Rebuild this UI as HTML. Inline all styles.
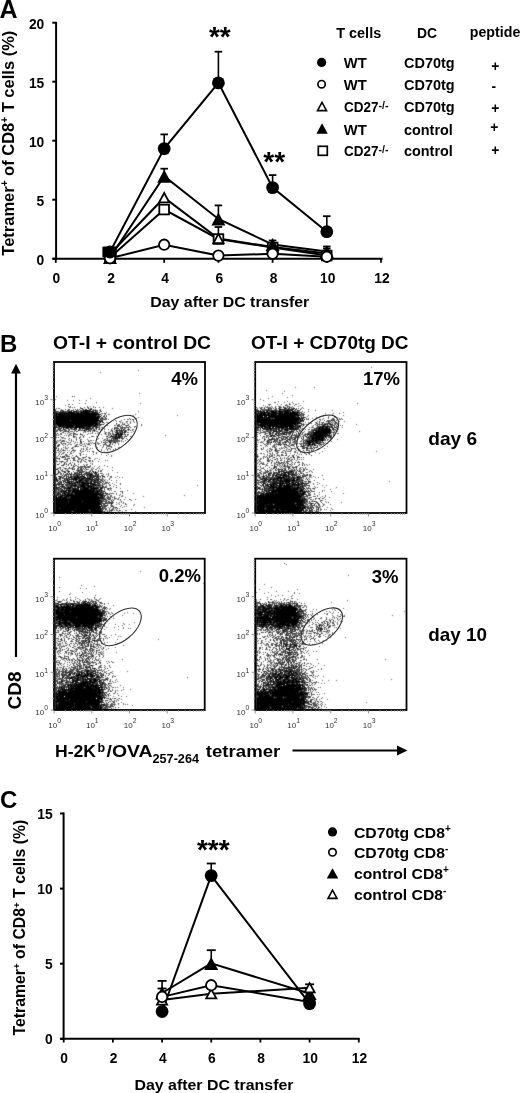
<!DOCTYPE html>
<html><head><meta charset="utf-8"><style>
html,body{margin:0;padding:0;background:#fff;width:520px;height:1093px;overflow:hidden}
svg{display:block;filter:grayscale(1)}
text{font-family:"Liberation Sans",sans-serif}
</style></head><body>
<svg width="520" height="1093" viewBox="0 0 520 1093" font-family="Liberation Sans, sans-serif">
<defs><filter id="bl" x="-2%" y="-2%" width="104%" height="104%"><feConvolveMatrix order="3" kernelMatrix="1 6 1 6 32 6 1 6 1" divisor="60" edgeMode="none"/></filter></defs>
<text x="-0.5" y="17.5" font-size="25" font-weight="bold">A</text>
<line x1="56.10" y1="22.00" x2="56.10" y2="259.50" stroke="#000" stroke-width="2"/>
<line x1="52.30" y1="258.70" x2="56.50" y2="258.70" stroke="#000" stroke-width="2"/>
<text x="44.3" y="264.7" font-size="13.8" font-weight="bold" text-anchor="end">0</text>
<line x1="52.30" y1="199.70" x2="56.50" y2="199.70" stroke="#000" stroke-width="2"/>
<text x="44.3" y="205.7" font-size="13.8" font-weight="bold" text-anchor="end">5</text>
<line x1="52.30" y1="140.70" x2="56.50" y2="140.70" stroke="#000" stroke-width="2"/>
<text x="44.3" y="146.7" font-size="13.8" font-weight="bold" text-anchor="end">10</text>
<line x1="52.30" y1="81.70" x2="56.50" y2="81.70" stroke="#000" stroke-width="2"/>
<text x="44.3" y="87.69999999999999" font-size="13.8" font-weight="bold" text-anchor="end">15</text>
<line x1="52.30" y1="22.70" x2="56.50" y2="22.70" stroke="#000" stroke-width="2"/>
<text x="44.3" y="28.69999999999999" font-size="13.8" font-weight="bold" text-anchor="end">20</text>
<line x1="52.50" y1="258.70" x2="382.60" y2="258.70" stroke="#000" stroke-width="2"/>
<line x1="55.80" y1="258.00" x2="55.80" y2="262.80" stroke="#000" stroke-width="1.8"/>
<text x="56.3" y="282.7" font-size="13.8" font-weight="bold" text-anchor="middle">0</text>
<line x1="110.00" y1="258.00" x2="110.00" y2="262.80" stroke="#000" stroke-width="1.8"/>
<text x="111.0" y="282.7" font-size="13.8" font-weight="bold" text-anchor="middle">2</text>
<line x1="164.20" y1="258.00" x2="164.20" y2="262.80" stroke="#000" stroke-width="1.8"/>
<text x="165.2" y="282.7" font-size="13.8" font-weight="bold" text-anchor="middle">4</text>
<line x1="218.40" y1="258.00" x2="218.40" y2="262.80" stroke="#000" stroke-width="1.8"/>
<text x="219.40000000000003" y="282.7" font-size="13.8" font-weight="bold" text-anchor="middle">6</text>
<line x1="272.60" y1="258.00" x2="272.60" y2="262.80" stroke="#000" stroke-width="1.8"/>
<text x="273.6" y="282.7" font-size="13.8" font-weight="bold" text-anchor="middle">8</text>
<line x1="326.80" y1="258.00" x2="326.80" y2="262.80" stroke="#000" stroke-width="1.8"/>
<text x="327.8" y="282.7" font-size="13.8" font-weight="bold" text-anchor="middle">10</text>
<line x1="381.00" y1="258.00" x2="381.00" y2="262.80" stroke="#000" stroke-width="1.8"/>
<text x="382.00000000000006" y="282.7" font-size="13.8" font-weight="bold" text-anchor="middle">12</text>
<text x="150.3" y="306.7" font-size="15.3" font-weight="bold" textLength="159" lengthAdjust="spacingAndGlyphs">Day after DC transfer</text>
<text transform="translate(13.5,143.2) rotate(-90)" font-size="16.5" font-weight="bold" text-anchor="middle">Tetramer<tspan dy="-5.5" font-size="10">+</tspan><tspan dy="5.5"> of CD8</tspan><tspan dy="-5.5" font-size="10">+</tspan><tspan dy="5.5"> T cells (%)</tspan></text>
<rect x="102.4" y="246.4" width="14.4" height="11" rx="1.2"/>
<polyline points="110.0,252.0 164.2,148.6 218.4,82.9 272.6,187.6 326.8,231.7" fill="none" stroke="#000" stroke-width="2"/>
<polyline points="110.0,258.3 164.2,244.7 218.4,255.6 272.6,253.8 326.8,256.8" fill="none" stroke="#000" stroke-width="2"/>
<polyline points="110.0,254.0 164.2,197.7 218.4,238.6 272.6,247.0 326.8,253.5" fill="none" stroke="#000" stroke-width="2"/>
<polyline points="110.0,257.5 164.2,176.3 218.4,219.0 272.6,244.5 326.8,251.5" fill="none" stroke="#000" stroke-width="2"/>
<polyline points="110.0,257.5 164.2,209.5 218.4,239.0 272.6,247.5 326.8,255.5" fill="none" stroke="#000" stroke-width="2"/>
<line x1="164.20" y1="148.60" x2="164.20" y2="134.40" stroke="#000" stroke-width="1.6"/>
<line x1="160.45" y1="134.40" x2="167.95" y2="134.40" stroke="#000" stroke-width="1.8"/>
<line x1="218.40" y1="82.90" x2="218.40" y2="51.70" stroke="#000" stroke-width="1.6"/>
<line x1="214.65" y1="51.70" x2="222.15" y2="51.70" stroke="#000" stroke-width="1.8"/>
<line x1="272.60" y1="187.60" x2="272.60" y2="175.10" stroke="#000" stroke-width="1.6"/>
<line x1="268.85" y1="175.10" x2="276.35" y2="175.10" stroke="#000" stroke-width="1.8"/>
<line x1="326.80" y1="231.70" x2="326.80" y2="216.20" stroke="#000" stroke-width="1.6"/>
<line x1="323.05" y1="216.20" x2="330.55" y2="216.20" stroke="#000" stroke-width="1.8"/>
<line x1="218.40" y1="238.60" x2="218.40" y2="227.00" stroke="#000" stroke-width="1.6"/>
<line x1="214.65" y1="227.00" x2="222.15" y2="227.00" stroke="#000" stroke-width="1.8"/>
<line x1="326.80" y1="253.50" x2="326.80" y2="248.50" stroke="#000" stroke-width="1.6"/>
<line x1="323.05" y1="248.50" x2="330.55" y2="248.50" stroke="#000" stroke-width="1.8"/>
<line x1="164.20" y1="176.30" x2="164.20" y2="168.70" stroke="#000" stroke-width="1.6"/>
<line x1="160.45" y1="168.70" x2="167.95" y2="168.70" stroke="#000" stroke-width="1.8"/>
<line x1="218.40" y1="219.00" x2="218.40" y2="205.40" stroke="#000" stroke-width="1.6"/>
<line x1="214.65" y1="205.40" x2="222.15" y2="205.40" stroke="#000" stroke-width="1.8"/>
<line x1="272.60" y1="244.50" x2="272.60" y2="240.50" stroke="#000" stroke-width="1.6"/>
<line x1="268.85" y1="240.50" x2="276.35" y2="240.50" stroke="#000" stroke-width="1.8"/>
<line x1="326.80" y1="251.50" x2="326.80" y2="246.50" stroke="#000" stroke-width="1.6"/>
<line x1="323.05" y1="246.50" x2="330.55" y2="246.50" stroke="#000" stroke-width="1.8"/>
<rect x="105.2" y="252.7" width="9.7" height="9.7" fill="#fff" stroke="#000" stroke-width="1.8"/>
<rect x="159.3" y="204.7" width="9.7" height="9.7" fill="#fff" stroke="#000" stroke-width="1.8"/>
<rect x="213.6" y="234.2" width="9.7" height="9.7" fill="#fff" stroke="#000" stroke-width="1.8"/>
<rect x="267.8" y="242.7" width="9.7" height="9.7" fill="#fff" stroke="#000" stroke-width="1.8"/>
<rect x="321.9" y="250.7" width="9.7" height="9.7" fill="#fff" stroke="#000" stroke-width="1.8"/>
<polygon points="110.0,249.3 115.0,258.6 105.0,258.6" fill="#fff" stroke="#000" stroke-width="1.8" stroke-linejoin="miter"/>
<polygon points="164.2,193.0 169.2,202.3 159.1,202.3" fill="#fff" stroke="#000" stroke-width="1.8" stroke-linejoin="miter"/>
<polygon points="218.4,233.9 223.5,243.2 213.4,243.2" fill="#fff" stroke="#000" stroke-width="1.8" stroke-linejoin="miter"/>
<polygon points="272.6,242.3 277.7,251.7 267.6,251.7" fill="#fff" stroke="#000" stroke-width="1.8" stroke-linejoin="miter"/>
<polygon points="326.8,248.8 331.9,258.1 321.8,258.1" fill="#fff" stroke="#000" stroke-width="1.8" stroke-linejoin="miter"/>
<polygon points="110.0,251.0 117.0,264.0 103.0,264.0"/>
<polygon points="164.2,169.8 171.2,182.8 157.2,182.8"/>
<polygon points="218.4,212.5 225.4,225.5 211.4,225.5"/>
<polygon points="272.6,238.0 279.6,251.0 265.6,251.0"/>
<polygon points="326.8,245.0 333.8,258.0 319.8,258.0"/>
<circle cx="110.0" cy="258.3" r="5.199999999999999" fill="#fff" stroke="#000" stroke-width="1.8"/>
<circle cx="164.2" cy="244.7" r="5.199999999999999" fill="#fff" stroke="#000" stroke-width="1.8"/>
<circle cx="218.4" cy="255.6" r="5.199999999999999" fill="#fff" stroke="#000" stroke-width="1.8"/>
<circle cx="272.6" cy="253.8" r="5.199999999999999" fill="#fff" stroke="#000" stroke-width="1.8"/>
<circle cx="326.8" cy="256.8" r="5.199999999999999" fill="#fff" stroke="#000" stroke-width="1.8"/>
<circle cx="110.0" cy="252.0" r="6.4"/>
<circle cx="164.2" cy="148.6" r="6.4"/>
<circle cx="218.4" cy="82.9" r="6.4"/>
<circle cx="272.6" cy="187.6" r="6.4"/>
<circle cx="326.8" cy="231.7" r="6.4"/>
<text x="219.8" y="45.5" font-size="28" font-weight="bold" text-anchor="middle">**</text>
<text x="274.2" y="170.5" font-size="28" font-weight="bold" text-anchor="middle">**</text>
<text x="336.2" y="37.8" font-size="13.8" font-weight="bold" textLength="45" lengthAdjust="spacingAndGlyphs">T cells</text>
<text x="417" y="37.8" font-size="13.8" font-weight="bold" textLength="20" lengthAdjust="spacingAndGlyphs">DC</text>
<text x="469.8" y="37.2" font-size="13.8" font-weight="bold" textLength="50.5" lengthAdjust="spacingAndGlyphs">peptide</text>
<circle cx="321.6" cy="62.400000000000006" r="4.6"/>
<text x="343.8" y="68.2" font-size="13.8" font-weight="bold" textLength="23" lengthAdjust="spacingAndGlyphs">WT</text>
<text x="404" y="68.2" font-size="13.8" font-weight="bold" textLength="50.6" lengthAdjust="spacingAndGlyphs">CD70tg</text>
<circle cx="321.6" cy="84.2" r="3.7" fill="#fff" stroke="#000" stroke-width="1.7"/>
<text x="343.8" y="90.0" font-size="13.8" font-weight="bold" textLength="23" lengthAdjust="spacingAndGlyphs">WT</text>
<text x="404" y="90.0" font-size="13.8" font-weight="bold" textLength="50.6" lengthAdjust="spacingAndGlyphs">CD70tg</text>
<polygon points="322,102.4 326.5,110.60000000000001 317.5,110.60000000000001" fill="#fff" stroke="#000" stroke-width="1.6"/>
<text x="344" y="112.4" font-size="13.8" font-weight="bold"><tspan textLength="34.5" lengthAdjust="spacingAndGlyphs">CD27</tspan><tspan dy="-3.2" font-size="10.5">-/-</tspan></text>
<text x="404" y="112.4" font-size="13.8" font-weight="bold" textLength="50.6" lengthAdjust="spacingAndGlyphs">CD70tg</text>
<polygon points="322,123.29999999999998 327.8,133.7 316.4,133.7"/>
<text x="343.8" y="134.5" font-size="13.8" font-weight="bold" textLength="23" lengthAdjust="spacingAndGlyphs">WT</text>
<text x="404" y="134.5" font-size="13.8" font-weight="bold" textLength="48.8" lengthAdjust="spacingAndGlyphs">control</text>
<rect x="318.3" y="146.29999999999998" width="9" height="9" fill="#fff" stroke="#000" stroke-width="1.7"/>
<text x="344" y="156.4" font-size="13.8" font-weight="bold"><tspan textLength="34.5" lengthAdjust="spacingAndGlyphs">CD27</tspan><tspan dy="-3.2" font-size="10.5">-/-</tspan></text>
<text x="404" y="156.4" font-size="13.8" font-weight="bold" textLength="48.8" lengthAdjust="spacingAndGlyphs">control</text>
<text x="495.4" y="70.6" font-size="13.8" font-weight="bold" text-anchor="middle">+</text>
<text x="493.8" y="90.9" font-size="13.8" font-weight="bold" text-anchor="middle">-</text>
<text x="495.4" y="113.2" font-size="13.8" font-weight="bold" text-anchor="middle">+</text>
<text x="494.2" y="131.9" font-size="13.8" font-weight="bold" text-anchor="middle">+</text>
<text x="495.4" y="154.5" font-size="13.8" font-weight="bold" text-anchor="middle">+</text>
<text x="0" y="352.3" font-size="24" font-weight="bold">B</text>
<text x="53" y="348.8" font-size="19" font-weight="bold" textLength="158" lengthAdjust="spacingAndGlyphs">OT-I + control DC</text>
<text x="251" y="348.8" font-size="19" font-weight="bold" textLength="157.5" lengthAdjust="spacingAndGlyphs">OT-I + CD70tg DC</text>
<g filter="url(#bl)">
<path d="M138 370.5h1M100 372.5h1M139 393.5h1M56 396.5h1M74 396.5h1M90 398.5h1M55 399.5h1M67 400.5h1M73 400.5h1M79 400.5h1M86 400.5h1M96 402.5h1M79 403.5h1M85 403.5h1M140 403.5h1M68 404.5h2M72 404.5h1M65 405.5h1M68 406.5h1M70 406.5h1M87 406.5h1M90 406.5h1M93 406.5h1M69 407.5h2M72 407.5h1M74 407.5h1M80 407.5h1M84 407.5h1M87 407.5h2M93 407.5h1M99 407.5h1M103 407.5h1M56 408.5h1M58 408.5h2M80 408.5h1M90 408.5h1M112 408.5h1M61 409.5h1M69 409.5h1M73 409.5h1M75 409.5h1M79 409.5h1M82 409.5h1M89 409.5h1M93 409.5h1M95 409.5h1M100 409.5h1M60 410.5h2M63 410.5h1M68 410.5h2M72 410.5h2M77 410.5h2M81 410.5h2M92 410.5h1M94 410.5h1M96 410.5h2M99 410.5h1M56 411.5h1M58 411.5h1M61 411.5h1M64 411.5h1M66 411.5h2M77 411.5h3M96 411.5h2M100 411.5h2M138 411.5h1M57 412.5h2M75 412.5h1M79 412.5h1M90 412.5h1M106 412.5h1M101 413.5h2M105 413.5h1M105 414.5h1M108 414.5h2M135 414.5h1M97 415.5h1M99 415.5h1M106 415.5h1M130 415.5h1M133 415.5h1M177 415.5h1M104 416.5h1M102 417.5h1M104 417.5h2M138 417.5h1M99 418.5h3M103 418.5h1M106 418.5h1M129 418.5h1M135 418.5h2M101 419.5h3M106 419.5h1M108 419.5h1M124 419.5h1M127 419.5h2M133 419.5h1M100 420.5h1M115 420.5h1M121 420.5h1M133 420.5h1M98 421.5h1M116 421.5h1M119 421.5h2M126 421.5h2M130 421.5h1M133 421.5h1M98 422.5h1M106 422.5h2M120 422.5h1M122 422.5h1M126 422.5h1M130 422.5h1M134 422.5h1M104 423.5h1M122 423.5h1M124 423.5h1M127 423.5h1M130 423.5h1M98 424.5h1M102 424.5h1M116 424.5h1M118 424.5h2M122 424.5h2M128 424.5h1M141 424.5h1M56 425.5h1M99 425.5h1M107 425.5h1M114 425.5h2M119 425.5h1M125 425.5h2M128 425.5h1M141 425.5h1M74 426.5h1M92 426.5h1M97 426.5h1M99 426.5h1M104 426.5h1M117 426.5h4M122 426.5h1M126 426.5h1M134 426.5h2M58 427.5h1M62 427.5h1M85 427.5h1M99 427.5h1M101 427.5h2M114 427.5h4M120 427.5h2M123 427.5h5M134 427.5h1M59 428.5h1M65 428.5h1M72 428.5h1M81 428.5h1M93 428.5h1M95 428.5h1M102 428.5h1M104 428.5h1M112 428.5h1M115 428.5h3M120 428.5h2M124 428.5h2M128 428.5h1M57 429.5h1M59 429.5h1M65 429.5h1M68 429.5h1M71 429.5h2M75 429.5h1M78 429.5h1M80 429.5h1M82 429.5h1M84 429.5h2M89 429.5h2M93 429.5h1M98 429.5h1M104 429.5h1M108 429.5h1M111 429.5h1M116 429.5h2M124 429.5h1M127 429.5h1M129 429.5h1M132 429.5h2M56 430.5h1M60 430.5h1M64 430.5h3M68 430.5h2M74 430.5h2M79 430.5h4M85 430.5h1M88 430.5h1M92 430.5h1M95 430.5h1M101 430.5h1M112 430.5h1M115 430.5h1M119 430.5h1M122 430.5h1M124 430.5h1M126 430.5h1M128 430.5h1M132 430.5h1M56 431.5h2M63 431.5h2M66 431.5h2M70 431.5h3M74 431.5h1M77 431.5h1M85 431.5h1M87 431.5h1M92 431.5h1M96 431.5h2M104 431.5h1M110 431.5h1M114 431.5h1M120 431.5h1M126 431.5h1M133 431.5h1M62 432.5h1M68 432.5h2M73 432.5h1M83 432.5h1M85 432.5h1M92 432.5h1M98 432.5h1M105 432.5h2M108 432.5h2M112 432.5h1M118 432.5h2M121 432.5h1M123 432.5h1M127 432.5h2M131 432.5h1M60 433.5h2M65 433.5h1M67 433.5h1M70 433.5h2M74 433.5h2M80 433.5h1M88 433.5h1M90 433.5h1M92 433.5h1M95 433.5h1M97 433.5h1M99 433.5h1M104 433.5h2M108 433.5h3M112 433.5h2M119 433.5h1M124 433.5h1M56 434.5h1M58 434.5h1M60 434.5h2M69 434.5h2M73 434.5h4M81 434.5h2M87 434.5h1M101 434.5h1M105 434.5h2M108 434.5h1M112 434.5h3M123 434.5h3M127 434.5h2M56 435.5h1M58 435.5h1M64 435.5h1M66 435.5h1M68 435.5h2M71 435.5h1M82 435.5h1M84 435.5h1M108 435.5h2M113 435.5h2M117 435.5h1M125 435.5h1M127 435.5h1M165 435.5h1M60 436.5h1M68 436.5h1M74 436.5h2M80 436.5h1M91 436.5h1M93 436.5h1M96 436.5h1M114 436.5h1M117 436.5h1M122 436.5h1M124 436.5h2M130 436.5h2M56 437.5h1M61 437.5h3M73 437.5h2M76 437.5h1M79 437.5h2M83 437.5h1M89 437.5h1M108 437.5h1M110 437.5h1M113 437.5h1M121 437.5h2M124 437.5h1M62 438.5h1M64 438.5h2M76 438.5h1M79 438.5h1M98 438.5h1M102 438.5h1M106 438.5h1M111 438.5h2M118 438.5h1M126 438.5h1M60 439.5h1M68 439.5h1M71 439.5h1M76 439.5h1M80 439.5h2M87 439.5h1M97 439.5h1M104 439.5h2M107 439.5h1M109 439.5h1M114 439.5h1M116 439.5h1M122 439.5h1M127 439.5h1M57 440.5h1M59 440.5h2M63 440.5h2M69 440.5h1M71 440.5h1M76 440.5h1M88 440.5h1M90 440.5h2M93 440.5h1M103 440.5h2M108 440.5h2M113 440.5h3M117 440.5h3M121 440.5h1M125 440.5h1M56 441.5h1M58 441.5h1M61 441.5h4M66 441.5h1M71 441.5h1M81 441.5h1M83 441.5h1M88 441.5h2M101 441.5h1M105 441.5h1M108 441.5h1M111 441.5h3M115 441.5h5M121 441.5h1M123 441.5h1M56 442.5h2M60 442.5h2M67 442.5h2M70 442.5h1M75 442.5h1M77 442.5h1M80 442.5h1M90 442.5h1M92 442.5h1M97 442.5h1M101 442.5h1M104 442.5h4M111 442.5h1M117 442.5h1M56 443.5h1M64 443.5h2M69 443.5h1M74 443.5h1M80 443.5h2M84 443.5h1M86 443.5h1M88 443.5h2M91 443.5h1M93 443.5h1M97 443.5h3M112 443.5h1M115 443.5h1M118 443.5h1M58 444.5h1M68 444.5h1M70 444.5h2M76 444.5h2M79 444.5h1M82 444.5h1M84 444.5h1M87 444.5h1M89 444.5h1M98 444.5h1M103 444.5h1M105 444.5h2M110 444.5h1M112 444.5h1M118 444.5h1M57 445.5h1M59 445.5h1M63 445.5h1M67 445.5h1M75 445.5h2M80 445.5h2M85 445.5h1M90 445.5h1M95 445.5h1M100 445.5h1M103 445.5h1M106 445.5h4M114 445.5h1M58 446.5h1M65 446.5h1M74 446.5h1M76 446.5h3M103 446.5h1M107 446.5h3M111 446.5h1M56 447.5h1M63 447.5h1M65 447.5h1M68 447.5h1M72 447.5h2M97 447.5h1M106 447.5h1M111 447.5h1M118 447.5h2M61 448.5h1M65 448.5h3M71 448.5h1M81 448.5h1M83 448.5h1M86 448.5h1M90 448.5h1M92 448.5h1M106 448.5h1M108 448.5h2M115 448.5h1M58 449.5h1M61 449.5h1M63 449.5h1M73 449.5h1M81 449.5h1M86 449.5h2M89 449.5h1M101 449.5h1M113 449.5h1M115 449.5h1M60 450.5h1M62 450.5h1M64 450.5h2M67 450.5h1M69 450.5h1M73 450.5h3M85 450.5h1M98 450.5h1M101 450.5h1M107 450.5h1M113 450.5h1M59 451.5h1M61 451.5h1M74 451.5h1M80 451.5h1M82 451.5h2M87 451.5h1M89 451.5h1M93 451.5h1M104 451.5h1M112 451.5h1M56 452.5h1M58 452.5h1M60 452.5h1M63 452.5h2M70 452.5h1M73 452.5h1M81 452.5h1M93 452.5h1M96 452.5h1M59 453.5h1M62 453.5h2M70 453.5h1M79 453.5h2M59 454.5h1M61 454.5h1M65 454.5h2M69 454.5h1M83 454.5h1M86 454.5h1M93 454.5h1M101 454.5h1M108 454.5h1M58 455.5h1M65 455.5h3M72 455.5h1M76 455.5h1M106 455.5h1M111 455.5h1M57 456.5h1M62 456.5h2M66 456.5h2M69 456.5h1M75 456.5h3M111 456.5h1M56 457.5h1M61 457.5h1M64 457.5h2M71 457.5h1M73 457.5h2M77 457.5h2M82 457.5h4M88 457.5h2M56 458.5h1M58 458.5h1M65 458.5h1M67 458.5h1M72 458.5h3M78 458.5h3M83 458.5h1M90 458.5h1M95 458.5h1M97 458.5h1M64 459.5h4M73 459.5h2M78 459.5h2M81 459.5h1M86 459.5h1M94 459.5h1M99 459.5h1M56 460.5h1M70 460.5h1M74 460.5h2M77 460.5h1M81 460.5h1M83 460.5h1M88 460.5h3M92 460.5h1M105 460.5h1M107 460.5h1M56 461.5h2M59 461.5h3M63 461.5h1M66 461.5h2M78 461.5h1M80 461.5h2M84 461.5h1M89 461.5h2M98 461.5h1M64 462.5h2M70 462.5h1M72 462.5h1M78 462.5h1M86 462.5h1M59 463.5h1M66 463.5h1M69 463.5h2M90 463.5h1M92 463.5h1M63 464.5h1M71 464.5h1M78 464.5h1M83 464.5h1M86 464.5h2M92 464.5h1M61 465.5h1M68 465.5h1M73 465.5h1M75 465.5h2M84 465.5h1M90 465.5h1M104 465.5h1M66 466.5h1M77 466.5h2M80 466.5h1M82 466.5h2M85 466.5h1M87 466.5h4M94 466.5h1M99 466.5h1M107 466.5h1M59 467.5h1M63 467.5h1M72 467.5h2M78 467.5h5M84 467.5h2M87 467.5h1M89 467.5h1M92 467.5h1M98 467.5h1M112 467.5h1M57 468.5h1M60 468.5h1M64 468.5h1M66 468.5h1M68 468.5h4M74 468.5h1M77 468.5h1M80 468.5h1M91 468.5h1M93 468.5h1M97 468.5h1M99 468.5h1M60 469.5h1M62 469.5h1M65 469.5h1M67 469.5h1M73 469.5h2M77 469.5h2M82 469.5h1M84 469.5h1M87 469.5h2M91 469.5h2M95 469.5h2M102 469.5h1M58 470.5h1M62 470.5h1M66 470.5h3M76 470.5h2M80 470.5h2M85 470.5h1M92 470.5h1M98 470.5h1M100 470.5h2M112 470.5h1M59 471.5h1M63 471.5h1M65 471.5h1M67 471.5h1M73 471.5h1M77 471.5h1M79 471.5h4M84 471.5h1M86 471.5h1M90 471.5h1M100 471.5h2M59 472.5h2M71 472.5h1M74 472.5h3M82 472.5h2M85 472.5h1M91 472.5h1M94 472.5h1M97 472.5h1M117 472.5h1M57 473.5h2M60 473.5h2M63 473.5h1M66 473.5h1M76 473.5h2M84 473.5h1M87 473.5h2M92 473.5h1M98 473.5h1M100 473.5h3M108 473.5h1M57 474.5h1M60 474.5h2M63 474.5h1M66 474.5h2M69 474.5h1M72 474.5h2M75 474.5h1M78 474.5h1M82 474.5h1M84 474.5h3M97 474.5h1M103 474.5h1M106 474.5h1M108 474.5h1M65 475.5h1M68 475.5h1M70 475.5h2M73 475.5h3M81 475.5h1M88 475.5h1M94 475.5h1M96 475.5h1M101 475.5h1M108 475.5h1M63 476.5h1M67 476.5h1M72 476.5h1M79 476.5h1M88 476.5h1M92 476.5h1M99 476.5h2M107 476.5h1M110 476.5h2M117 476.5h1M59 477.5h1M61 477.5h1M63 477.5h1M72 477.5h2M82 477.5h1M88 477.5h1M94 477.5h1M100 477.5h1M102 477.5h1M104 477.5h1M110 477.5h2M115 477.5h1M119 477.5h1M122 477.5h1M58 478.5h1M63 478.5h1M65 478.5h1M67 478.5h1M69 478.5h1M80 478.5h1M91 478.5h1M94 478.5h1M97 478.5h1M99 478.5h1M109 478.5h1M65 479.5h1M68 479.5h1M78 479.5h1M84 479.5h1M95 479.5h1M99 479.5h5M105 479.5h1M109 479.5h1M58 480.5h1M60 480.5h1M63 480.5h2M66 480.5h1M69 480.5h1M71 480.5h1M74 480.5h1M83 480.5h1M89 480.5h2M93 480.5h1M96 480.5h1M100 480.5h1M102 480.5h1M107 480.5h1M111 480.5h1M116 480.5h1M56 481.5h1M60 481.5h2M65 481.5h1M75 481.5h1M84 481.5h1M88 481.5h2M92 481.5h1M96 481.5h1M98 481.5h1M100 481.5h1M103 481.5h1M105 481.5h1M59 482.5h1M70 482.5h1M72 482.5h2M89 482.5h1M93 482.5h1M98 482.5h2M103 482.5h1M105 482.5h1M109 482.5h1M116 482.5h1M60 483.5h1M66 483.5h2M76 483.5h1M78 483.5h1M80 483.5h1M95 483.5h1M104 483.5h3M112 483.5h1M120 483.5h1M60 484.5h1M66 484.5h1M68 484.5h1M70 484.5h1M73 484.5h1M76 484.5h2M97 484.5h2M100 484.5h1M102 484.5h3M109 484.5h1M114 484.5h1M120 484.5h1M58 485.5h2M61 485.5h1M63 485.5h1M65 485.5h1M68 485.5h2M77 485.5h2M100 485.5h2M106 485.5h1M109 485.5h2M116 485.5h1M197 485.5h1M56 486.5h1M59 486.5h1M66 486.5h2M69 486.5h1M72 486.5h1M79 486.5h1M86 486.5h1M94 486.5h7M105 486.5h2M113 486.5h1M61 487.5h1M63 487.5h1M66 487.5h1M75 487.5h1M99 487.5h1M103 487.5h1M105 487.5h2M110 487.5h1M58 488.5h2M63 488.5h1M71 488.5h1M89 488.5h1M104 488.5h1M107 488.5h1M109 488.5h3M120 488.5h1M56 489.5h1M59 489.5h3M67 489.5h1M71 489.5h1M97 489.5h2M104 489.5h1M107 489.5h1M110 489.5h1M59 490.5h2M64 490.5h1M95 490.5h1M104 490.5h1M109 490.5h1M111 490.5h1M127 490.5h1M56 491.5h4M71 491.5h1M100 491.5h1M102 491.5h1M114 491.5h2M120 491.5h3M56 492.5h2M59 492.5h2M62 492.5h1M70 492.5h1M99 492.5h1M102 492.5h2M56 493.5h1M66 493.5h1M73 493.5h1M101 493.5h1M104 493.5h1M109 493.5h5M116 493.5h1M122 493.5h1M133 493.5h1M56 494.5h1M59 494.5h1M61 494.5h1M63 494.5h1M103 494.5h1M107 494.5h3M116 494.5h1M120 494.5h1M58 495.5h2M98 495.5h1M107 495.5h1M110 495.5h2M122 495.5h1M184 495.5h1M63 496.5h1M99 496.5h1M103 496.5h1M107 496.5h2M110 496.5h2M114 496.5h1M121 496.5h2M143 496.5h1M69 497.5h1M104 497.5h1M106 497.5h5M119 497.5h1M125 497.5h1M104 498.5h2M108 498.5h3M114 498.5h3M118 498.5h1M100 499.5h2M103 499.5h1M106 499.5h1M110 499.5h1M112 499.5h1M114 499.5h1M117 499.5h2M120 499.5h1M124 499.5h1M129 499.5h2M135 499.5h1M102 500.5h1M105 500.5h3M120 500.5h1M131 500.5h1M102 501.5h2M105 501.5h2M109 501.5h1M111 501.5h1M121 501.5h1M102 502.5h1M105 502.5h4M111 502.5h3M116 502.5h1M119 502.5h1M121 502.5h1M123 502.5h1M101 503.5h1M104 503.5h1M107 503.5h4M118 503.5h1M123 503.5h1M125 503.5h1M103 504.5h1M107 504.5h1M116 504.5h1M119 504.5h1M125 504.5h2M134 504.5h1M102 505.5h3M106 505.5h1M110 505.5h3M121 505.5h1M133 505.5h1M102 506.5h2M105 506.5h2M112 506.5h1M120 506.5h1M124 506.5h1M126 506.5h1M103 507.5h3M108 507.5h1M110 507.5h1M113 507.5h3M122 507.5h1M144 507.5h1M103 508.5h4M109 508.5h1M112 508.5h2M115 508.5h1M119 508.5h1M103 509.5h1M106 509.5h1M109 509.5h1M111 509.5h3M116 509.5h1M131 509.5h1M89 510.5h1M102 510.5h1M105 510.5h1M107 510.5h1M109 510.5h2M114 510.5h1M116 510.5h2M120 510.5h1M125 510.5h2M72 511.5h1M103 511.5h1M111 511.5h1M118 511.5h1M122 511.5h1M135 511.5h1M115 512.5h1M118 512.5h2M121 512.5h1M124 512.5h1M126 512.5h1M132 512.5h1" stroke="#606060" stroke-width="1" fill="none" shape-rendering="crispEdges"/>
<path d="M72 396.5h1M95 407.5h1M82 408.5h1M91 408.5h1M55 409.5h1M65 409.5h1M68 409.5h1M77 409.5h1M83 409.5h1M85 409.5h2M90 409.5h1M62 410.5h1M67 410.5h1M80 410.5h1M83 410.5h2M90 410.5h1M100 410.5h1M60 411.5h1M62 411.5h1M65 411.5h1M68 411.5h1M70 411.5h1M73 411.5h1M80 411.5h1M82 411.5h1M88 411.5h1M90 411.5h1M61 412.5h1M63 412.5h1M65 412.5h1M67 412.5h1M92 412.5h1M94 412.5h1M97 412.5h1M57 413.5h1M96 413.5h1M98 413.5h1M65 414.5h1M99 414.5h1M57 415.5h1M101 415.5h1M104 415.5h1M96 416.5h1M103 416.5h1M106 416.5h1M105 418.5h1M100 419.5h1M104 419.5h2M130 419.5h1M132 419.5h1M70 420.5h1M102 420.5h1M101 421.5h1M97 422.5h1M99 422.5h1M102 422.5h2M98 423.5h1M116 423.5h1M94 424.5h1M97 424.5h1M99 424.5h3M103 424.5h1M124 424.5h1M92 425.5h1M96 425.5h1M100 425.5h1M117 425.5h1M121 425.5h1M127 425.5h1M64 426.5h1M95 426.5h1M129 426.5h1M57 427.5h1M65 427.5h1M87 427.5h2M90 427.5h1M95 427.5h1M97 427.5h2M122 427.5h1M128 427.5h1M130 427.5h1M58 428.5h1M60 428.5h2M67 428.5h2M70 428.5h1M80 428.5h1M90 428.5h3M96 428.5h1M99 428.5h1M60 429.5h1M74 429.5h1M76 429.5h1M79 429.5h1M94 429.5h1M96 429.5h1M99 429.5h1M114 429.5h1M59 430.5h1M61 430.5h2M83 430.5h2M86 430.5h1M89 430.5h2M93 430.5h2M116 430.5h2M120 430.5h1M123 430.5h1M125 430.5h1M130 430.5h1M60 431.5h1M65 431.5h1M68 431.5h1M76 431.5h1M84 431.5h1M88 431.5h1M90 431.5h1M94 431.5h1M112 431.5h1M117 431.5h1M121 431.5h1M124 431.5h1M63 432.5h1M116 432.5h2M122 432.5h1M125 432.5h1M57 433.5h1M73 433.5h1M116 433.5h1M121 433.5h1M77 434.5h1M80 434.5h1M110 434.5h1M117 434.5h1M119 434.5h1M73 435.5h1M119 435.5h2M73 436.5h1M83 436.5h1M92 436.5h1M106 436.5h1M110 436.5h1M120 436.5h1M126 436.5h1M58 437.5h1M109 437.5h1M112 437.5h1M115 437.5h2M120 437.5h1M69 438.5h1M107 438.5h1M114 438.5h1M121 438.5h3M113 439.5h1M115 439.5h1M62 440.5h1M80 440.5h1M106 440.5h2M110 440.5h3M116 440.5h1M73 441.5h1M110 441.5h1M114 441.5h1M81 442.5h1M103 442.5h1M109 442.5h2M113 442.5h3M61 443.5h1M63 443.5h1M94 443.5h1M105 443.5h1M59 444.5h1M62 444.5h1M65 444.5h1M88 444.5h1M58 445.5h1M57 446.5h1M75 446.5h1M83 446.5h1M85 446.5h1M110 446.5h1M87 447.5h1M102 447.5h1M56 448.5h1M58 448.5h1M72 448.5h1M83 449.5h1M107 449.5h1M110 449.5h1M57 450.5h2M63 450.5h1M72 450.5h1M80 450.5h1M71 451.5h1M92 451.5h1M67 452.5h1M71 453.5h1M96 453.5h1M80 454.5h1M80 455.5h1M60 456.5h1M68 456.5h1M86 456.5h1M62 457.5h2M57 458.5h1M59 458.5h1M68 458.5h2M89 458.5h1M59 459.5h1M82 459.5h1M85 459.5h1M67 460.5h1M73 460.5h1M62 461.5h1M77 461.5h1M85 461.5h1M92 461.5h1M80 462.5h1M64 463.5h1M74 463.5h1M57 464.5h2M64 464.5h1M68 464.5h1M74 464.5h1M62 465.5h2M86 465.5h1M73 466.5h2M81 466.5h1M84 466.5h1M60 467.5h1M69 467.5h1M86 467.5h1M88 467.5h1M58 468.5h1M65 468.5h1M72 468.5h1M78 468.5h1M81 468.5h1M83 468.5h1M85 468.5h1M56 469.5h2M80 469.5h2M86 469.5h1M61 470.5h1M78 470.5h2M82 470.5h1M90 470.5h1M58 471.5h1M62 471.5h1M64 471.5h1M68 471.5h1M78 471.5h1M83 471.5h1M89 471.5h1M93 471.5h1M95 471.5h1M98 471.5h1M65 472.5h1M81 472.5h1M86 472.5h4M93 472.5h1M96 472.5h1M67 473.5h1M71 473.5h1M75 473.5h1M78 473.5h2M85 473.5h1M89 473.5h3M95 473.5h2M56 474.5h1M65 474.5h1M68 474.5h1M71 474.5h1M74 474.5h1M76 474.5h1M79 474.5h1M89 474.5h1M92 474.5h1M95 474.5h1M98 474.5h1M66 475.5h1M76 475.5h4M84 475.5h1M86 475.5h2M90 475.5h1M93 475.5h1M95 475.5h1M98 475.5h1M58 476.5h1M60 476.5h2M66 476.5h1M68 476.5h1M75 476.5h2M84 476.5h1M87 476.5h1M89 476.5h1M91 476.5h1M96 476.5h3M102 476.5h3M56 477.5h1M62 477.5h1M68 477.5h1M81 477.5h1M89 477.5h1M91 477.5h1M93 477.5h1M96 477.5h2M59 478.5h2M62 478.5h1M72 478.5h2M77 478.5h1M85 478.5h1M96 478.5h1M98 478.5h1M102 478.5h1M56 479.5h2M59 479.5h2M64 479.5h1M66 479.5h1M71 479.5h1M85 479.5h4M92 479.5h1M94 479.5h1M97 479.5h1M56 480.5h1M68 480.5h1M87 480.5h1M95 480.5h1M68 481.5h1M70 481.5h1M72 481.5h2M78 481.5h1M81 481.5h2M93 481.5h2M99 481.5h1M102 481.5h1M58 482.5h1M60 482.5h2M63 482.5h1M68 482.5h1M80 482.5h1M85 482.5h3M90 482.5h1M97 482.5h1M101 482.5h1M106 482.5h2M57 483.5h3M64 483.5h1M74 483.5h1M93 483.5h1M98 483.5h1M102 483.5h1M108 483.5h1M56 484.5h3M61 484.5h1M71 484.5h1M78 484.5h2M81 484.5h1M85 484.5h1M87 484.5h1M90 484.5h2M95 484.5h1M99 484.5h1M56 485.5h1M62 485.5h1M67 485.5h1M85 485.5h1M89 485.5h1M91 485.5h3M96 485.5h1M102 485.5h1M61 486.5h1M64 486.5h1M73 486.5h2M76 486.5h1M92 486.5h1M103 486.5h1M57 487.5h1M64 487.5h2M69 487.5h1M71 487.5h1M74 487.5h1M80 487.5h2M89 487.5h1M92 487.5h1M95 487.5h2M98 487.5h1M100 487.5h1M102 487.5h1M116 487.5h1M56 488.5h2M61 488.5h1M65 488.5h2M74 488.5h1M77 488.5h2M82 488.5h1M102 488.5h1M108 488.5h1M57 489.5h2M64 489.5h1M68 489.5h3M76 489.5h1M81 489.5h1M92 489.5h1M100 489.5h2M108 489.5h1M56 490.5h1M58 490.5h1M62 490.5h1M71 490.5h1M98 490.5h1M100 490.5h3M60 491.5h2M66 491.5h1M103 491.5h1M58 492.5h1M63 492.5h1M65 492.5h1M94 492.5h1M105 492.5h1M122 492.5h1M55 493.5h1M57 493.5h1M59 493.5h2M63 493.5h1M69 493.5h2M103 493.5h1M105 493.5h3M62 494.5h1M74 494.5h1M106 494.5h1M57 495.5h1M65 495.5h1M102 495.5h3M119 495.5h1M64 496.5h1M101 496.5h1M58 497.5h1M67 497.5h1M103 497.5h1M114 497.5h1M61 498.5h1M67 498.5h2M102 498.5h1M107 498.5h1M102 499.5h1M104 499.5h1M108 499.5h2M113 500.5h1M68 501.5h1M82 501.5h1M100 501.5h1M104 501.5h1M112 501.5h1M100 502.5h1M109 502.5h2M100 503.5h1M102 503.5h2M105 503.5h2M101 504.5h1M111 504.5h1M99 505.5h1M101 506.5h1M111 506.5h1M113 506.5h1M59 508.5h1M100 508.5h3M117 508.5h1M75 509.5h1M99 509.5h1M101 509.5h2M105 509.5h1M101 510.5h1M111 510.5h2M119 510.5h1M73 511.5h1M107 511.5h1M105 512.5h1M107 512.5h1M109 512.5h2M114 512.5h1" stroke="#2a2a2a" stroke-width="1" fill="none" shape-rendering="crispEdges"/>
<path d="M81 408.5h1M88 408.5h1M91 409.5h1M55 410.5h1M71 410.5h1M76 410.5h1M85 410.5h5M93 410.5h1M95 410.5h1M55 411.5h1M57 411.5h1M63 411.5h1M69 411.5h1M71 411.5h1M74 411.5h3M81 411.5h1M83 411.5h5M89 411.5h1M91 411.5h3M95 411.5h1M55 412.5h2M59 412.5h2M62 412.5h1M64 412.5h1M66 412.5h1M68 412.5h7M76 412.5h3M80 412.5h10M91 412.5h1M93 412.5h1M95 412.5h2M99 412.5h1M55 413.5h2M58 413.5h38M97 413.5h1M104 413.5h1M55 414.5h10M66 414.5h33M100 414.5h1M55 415.5h2M58 415.5h39M98 415.5h1M55 416.5h41M97 416.5h4M55 417.5h45M101 417.5h1M55 418.5h44M102 418.5h1M55 419.5h44M55 420.5h15M71 420.5h29M101 420.5h1M55 421.5h43M99 421.5h2M102 421.5h1M55 422.5h42M100 422.5h1M55 423.5h43M99 423.5h1M55 424.5h39M95 424.5h2M55 425.5h1M57 425.5h35M93 425.5h3M97 425.5h2M118 425.5h1M55 426.5h2M58 426.5h6M65 426.5h9M75 426.5h17M93 426.5h2M96 426.5h1M55 427.5h2M59 427.5h1M61 427.5h1M63 427.5h2M66 427.5h19M86 427.5h1M89 427.5h1M92 427.5h2M96 427.5h1M55 428.5h1M63 428.5h1M66 428.5h1M71 428.5h1M74 428.5h3M79 428.5h1M82 428.5h8M114 428.5h1M118 428.5h1M122 428.5h1M55 429.5h1M58 429.5h1M63 429.5h2M69 429.5h1M73 429.5h1M86 429.5h3M91 429.5h1M101 429.5h1M119 429.5h1M121 429.5h1M123 429.5h1M128 429.5h1M55 430.5h1M57 430.5h1M78 430.5h1M111 430.5h1M118 430.5h1M121 430.5h1M55 431.5h1M116 431.5h1M119 431.5h1M122 431.5h1M125 431.5h1M55 432.5h1M115 432.5h1M120 432.5h1M124 432.5h1M55 433.5h1M117 433.5h2M120 433.5h1M122 433.5h1M55 434.5h1M115 434.5h2M118 434.5h1M120 434.5h3M55 435.5h1M111 435.5h1M115 435.5h2M118 435.5h1M121 435.5h1M55 436.5h1M107 436.5h1M111 436.5h3M115 436.5h2M118 436.5h2M121 436.5h1M55 437.5h1M114 437.5h1M117 437.5h3M55 438.5h1M113 438.5h1M115 438.5h3M119 438.5h1M55 439.5h1M111 439.5h1M117 439.5h1M55 440.5h1M55 441.5h1M80 441.5h1M109 441.5h1M55 442.5h1M55 443.5h1M110 443.5h1M55 444.5h1M104 444.5h1M109 444.5h1M55 445.5h1M55 446.5h1M55 447.5h1M55 448.5h1M55 449.5h1M55 450.5h1M55 451.5h1M55 452.5h1M55 453.5h1M55 454.5h1M55 455.5h1M55 456.5h1M64 456.5h1M55 457.5h1M55 458.5h1M55 459.5h1M55 460.5h1M55 461.5h1M55 462.5h1M61 462.5h1M55 463.5h1M55 464.5h1M66 464.5h1M55 465.5h1M71 465.5h1M55 466.5h1M55 467.5h1M55 468.5h1M55 469.5h1M72 469.5h1M55 470.5h1M55 471.5h1M69 471.5h1M92 471.5h1M55 472.5h1M58 472.5h1M64 472.5h1M68 472.5h1M77 472.5h1M79 472.5h2M95 472.5h1M55 473.5h1M69 473.5h1M74 473.5h1M81 473.5h1M86 473.5h1M94 473.5h1M55 474.5h1M70 474.5h1M77 474.5h1M80 474.5h2M83 474.5h1M87 474.5h2M90 474.5h2M96 474.5h1M55 475.5h1M62 475.5h1M64 475.5h1M82 475.5h1M89 475.5h1M91 475.5h2M97 475.5h1M102 475.5h1M55 476.5h1M59 476.5h1M64 476.5h1M70 476.5h2M73 476.5h2M77 476.5h2M80 476.5h4M90 476.5h1M93 476.5h3M55 477.5h1M60 477.5h1M66 477.5h1M69 477.5h3M74 477.5h7M83 477.5h3M87 477.5h1M90 477.5h1M92 477.5h1M98 477.5h1M55 478.5h2M64 478.5h1M66 478.5h1M68 478.5h1M71 478.5h1M74 478.5h3M78 478.5h2M81 478.5h4M86 478.5h5M92 478.5h1M95 478.5h1M55 479.5h1M67 479.5h1M69 479.5h2M72 479.5h6M79 479.5h5M89 479.5h3M93 479.5h1M96 479.5h1M98 479.5h1M55 480.5h1M57 480.5h1M62 480.5h1M65 480.5h1M67 480.5h1M73 480.5h1M75 480.5h2M78 480.5h5M84 480.5h3M88 480.5h1M91 480.5h2M94 480.5h1M97 480.5h2M101 480.5h1M104 480.5h1M55 481.5h1M57 481.5h1M59 481.5h1M63 481.5h2M67 481.5h1M69 481.5h1M71 481.5h1M76 481.5h2M79 481.5h2M83 481.5h1M85 481.5h3M90 481.5h2M95 481.5h1M97 481.5h1M55 482.5h1M65 482.5h3M69 482.5h1M71 482.5h1M74 482.5h6M81 482.5h4M88 482.5h1M91 482.5h1M94 482.5h3M100 482.5h1M55 483.5h1M61 483.5h1M68 483.5h6M75 483.5h1M77 483.5h1M79 483.5h1M81 483.5h12M94 483.5h1M97 483.5h1M99 483.5h1M55 484.5h1M59 484.5h1M62 484.5h2M65 484.5h1M67 484.5h1M69 484.5h1M72 484.5h1M74 484.5h2M80 484.5h1M82 484.5h3M86 484.5h1M88 484.5h1M92 484.5h3M96 484.5h1M55 485.5h1M66 485.5h1M70 485.5h7M79 485.5h6M86 485.5h3M90 485.5h1M94 485.5h2M97 485.5h3M55 486.5h1M60 486.5h1M62 486.5h2M68 486.5h1M70 486.5h2M75 486.5h1M77 486.5h2M80 486.5h6M87 486.5h5M93 486.5h1M102 486.5h1M55 487.5h2M58 487.5h2M62 487.5h1M67 487.5h2M70 487.5h1M72 487.5h1M77 487.5h3M82 487.5h7M90 487.5h2M93 487.5h2M97 487.5h1M101 487.5h1M104 487.5h1M55 488.5h1M60 488.5h1M64 488.5h1M67 488.5h4M72 488.5h2M75 488.5h2M80 488.5h2M83 488.5h6M90 488.5h9M100 488.5h2M55 489.5h1M62 489.5h1M66 489.5h1M72 489.5h4M77 489.5h2M80 489.5h1M82 489.5h10M93 489.5h4M99 489.5h1M55 490.5h1M61 490.5h1M63 490.5h1M65 490.5h6M72 490.5h23M96 490.5h2M99 490.5h1M55 491.5h1M62 491.5h4M68 491.5h3M72 491.5h28M101 491.5h1M104 491.5h1M55 492.5h1M61 492.5h1M64 492.5h1M66 492.5h4M71 492.5h23M95 492.5h4M100 492.5h2M58 493.5h1M62 493.5h1M64 493.5h2M67 493.5h2M71 493.5h2M74 493.5h27M102 493.5h1M55 494.5h1M57 494.5h2M60 494.5h1M64 494.5h10M75 494.5h28M55 495.5h2M60 495.5h5M66 495.5h32M99 495.5h3M105 495.5h1M55 496.5h2M58 496.5h5M65 496.5h34M100 496.5h1M102 496.5h1M104 496.5h1M55 497.5h3M59 497.5h8M68 497.5h1M70 497.5h33M112 497.5h1M55 498.5h6M62 498.5h5M69 498.5h33M103 498.5h1M55 499.5h45M105 499.5h1M55 500.5h47M103 500.5h1M111 500.5h1M55 501.5h13M69 501.5h13M83 501.5h17M101 501.5h1M108 501.5h1M55 502.5h45M101 502.5h1M55 503.5h45M111 503.5h2M55 504.5h46M104 504.5h1M55 505.5h44M101 505.5h1M105 505.5h1M107 505.5h1M55 506.5h46M104 506.5h1M55 507.5h46M102 507.5h1M116 507.5h1M55 508.5h4M60 508.5h40M55 509.5h20M76 509.5h23M100 509.5h1M55 510.5h34M90 510.5h11M55 511.5h17M74 511.5h29M104 511.5h1M109 511.5h1M55 512.5h50M106 512.5h1M108 512.5h1M111 512.5h1M113 512.5h1" stroke="#000" stroke-width="1" fill="none" shape-rendering="crispEdges"/>
</g>
<ellipse cx="116.45" cy="434.05" rx="24.6" ry="13.3" transform="rotate(-39.5 116.45 434.05)" fill="none" stroke="#333" stroke-width="1.1"/>
<rect x="54" y="362" width="151" height="151" fill="none" stroke="#000" stroke-width="1.8"/>
<path d="M52.0 501.6h2M65.4 513.0v2M52.0 495.0h2M72.0 513.0v2M52.0 490.3h2M76.7 513.0v2M52.0 486.6h2M80.4 513.0v2M52.0 483.6h2M83.4 513.0v2M52.0 481.1h2M85.9 513.0v2M52.0 478.9h2M88.1 513.0v2M52.0 477.0h2M90.0 513.0v2M52.0 463.9h2M103.1 513.0v2M52.0 457.2h2M109.8 513.0v2M52.0 452.5h2M114.5 513.0v2M52.0 448.9h2M118.1 513.0v2M52.0 445.9h2M121.1 513.0v2M52.0 443.3h2M123.7 513.0v2M52.0 441.2h2M125.8 513.0v2M52.0 439.2h2M127.8 513.0v2M52.0 426.1h2M140.9 513.0v2M52.0 419.5h2M147.5 513.0v2M52.0 414.8h2M152.2 513.0v2M52.0 411.1h2M155.9 513.0v2M52.0 408.1h2M158.9 513.0v2M52.0 405.6h2M161.4 513.0v2M52.0 403.4h2M163.6 513.0v2M52.0 401.5h2M165.5 513.0v2M52.0 388.4h2M178.6 513.0v2M52.0 381.7h2M185.3 513.0v2M52.0 377.0h2M190.0 513.0v2M52.0 373.4h2M193.6 513.0v2M52.0 370.4h2M196.6 513.0v2M52.0 367.8h2M199.2 513.0v2M52.0 365.7h2M201.3 513.0v2M52.0 363.7h2M203.3 513.0v2" stroke="#aaa" stroke-width="0.7" fill="none"/>
<text x="48" y="517.9" font-size="8" fill="#333" text-anchor="end">10<tspan dy="-4.6" font-size="6.8">0</tspan></text>
<line x1="50.50" y1="513.00" x2="54.00" y2="513.00" stroke="#777" stroke-width="0.8"/>
<text x="54.6" y="530.6" font-size="8" fill="#333" text-anchor="middle">10<tspan dy="-4.6" font-size="6.8">0</tspan></text>
<line x1="54.00" y1="513.00" x2="54.00" y2="516.50" stroke="#777" stroke-width="0.8"/>
<text x="48" y="480.1" font-size="8" fill="#333" text-anchor="end">10<tspan dy="-4.6" font-size="6.8">1</tspan></text>
<line x1="50.50" y1="475.25" x2="54.00" y2="475.25" stroke="#777" stroke-width="0.8"/>
<text x="92.3" y="530.6" font-size="8" fill="#333" text-anchor="middle">10<tspan dy="-4.6" font-size="6.8">1</tspan></text>
<line x1="91.75" y1="513.00" x2="91.75" y2="516.50" stroke="#777" stroke-width="0.8"/>
<text x="48" y="442.4" font-size="8" fill="#333" text-anchor="end">10<tspan dy="-4.6" font-size="6.8">2</tspan></text>
<line x1="50.50" y1="437.50" x2="54.00" y2="437.50" stroke="#777" stroke-width="0.8"/>
<text x="130.1" y="530.6" font-size="8" fill="#333" text-anchor="middle">10<tspan dy="-4.6" font-size="6.8">2</tspan></text>
<line x1="129.50" y1="513.00" x2="129.50" y2="516.50" stroke="#777" stroke-width="0.8"/>
<text x="48" y="404.6" font-size="8" fill="#333" text-anchor="end">10<tspan dy="-4.6" font-size="6.8">3</tspan></text>
<line x1="50.50" y1="399.75" x2="54.00" y2="399.75" stroke="#777" stroke-width="0.8"/>
<text x="167.8" y="530.6" font-size="8" fill="#333" text-anchor="middle">10<tspan dy="-4.6" font-size="6.8">3</tspan></text>
<line x1="167.25" y1="513.00" x2="167.25" y2="516.50" stroke="#777" stroke-width="0.8"/>
<g filter="url(#bl)">
<path d="M371 367.5h1M295 387.5h1M314 387.5h1M266 390.5h1M284 391.5h1M282 393.5h1M292 395.5h1M272 396.5h1M287 397.5h1M268 398.5h1M260 399.5h1M263 400.5h1M278 401.5h1M287 401.5h1M303 401.5h1M274 402.5h2M284 402.5h1M292 402.5h1M289 403.5h1M293 403.5h1M298 403.5h1M357 403.5h1M268 404.5h3M277 404.5h1M281 404.5h1M286 404.5h1M290 404.5h1M295 404.5h2M263 405.5h1M269 405.5h1M286 405.5h2M294 405.5h1M300 405.5h1M265 406.5h1M267 406.5h1M271 406.5h1M275 406.5h1M278 406.5h3M283 406.5h1M287 406.5h3M292 406.5h1M298 406.5h1M259 407.5h1M261 407.5h2M264 407.5h1M266 407.5h5M272 407.5h1M280 407.5h2M284 407.5h1M290 407.5h2M293 407.5h1M302 407.5h1M257 408.5h1M269 408.5h2M273 408.5h1M275 408.5h2M278 408.5h1M280 408.5h1M291 408.5h2M296 408.5h1M298 408.5h1M301 408.5h1M303 408.5h1M257 409.5h1M262 409.5h6M269 409.5h3M274 409.5h3M286 409.5h1M289 409.5h1M308 409.5h1M263 410.5h3M270 410.5h1M274 410.5h1M278 410.5h1M281 410.5h2M294 410.5h2M299 410.5h1M315 410.5h1M332 410.5h1M262 411.5h1M268 411.5h2M277 411.5h1M295 411.5h2M298 411.5h2M302 411.5h1M308 411.5h1M257 412.5h1M259 412.5h1M270 412.5h1M277 412.5h1M283 412.5h1M299 412.5h2M304 412.5h1M343 412.5h1M266 413.5h1M298 413.5h1M302 413.5h2M325 413.5h1M333 413.5h1M339 413.5h1M277 414.5h1M299 414.5h1M301 414.5h4M332 414.5h1M300 415.5h3M308 415.5h1M323 415.5h1M329 415.5h1M343 415.5h1M296 416.5h1M300 416.5h1M303 416.5h1M307 416.5h1M328 416.5h1M334 416.5h2M302 417.5h1M305 417.5h1M316 417.5h1M328 417.5h1M334 417.5h1M337 417.5h1M271 418.5h1M273 418.5h1M306 418.5h1M308 418.5h1M312 418.5h1M323 418.5h1M328 418.5h1M332 418.5h2M341 418.5h1M301 419.5h1M306 419.5h3M315 419.5h1M320 419.5h1M322 419.5h1M331 419.5h2M334 419.5h1M339 419.5h2M342 419.5h1M299 420.5h1M320 420.5h1M327 420.5h4M332 420.5h1M334 420.5h1M336 420.5h1M302 421.5h1M317 421.5h1M319 421.5h1M327 421.5h1M329 421.5h2M332 421.5h1M335 421.5h1M339 421.5h1M344 421.5h1M300 422.5h1M305 422.5h1M308 422.5h1M315 422.5h2M321 422.5h2M329 422.5h1M333 422.5h1M338 422.5h1M259 423.5h1M303 423.5h1M310 423.5h2M317 423.5h1M319 423.5h1M324 423.5h3M332 423.5h1M334 423.5h4M298 424.5h1M302 424.5h1M304 424.5h1M306 424.5h2M317 424.5h4M322 424.5h2M334 424.5h2M356 424.5h1M294 425.5h1M298 425.5h1M301 425.5h1M313 425.5h1M316 425.5h1M319 425.5h1M325 425.5h1M328 425.5h1M330 425.5h5M336 425.5h1M338 425.5h1M340 425.5h1M342 425.5h1M257 426.5h1M259 426.5h1M296 426.5h1M302 426.5h1M312 426.5h1M317 426.5h1M319 426.5h1M330 426.5h1M332 426.5h1M336 426.5h1M260 427.5h1M294 427.5h1M299 427.5h1M309 427.5h1M311 427.5h3M316 427.5h2M324 427.5h1M328 427.5h1M330 427.5h1M336 427.5h1M338 427.5h1M342 427.5h1M258 428.5h1M277 428.5h1M280 428.5h1M284 428.5h1M300 428.5h1M303 428.5h1M315 428.5h1M336 428.5h1M258 429.5h1M272 429.5h1M274 429.5h1M277 429.5h1M283 429.5h1M288 429.5h1M298 429.5h2M301 429.5h2M308 429.5h2M311 429.5h3M315 429.5h1M317 429.5h1M334 429.5h1M337 429.5h2M257 430.5h4M267 430.5h1M269 430.5h1M272 430.5h1M275 430.5h1M282 430.5h1M292 430.5h2M296 430.5h1M300 430.5h1M311 430.5h1M331 430.5h1M335 430.5h2M260 431.5h1M263 431.5h4M268 431.5h4M278 431.5h1M282 431.5h5M296 431.5h1M299 431.5h2M304 431.5h1M308 431.5h5M331 431.5h1M337 431.5h1M359 431.5h1M258 432.5h1M260 432.5h4M265 432.5h1M268 432.5h1M277 432.5h1M283 432.5h1M292 432.5h1M295 432.5h1M302 432.5h2M308 432.5h3M331 432.5h2M334 432.5h1M259 433.5h2M266 433.5h2M271 433.5h3M277 433.5h1M279 433.5h1M287 433.5h2M296 433.5h1M300 433.5h1M302 433.5h1M305 433.5h1M309 433.5h2M312 433.5h1M333 433.5h1M335 433.5h1M337 433.5h2M257 434.5h1M264 434.5h2M279 434.5h4M288 434.5h3M301 434.5h2M304 434.5h1M306 434.5h1M328 434.5h1M331 434.5h1M333 434.5h1M260 435.5h1M267 435.5h2M276 435.5h1M279 435.5h2M282 435.5h1M286 435.5h1M289 435.5h1M292 435.5h2M296 435.5h3M300 435.5h1M303 435.5h3M309 435.5h1M331 435.5h1M333 435.5h2M257 436.5h1M264 436.5h1M266 436.5h2M269 436.5h1M281 436.5h2M284 436.5h2M290 436.5h1M298 436.5h1M300 436.5h1M302 436.5h2M327 436.5h2M331 436.5h1M262 437.5h1M264 437.5h1M276 437.5h1M278 437.5h1M280 437.5h2M283 437.5h2M287 437.5h1M290 437.5h1M292 437.5h1M294 437.5h1M296 437.5h1M299 437.5h1M301 437.5h1M306 437.5h1M309 437.5h1M324 437.5h1M326 437.5h1M329 437.5h1M262 438.5h1M264 438.5h1M268 438.5h1M271 438.5h1M273 438.5h1M278 438.5h1M282 438.5h1M285 438.5h2M289 438.5h4M307 438.5h1M310 438.5h1M330 438.5h2M257 439.5h1M259 439.5h1M265 439.5h1M268 439.5h1M273 439.5h1M275 439.5h2M279 439.5h1M281 439.5h1M283 439.5h2M287 439.5h1M292 439.5h1M295 439.5h1M297 439.5h1M303 439.5h1M305 439.5h4M310 439.5h1M324 439.5h2M327 439.5h2M330 439.5h1M337 439.5h1M257 440.5h2M268 440.5h4M275 440.5h3M280 440.5h3M289 440.5h2M292 440.5h1M294 440.5h3M301 440.5h1M303 440.5h1M305 440.5h1M324 440.5h1M327 440.5h1M330 440.5h1M261 441.5h1M263 441.5h1M266 441.5h1M268 441.5h2M271 441.5h1M275 441.5h3M279 441.5h1M284 441.5h1M286 441.5h1M288 441.5h1M290 441.5h1M293 441.5h4M300 441.5h2M319 441.5h1M331 441.5h1M258 442.5h1M260 442.5h3M269 442.5h1M273 442.5h1M277 442.5h2M280 442.5h1M282 442.5h3M286 442.5h1M288 442.5h3M292 442.5h4M304 442.5h3M314 442.5h1M318 442.5h1M322 442.5h1M325 442.5h1M263 443.5h1M266 443.5h3M270 443.5h1M276 443.5h1M278 443.5h3M282 443.5h2M285 443.5h1M289 443.5h2M294 443.5h3M299 443.5h5M305 443.5h1M315 443.5h1M320 443.5h1M323 443.5h2M327 443.5h1M257 444.5h1M264 444.5h1M267 444.5h2M270 444.5h1M274 444.5h4M280 444.5h1M283 444.5h1M285 444.5h1M289 444.5h1M291 444.5h1M293 444.5h2M300 444.5h2M305 444.5h3M315 444.5h1M318 444.5h2M322 444.5h2M260 445.5h2M273 445.5h1M278 445.5h1M284 445.5h1M286 445.5h3M290 445.5h3M304 445.5h3M310 445.5h2M316 445.5h2M319 445.5h1M321 445.5h1M257 446.5h1M265 446.5h1M267 446.5h1M272 446.5h3M276 446.5h1M284 446.5h2M288 446.5h1M294 446.5h1M298 446.5h1M300 446.5h1M304 446.5h1M307 446.5h1M311 446.5h1M313 446.5h1M320 446.5h1M327 446.5h1M263 447.5h1M272 447.5h1M274 447.5h1M281 447.5h1M283 447.5h1M285 447.5h1M290 447.5h1M296 447.5h1M302 447.5h4M310 447.5h2M313 447.5h3M317 447.5h1M263 448.5h1M269 448.5h2M275 448.5h2M281 448.5h2M284 448.5h1M287 448.5h1M292 448.5h4M297 448.5h1M308 448.5h2M311 448.5h1M318 448.5h2M324 448.5h1M257 449.5h1M261 449.5h2M267 449.5h1M270 449.5h3M276 449.5h1M280 449.5h1M286 449.5h1M288 449.5h2M295 449.5h1M299 449.5h1M306 449.5h2M311 449.5h1M313 449.5h1M317 449.5h1M266 450.5h1M269 450.5h1M274 450.5h1M276 450.5h4M283 450.5h2M286 450.5h1M290 450.5h2M296 450.5h1M299 450.5h1M307 450.5h3M311 450.5h3M269 451.5h2M275 451.5h2M282 451.5h1M287 451.5h4M294 451.5h2M302 451.5h1M304 451.5h1M309 451.5h1M311 451.5h1M322 451.5h1M376 451.5h1M267 452.5h1M272 452.5h1M277 452.5h2M281 452.5h3M285 452.5h1M294 452.5h2M297 452.5h1M308 452.5h1M315 452.5h1M260 453.5h2M263 453.5h1M269 453.5h2M272 453.5h1M276 453.5h2M285 453.5h2M290 453.5h1M297 453.5h1M304 453.5h2M308 453.5h1M319 453.5h1M257 454.5h1M264 454.5h1M267 454.5h1M270 454.5h1M272 454.5h1M274 454.5h1M277 454.5h1M281 454.5h2M286 454.5h1M294 454.5h1M299 454.5h1M309 454.5h1M257 455.5h1M267 455.5h1M269 455.5h1M272 455.5h1M274 455.5h1M278 455.5h2M282 455.5h2M285 455.5h1M289 455.5h1M293 455.5h1M296 455.5h1M258 456.5h1M263 456.5h2M266 456.5h1M269 456.5h4M276 456.5h1M279 456.5h1M292 456.5h1M297 456.5h2M257 457.5h1M263 457.5h1M265 457.5h1M273 457.5h1M280 457.5h1M284 457.5h1M287 457.5h1M290 457.5h2M294 457.5h1M297 457.5h2M301 457.5h1M303 457.5h1M260 458.5h2M263 458.5h1M267 458.5h2M272 458.5h1M276 458.5h2M282 458.5h1M284 458.5h1M288 458.5h2M294 458.5h1M297 458.5h1M258 459.5h1M267 459.5h2M270 459.5h1M274 459.5h1M277 459.5h1M281 459.5h1M287 459.5h3M291 459.5h1M294 459.5h1M297 459.5h1M299 459.5h1M301 459.5h1M303 459.5h1M257 460.5h1M259 460.5h1M268 460.5h2M271 460.5h2M277 460.5h1M281 460.5h1M284 460.5h1M287 460.5h1M290 460.5h2M296 460.5h1M259 461.5h2M267 461.5h1M269 461.5h1M272 461.5h1M276 461.5h1M278 461.5h1M284 461.5h1M286 461.5h2M289 461.5h1M291 461.5h1M298 461.5h1M258 462.5h1M261 462.5h1M263 462.5h1M274 462.5h1M277 462.5h3M282 462.5h3M286 462.5h2M297 462.5h2M302 462.5h1M257 463.5h1M260 463.5h4M271 463.5h1M274 463.5h2M278 463.5h2M281 463.5h1M285 463.5h1M288 463.5h1M291 463.5h1M294 463.5h1M302 463.5h2M262 464.5h3M266 464.5h1M274 464.5h1M276 464.5h2M287 464.5h1M289 464.5h1M292 464.5h1M294 464.5h1M302 464.5h1M304 464.5h1M306 464.5h1M309 464.5h1M267 465.5h1M271 465.5h2M277 465.5h2M280 465.5h1M282 465.5h1M285 465.5h1M304 465.5h1M307 465.5h1M258 466.5h1M260 466.5h1M265 466.5h1M276 466.5h1M279 466.5h1M281 466.5h1M285 466.5h6M292 466.5h1M295 466.5h3M260 467.5h1M263 467.5h1M273 467.5h1M275 467.5h2M280 467.5h1M282 467.5h1M285 467.5h1M287 467.5h1M294 467.5h2M300 467.5h1M302 467.5h1M305 467.5h1M261 468.5h3M267 468.5h1M274 468.5h1M278 468.5h1M281 468.5h1M283 468.5h3M288 468.5h3M296 468.5h1M299 468.5h2M303 468.5h1M305 468.5h1M257 469.5h2M260 469.5h1M264 469.5h1M270 469.5h1M272 469.5h1M277 469.5h1M281 469.5h1M284 469.5h1M291 469.5h2M299 469.5h1M301 469.5h1M303 469.5h1M306 469.5h2M313 469.5h1M260 470.5h1M269 470.5h3M275 470.5h1M278 470.5h2M282 470.5h2M286 470.5h1M289 470.5h1M292 470.5h4M299 470.5h2M303 470.5h2M310 470.5h1M265 471.5h3M270 471.5h1M273 471.5h1M284 471.5h1M287 471.5h1M293 471.5h2M296 471.5h1M298 471.5h1M302 471.5h2M311 471.5h1M259 472.5h1M263 472.5h4M269 472.5h3M273 472.5h1M275 472.5h1M277 472.5h1M292 472.5h1M295 472.5h1M300 472.5h2M306 472.5h2M312 472.5h1M257 473.5h2M260 473.5h2M263 473.5h2M275 473.5h2M278 473.5h2M283 473.5h1M290 473.5h2M296 473.5h1M298 473.5h1M300 473.5h4M259 474.5h1M261 474.5h1M263 474.5h1M266 474.5h1M270 474.5h1M272 474.5h1M282 474.5h1M295 474.5h3M303 474.5h2M306 474.5h1M309 474.5h2M257 475.5h1M265 475.5h1M269 475.5h1M274 475.5h1M277 475.5h3M289 475.5h1M293 475.5h1M298 475.5h1M300 475.5h1M303 475.5h3M309 475.5h3M322 475.5h1M257 476.5h3M261 476.5h1M266 476.5h1M268 476.5h2M290 476.5h1M293 476.5h2M296 476.5h1M300 476.5h1M303 476.5h1M309 476.5h2M313 476.5h1M258 477.5h1M262 477.5h1M264 477.5h2M267 477.5h1M269 477.5h2M273 477.5h1M275 477.5h1M285 477.5h1M287 477.5h1M290 477.5h1M295 477.5h1M302 477.5h2M306 477.5h1M309 477.5h1M311 477.5h1M315 477.5h1M318 477.5h1M259 478.5h3M267 478.5h3M272 478.5h1M290 478.5h1M292 478.5h1M296 478.5h1M300 478.5h2M303 478.5h1M308 478.5h1M257 479.5h1M263 479.5h1M268 479.5h1M279 479.5h1M282 479.5h1M300 479.5h3M305 479.5h1M309 479.5h1M323 479.5h1M262 480.5h1M275 480.5h1M298 480.5h1M300 480.5h1M303 480.5h1M308 480.5h1M314 480.5h1M258 481.5h1M260 481.5h1M262 481.5h1M265 481.5h2M270 481.5h1M272 481.5h1M277 481.5h2M291 481.5h1M295 481.5h1M297 481.5h1M300 481.5h2M304 481.5h2M310 481.5h1M389 481.5h1M257 482.5h3M261 482.5h1M265 482.5h2M269 482.5h1M271 482.5h1M284 482.5h1M294 482.5h1M301 482.5h1M303 482.5h1M305 482.5h1M308 482.5h3M317 482.5h1M257 483.5h2M261 483.5h1M300 483.5h1M305 483.5h1M313 483.5h1M319 483.5h1M259 484.5h1M266 484.5h1M277 484.5h1M283 484.5h1M290 484.5h1M305 484.5h1M313 484.5h1M317 484.5h1M261 485.5h1M275 485.5h1M300 485.5h2M304 485.5h3M308 485.5h1M322 485.5h1M326 485.5h1M261 486.5h1M265 486.5h2M277 486.5h1M282 486.5h1M293 486.5h1M295 486.5h2M299 486.5h1M303 486.5h2M309 486.5h1M314 486.5h1M257 487.5h1M260 487.5h1M263 487.5h1M265 487.5h4M301 487.5h1M306 487.5h1M315 487.5h1M317 487.5h1M324 487.5h1M336 487.5h1M257 488.5h1M260 488.5h1M275 488.5h1M302 488.5h1M306 488.5h5M312 488.5h1M314 488.5h1M259 489.5h1M261 489.5h1M263 489.5h1M265 489.5h1M267 489.5h1M270 489.5h1M299 489.5h1M307 489.5h1M310 489.5h1M314 489.5h1M330 489.5h1M267 490.5h1M298 490.5h1M303 490.5h2M306 490.5h1M310 490.5h2M322 490.5h1M324 490.5h1M259 491.5h1M261 491.5h1M263 491.5h3M308 491.5h1M311 491.5h4M322 491.5h1M331 491.5h1M257 492.5h1M260 492.5h1M299 492.5h1M301 492.5h1M307 492.5h2M310 492.5h1M319 492.5h1M258 493.5h3M264 493.5h1M305 493.5h1M308 493.5h1M314 493.5h1M343 493.5h1M257 494.5h1M305 494.5h2M308 494.5h3M314 494.5h1M319 494.5h1M307 495.5h2M310 495.5h1M317 495.5h1M325 495.5h1M302 496.5h1M304 496.5h1M306 496.5h1M313 496.5h3M317 496.5h1M322 496.5h1M325 496.5h1M303 497.5h1M307 497.5h1M309 497.5h3M320 497.5h1M324 497.5h1M329 497.5h1M301 498.5h1M305 498.5h2M309 498.5h1M315 498.5h2M318 498.5h1M322 498.5h2M306 499.5h2M311 499.5h1M313 499.5h1M315 499.5h1M319 499.5h1M325 499.5h1M305 500.5h1M307 500.5h1M312 500.5h1M320 500.5h1M322 500.5h1M305 501.5h1M307 501.5h1M311 501.5h3M315 501.5h2M320 501.5h1M325 501.5h1M305 502.5h3M309 502.5h2M321 502.5h1M326 502.5h1M341 502.5h1M295 503.5h1M305 503.5h2M308 503.5h3M313 503.5h1M317 503.5h1M322 503.5h1M273 504.5h1M305 504.5h2M310 504.5h1M319 504.5h1M323 504.5h2M330 504.5h1M305 505.5h1M307 505.5h1M309 505.5h5M316 505.5h1M318 505.5h2M323 505.5h1M307 506.5h1M310 506.5h2M315 506.5h3M319 506.5h2M322 506.5h1M306 507.5h1M308 507.5h2M311 507.5h2M316 507.5h2M319 507.5h1M327 507.5h1M265 508.5h1M310 508.5h1M316 508.5h1M320 508.5h1M331 508.5h1M274 509.5h1M305 509.5h3M316 509.5h2M320 509.5h2M324 509.5h1M326 509.5h1M332 509.5h1M312 510.5h1M314 510.5h1M318 510.5h1M320 510.5h1M330 510.5h1M306 511.5h1M308 511.5h1M310 511.5h2M315 511.5h4M306 512.5h1M308 512.5h1M315 512.5h1M318 512.5h1M322 512.5h1M330 512.5h1M335 512.5h1M338 512.5h1" stroke="#606060" stroke-width="1" fill="none" shape-rendering="crispEdges"/>
<path d="M289 404.5h1M285 405.5h1M256 407.5h1M275 407.5h1M279 407.5h1M283 407.5h1M285 407.5h1M287 407.5h1M289 407.5h1M261 408.5h1M264 408.5h1M268 408.5h1M271 408.5h1M279 408.5h1M285 408.5h2M288 408.5h1M293 408.5h1M261 409.5h1M283 409.5h3M290 409.5h1M292 409.5h2M295 409.5h2M257 410.5h1M267 410.5h2M272 410.5h1M276 410.5h2M280 410.5h1M283 410.5h2M289 410.5h2M297 410.5h1M257 411.5h2M261 411.5h1M266 411.5h1M275 411.5h1M288 411.5h1M290 411.5h1M294 411.5h1M297 411.5h1M269 412.5h1M278 412.5h1M289 412.5h1M301 412.5h1M258 413.5h1M301 413.5h1M258 414.5h1M270 414.5h1M303 415.5h1M298 416.5h1M301 416.5h1M265 417.5h1M301 417.5h1M303 417.5h1M263 418.5h1M301 418.5h1M303 418.5h1M339 418.5h1M319 419.5h1M333 419.5h1M337 419.5h1M301 420.5h1M324 420.5h1M331 420.5h1M333 420.5h1M298 421.5h2M326 421.5h1M328 421.5h1M334 421.5h1M296 422.5h1M319 422.5h1M328 422.5h1M331 422.5h1M257 423.5h1M260 423.5h1M300 423.5h1M316 423.5h1M327 423.5h4M257 424.5h2M296 424.5h2M301 424.5h1M315 424.5h1M326 424.5h2M329 424.5h1M331 424.5h1M337 424.5h1M257 425.5h1M266 425.5h1M279 425.5h1M296 425.5h1M317 425.5h1M324 425.5h1M327 425.5h1M258 426.5h1M266 426.5h2M271 426.5h1M318 426.5h1M321 426.5h1M328 426.5h2M334 426.5h1M337 426.5h1M257 427.5h1M275 427.5h1M295 427.5h1M297 427.5h2M300 427.5h1M318 427.5h1M321 427.5h1M331 427.5h1M334 427.5h1M257 428.5h1M264 428.5h5M273 428.5h2M286 428.5h1M296 428.5h2M302 428.5h1M314 428.5h1M317 428.5h1M332 428.5h1M337 428.5h1M257 429.5h1M260 429.5h1M263 429.5h3M268 429.5h2M275 429.5h2M279 429.5h1M281 429.5h1M292 429.5h1M294 429.5h1M297 429.5h1M305 429.5h1M314 429.5h1M320 429.5h1M332 429.5h1M335 429.5h1M262 430.5h1M266 430.5h1M268 430.5h1M270 430.5h2M274 430.5h1M279 430.5h2M284 430.5h1M288 430.5h1M291 430.5h1M299 430.5h1M312 430.5h1M314 430.5h2M333 430.5h1M279 431.5h1M281 431.5h1M287 431.5h1M291 431.5h2M297 431.5h1M330 431.5h1M264 432.5h1M270 432.5h1M272 432.5h2M276 432.5h1M278 432.5h2M287 432.5h5M293 432.5h1M298 432.5h1M311 432.5h2M265 433.5h1M269 433.5h2M275 433.5h2M278 433.5h1M280 433.5h3M284 433.5h1M286 433.5h1M289 433.5h2M292 433.5h1M298 433.5h2M307 433.5h2M329 433.5h1M269 434.5h2M278 434.5h1M283 434.5h1M294 434.5h1M296 434.5h1M305 434.5h1M307 434.5h1M309 434.5h3M329 434.5h1M270 435.5h1M272 435.5h3M294 435.5h2M307 435.5h1M310 435.5h1M312 435.5h1M324 435.5h1M326 435.5h1M330 435.5h1M263 436.5h1M275 436.5h1M287 436.5h1M295 436.5h2M305 436.5h2M308 436.5h3M314 436.5h1M329 436.5h2M266 437.5h1M268 437.5h1M285 437.5h1M289 437.5h1M291 437.5h1M293 437.5h1M295 437.5h1M303 437.5h1M308 437.5h1M311 437.5h1M328 437.5h1M331 437.5h1M274 438.5h1M277 438.5h1M283 438.5h1M287 438.5h1M294 438.5h1M297 438.5h1M301 438.5h1M303 438.5h1M308 438.5h1M326 438.5h1M264 439.5h1M271 439.5h2M274 439.5h1M277 439.5h1M282 439.5h1M290 439.5h1M294 439.5h1M302 439.5h1M314 439.5h1M264 440.5h1M267 440.5h1M274 440.5h1M287 440.5h1M304 440.5h1M306 440.5h3M317 440.5h1M325 440.5h1M267 441.5h1M280 441.5h1M285 441.5h1M287 441.5h1M310 441.5h1M314 441.5h1M318 441.5h1M320 441.5h1M267 442.5h2M270 442.5h1M275 442.5h1M279 442.5h1M285 442.5h1M303 442.5h1M307 442.5h1M312 442.5h1M319 442.5h3M323 442.5h1M304 443.5h1M306 443.5h2M313 443.5h1M316 443.5h1M318 443.5h1M265 444.5h1M278 444.5h2M281 444.5h1M286 444.5h1M292 444.5h1M303 444.5h1M310 444.5h1M320 444.5h2M280 445.5h1M293 445.5h1M301 445.5h1M303 445.5h1M307 445.5h2M312 445.5h1M315 445.5h1M289 446.5h1M301 446.5h1M310 446.5h1M275 447.5h1M286 447.5h1M307 447.5h1M261 448.5h1M279 448.5h1M291 448.5h1M302 448.5h3M306 448.5h2M312 448.5h1M275 449.5h1M291 449.5h1M271 450.5h1M275 450.5h1M256 451.5h1M267 451.5h1M277 451.5h1M285 451.5h1M300 452.5h1M309 453.5h1M301 454.5h1M306 454.5h1M271 455.5h1M277 455.5h1M281 455.5h1M286 455.5h1M292 455.5h1M311 455.5h1M257 456.5h1M288 456.5h1M293 456.5h1M274 457.5h1M299 457.5h1M280 458.5h1M286 458.5h1M260 459.5h1M292 459.5h1M267 460.5h1M280 460.5h1M268 461.5h1M288 461.5h1M271 462.5h1M292 462.5h1M295 462.5h1M299 462.5h1M256 463.5h1M267 463.5h1M283 463.5h1M287 463.5h1M259 464.5h1M279 464.5h1M282 464.5h1M284 464.5h1M290 464.5h1M266 465.5h1M274 465.5h1M284 465.5h1M287 465.5h1M291 465.5h1M298 465.5h1M302 465.5h1M274 466.5h2M283 466.5h2M269 467.5h1M292 467.5h2M271 468.5h1M293 468.5h1M275 469.5h1M278 469.5h3M282 469.5h1M285 469.5h1M288 469.5h1M294 469.5h1M296 469.5h1M304 469.5h1M259 470.5h1M265 470.5h1M276 470.5h1M281 470.5h1M284 470.5h2M290 470.5h2M261 471.5h1M268 471.5h1M279 471.5h5M288 471.5h3M299 471.5h2M309 471.5h1M274 472.5h1M278 472.5h1M281 472.5h1M288 472.5h3M296 472.5h1M265 473.5h1M268 473.5h4M274 473.5h1M277 473.5h1M281 473.5h2M287 473.5h1M289 473.5h1M292 473.5h2M295 473.5h1M258 474.5h1M269 474.5h1M273 474.5h2M279 474.5h1M285 474.5h1M289 474.5h3M307 474.5h1M258 475.5h2M263 475.5h1M272 475.5h2M282 475.5h1M287 475.5h1M292 475.5h1M295 475.5h1M302 475.5h1M306 475.5h2M262 476.5h1M267 476.5h1M272 476.5h2M275 476.5h2M282 476.5h1M285 476.5h1M287 476.5h1M289 476.5h1M292 476.5h1M298 476.5h2M302 476.5h1M304 476.5h2M259 477.5h1M263 477.5h1M266 477.5h1M271 477.5h1M274 477.5h1M276 477.5h2M289 477.5h1M294 477.5h1M296 477.5h1M298 477.5h2M301 477.5h1M263 478.5h1M265 478.5h1M274 478.5h1M282 478.5h1M285 478.5h1M287 478.5h1M289 478.5h1M294 478.5h2M298 478.5h2M306 478.5h1M260 479.5h1M262 479.5h1M264 479.5h1M266 479.5h1M271 479.5h2M275 479.5h2M278 479.5h1M283 479.5h2M288 479.5h1M291 479.5h2M299 479.5h1M257 480.5h3M263 480.5h1M268 480.5h1M272 480.5h1M274 480.5h1M282 480.5h2M290 480.5h1M296 480.5h1M299 480.5h1M301 480.5h2M256 481.5h1M263 481.5h2M268 481.5h1M271 481.5h1M275 481.5h1M279 481.5h1M298 481.5h2M302 481.5h1M306 481.5h1M308 481.5h2M260 482.5h1M263 482.5h2M268 482.5h1M273 482.5h2M276 482.5h1M278 482.5h2M281 482.5h1M302 482.5h1M265 483.5h1M270 483.5h3M276 483.5h1M287 483.5h1M291 483.5h2M294 483.5h1M297 483.5h1M304 483.5h1M306 483.5h3M258 484.5h1M262 484.5h1M265 484.5h1M268 484.5h1M271 484.5h1M291 484.5h1M299 484.5h1M302 484.5h1M306 484.5h1M262 485.5h2M268 485.5h1M272 485.5h1M278 485.5h1M291 485.5h1M295 485.5h1M299 485.5h1M302 485.5h1M307 485.5h1M309 485.5h1M257 486.5h1M263 486.5h2M267 486.5h1M269 486.5h1M300 486.5h1M305 486.5h1M258 487.5h2M264 487.5h1M291 487.5h1M295 487.5h1M299 487.5h1M308 487.5h1M265 488.5h4M271 488.5h1M274 488.5h1M292 488.5h1M300 488.5h1M260 489.5h1M264 489.5h1M266 489.5h1M269 489.5h1M272 489.5h1M274 489.5h1M303 489.5h1M305 489.5h1M262 490.5h1M296 490.5h1M308 490.5h1M258 491.5h1M267 491.5h3M303 491.5h1M306 491.5h1M259 492.5h1M264 492.5h1M266 492.5h3M277 492.5h1M302 492.5h1M257 493.5h1M261 493.5h1M269 493.5h1M274 493.5h1M309 493.5h1M258 494.5h1M262 494.5h1M265 494.5h1M300 494.5h1M264 495.5h1M303 495.5h1M309 495.5h1M256 496.5h1M305 496.5h1M302 497.5h1M304 497.5h1M303 498.5h1M308 498.5h1M319 498.5h1M258 499.5h1M303 499.5h1M310 499.5h1M303 500.5h1M321 500.5h1M304 501.5h1M303 502.5h1M316 502.5h2M328 502.5h1M303 503.5h1M312 503.5h1M315 503.5h1M318 503.5h1M257 504.5h1M268 504.5h1M311 504.5h1M314 504.5h1M318 504.5h1M265 505.5h1M296 505.5h1M304 505.5h1M301 506.5h1M303 506.5h1M305 506.5h2M308 506.5h1M301 507.5h1M307 507.5h1M313 507.5h1M318 507.5h1M307 508.5h2M311 508.5h1M279 509.5h1M299 509.5h1M303 509.5h1M309 509.5h1M311 509.5h2M318 509.5h1M280 510.5h1M285 510.5h1M305 510.5h3M310 510.5h1M316 510.5h1M257 511.5h1M303 511.5h3M309 511.5h1M310 512.5h1M313 512.5h1M316 512.5h1" stroke="#2a2a2a" stroke-width="1" fill="none" shape-rendering="crispEdges"/>
<path d="M260 408.5h1M284 408.5h1M289 408.5h1M294 408.5h1M256 409.5h1M268 409.5h1M279 409.5h4M287 409.5h2M291 409.5h1M300 409.5h1M256 410.5h1M258 410.5h1M260 410.5h1M262 410.5h1M266 410.5h1M269 410.5h1M271 410.5h1M273 410.5h1M275 410.5h1M279 410.5h1M285 410.5h4M291 410.5h2M298 410.5h1M256 411.5h1M259 411.5h2M263 411.5h2M267 411.5h1M270 411.5h5M276 411.5h1M278 411.5h10M289 411.5h1M292 411.5h2M256 412.5h1M258 412.5h1M260 412.5h9M271 412.5h6M279 412.5h4M284 412.5h5M290 412.5h9M256 413.5h2M259 413.5h7M267 413.5h31M299 413.5h1M256 414.5h2M259 414.5h11M271 414.5h6M278 414.5h21M300 414.5h1M256 415.5h44M256 416.5h7M264 416.5h3M268 416.5h28M297 416.5h1M256 417.5h9M266 417.5h34M304 417.5h1M256 418.5h7M264 418.5h7M272 418.5h1M274 418.5h27M302 418.5h1M256 419.5h45M302 419.5h1M304 419.5h1M256 420.5h43M300 420.5h1M302 420.5h2M256 421.5h42M300 421.5h2M303 421.5h1M256 422.5h40M297 422.5h3M323 422.5h1M335 422.5h2M256 423.5h1M258 423.5h1M261 423.5h39M301 423.5h1M322 423.5h1M256 424.5h1M259 424.5h37M303 424.5h1M321 424.5h1M324 424.5h2M330 424.5h1M332 424.5h1M256 425.5h1M258 425.5h8M267 425.5h12M280 425.5h14M295 425.5h1M297 425.5h1M299 425.5h2M303 425.5h1M322 425.5h2M256 426.5h1M260 426.5h6M268 426.5h3M272 426.5h24M297 426.5h4M320 426.5h1M322 426.5h6M331 426.5h1M256 427.5h1M258 427.5h2M261 427.5h2M264 427.5h7M272 427.5h2M276 427.5h12M289 427.5h5M296 427.5h1M319 427.5h2M322 427.5h2M325 427.5h3M329 427.5h1M332 427.5h1M335 427.5h1M256 428.5h1M260 428.5h1M262 428.5h2M269 428.5h4M275 428.5h2M278 428.5h2M281 428.5h3M285 428.5h1M287 428.5h9M298 428.5h1M316 428.5h1M318 428.5h12M333 428.5h1M256 429.5h1M266 429.5h2M270 429.5h2M273 429.5h1M278 429.5h1M282 429.5h1M284 429.5h4M289 429.5h3M293 429.5h1M295 429.5h2M316 429.5h1M318 429.5h2M321 429.5h10M333 429.5h1M256 430.5h1M273 430.5h1M276 430.5h1M278 430.5h1M281 430.5h1M285 430.5h3M294 430.5h1M313 430.5h1M316 430.5h15M256 431.5h1M267 431.5h1M273 431.5h5M280 431.5h1M289 431.5h2M293 431.5h1M313 431.5h1M315 431.5h15M334 431.5h1M256 432.5h2M269 432.5h1M282 432.5h1M284 432.5h3M313 432.5h18M333 432.5h1M256 433.5h1M283 433.5h1M311 433.5h1M313 433.5h16M330 433.5h1M256 434.5h1M272 434.5h1M275 434.5h2M284 434.5h3M292 434.5h1M298 434.5h1M308 434.5h1M312 434.5h16M256 435.5h1M266 435.5h1M271 435.5h1M277 435.5h2M291 435.5h1M311 435.5h1M313 435.5h11M325 435.5h1M327 435.5h3M256 436.5h1M270 436.5h2M273 436.5h2M278 436.5h1M283 436.5h1M288 436.5h1M291 436.5h1M297 436.5h1M311 436.5h3M315 436.5h12M256 437.5h1M272 437.5h1M279 437.5h1M286 437.5h1M297 437.5h1M307 437.5h1M310 437.5h1M312 437.5h12M325 437.5h1M330 437.5h1M256 438.5h1M272 438.5h1M276 438.5h1M281 438.5h1M295 438.5h1M309 438.5h1M311 438.5h14M256 439.5h1M269 439.5h2M285 439.5h1M288 439.5h2M293 439.5h1M309 439.5h1M311 439.5h3M315 439.5h9M256 440.5h1M279 440.5h1M286 440.5h1M309 440.5h8M318 440.5h6M256 441.5h1M273 441.5h2M303 441.5h1M305 441.5h5M311 441.5h3M315 441.5h3M322 441.5h1M256 442.5h1M271 442.5h1M308 442.5h4M313 442.5h1M315 442.5h3M256 443.5h1M297 443.5h1M308 443.5h3M312 443.5h1M314 443.5h1M317 443.5h1M319 443.5h1M256 444.5h1M284 444.5h1M296 444.5h1M308 444.5h2M311 444.5h4M256 445.5h1M266 445.5h1M274 445.5h1M309 445.5h1M314 445.5h1M256 446.5h1M302 446.5h2M308 446.5h1M317 446.5h1M256 447.5h1M306 447.5h1M316 447.5h1M256 448.5h1M310 448.5h1M314 448.5h1M256 449.5h1M256 450.5h1M298 450.5h1M303 450.5h1M306 450.5h1M256 452.5h1M256 453.5h1M256 454.5h1M256 455.5h1M256 456.5h1M256 457.5h1M267 457.5h1M269 457.5h1M293 457.5h1M256 458.5h1M256 459.5h1M275 459.5h1M256 460.5h1M256 461.5h1M256 462.5h1M276 462.5h1M281 462.5h1M280 463.5h1M256 464.5h1M299 464.5h1M256 465.5h1M256 466.5h1M256 467.5h1M274 467.5h1M288 467.5h2M296 467.5h1M256 468.5h1M273 468.5h1M276 468.5h1M256 469.5h1M256 470.5h1M267 470.5h1M297 470.5h1M256 471.5h1M278 471.5h1M286 471.5h1M291 471.5h2M256 472.5h1M260 472.5h1M267 472.5h1M276 472.5h1M279 472.5h1M283 472.5h5M291 472.5h1M293 472.5h1M256 473.5h1M273 473.5h1M284 473.5h2M288 473.5h1M256 474.5h1M268 474.5h1M276 474.5h3M280 474.5h2M283 474.5h2M286 474.5h1M288 474.5h1M292 474.5h3M299 474.5h1M256 475.5h1M266 475.5h1M268 475.5h1M270 475.5h1M275 475.5h2M280 475.5h2M283 475.5h4M288 475.5h1M291 475.5h1M294 475.5h1M296 475.5h1M256 476.5h1M263 476.5h2M277 476.5h4M283 476.5h2M286 476.5h1M288 476.5h1M297 476.5h1M256 477.5h1M260 477.5h1M268 477.5h1M272 477.5h1M278 477.5h7M286 477.5h1M288 477.5h1M291 477.5h3M297 477.5h1M300 477.5h1M256 478.5h1M262 478.5h1M264 478.5h1M266 478.5h1M270 478.5h2M273 478.5h1M275 478.5h7M283 478.5h2M286 478.5h1M288 478.5h1M291 478.5h1M293 478.5h1M297 478.5h1M256 479.5h1M261 479.5h1M265 479.5h1M267 479.5h1M269 479.5h2M273 479.5h2M277 479.5h1M280 479.5h2M285 479.5h3M289 479.5h2M293 479.5h2M296 479.5h3M307 479.5h1M256 480.5h1M264 480.5h3M269 480.5h2M273 480.5h1M276 480.5h6M284 480.5h6M291 480.5h5M297 480.5h1M261 481.5h1M267 481.5h1M269 481.5h1M273 481.5h2M276 481.5h1M280 481.5h11M292 481.5h3M296 481.5h1M256 482.5h1M262 482.5h1M270 482.5h1M272 482.5h1M275 482.5h1M277 482.5h1M280 482.5h1M282 482.5h2M285 482.5h5M291 482.5h3M295 482.5h4M300 482.5h1M256 483.5h1M263 483.5h2M267 483.5h1M273 483.5h3M277 483.5h10M288 483.5h3M293 483.5h1M295 483.5h1M298 483.5h2M301 483.5h3M256 484.5h1M263 484.5h1M267 484.5h1M269 484.5h2M272 484.5h5M279 484.5h4M284 484.5h1M286 484.5h4M292 484.5h7M300 484.5h2M304 484.5h1M256 485.5h1M260 485.5h1M265 485.5h3M270 485.5h2M273 485.5h2M276 485.5h2M279 485.5h12M292 485.5h3M296 485.5h3M303 485.5h1M256 486.5h1M268 486.5h1M270 486.5h7M278 486.5h4M283 486.5h10M294 486.5h1M297 486.5h2M301 486.5h2M256 487.5h1M269 487.5h22M292 487.5h3M296 487.5h3M300 487.5h1M302 487.5h2M256 488.5h1M258 488.5h2M262 488.5h1M264 488.5h1M269 488.5h2M272 488.5h2M276 488.5h16M293 488.5h7M301 488.5h1M303 488.5h2M313 488.5h1M256 489.5h2M262 489.5h1M268 489.5h1M271 489.5h1M273 489.5h1M275 489.5h24M300 489.5h3M256 490.5h1M264 490.5h3M268 490.5h28M297 490.5h1M299 490.5h4M256 491.5h1M262 491.5h1M266 491.5h1M271 491.5h32M304 491.5h2M307 491.5h1M309 491.5h1M256 492.5h1M258 492.5h1M261 492.5h1M263 492.5h1M269 492.5h8M278 492.5h21M300 492.5h1M303 492.5h3M256 493.5h1M262 493.5h2M265 493.5h4M270 493.5h4M275 493.5h30M256 494.5h1M260 494.5h2M263 494.5h2M266 494.5h34M301 494.5h4M256 495.5h8M265 495.5h38M306 495.5h1M257 496.5h45M303 496.5h1M307 496.5h1M256 497.5h46M256 498.5h45M302 498.5h1M304 498.5h1M256 499.5h2M259 499.5h44M304 499.5h2M256 500.5h47M304 500.5h1M306 500.5h1M256 501.5h48M306 501.5h1M309 501.5h1M314 501.5h1M256 502.5h47M304 502.5h1M256 503.5h39M296 503.5h7M304 503.5h1M311 503.5h1M256 504.5h1M258 504.5h10M269 504.5h4M274 504.5h30M307 504.5h1M256 505.5h9M266 505.5h30M297 505.5h7M314 505.5h1M256 506.5h45M302 506.5h1M304 506.5h1M312 506.5h1M256 507.5h45M302 507.5h4M310 507.5h1M256 508.5h9M266 508.5h40M309 508.5h1M313 508.5h1M318 508.5h1M256 509.5h18M275 509.5h4M280 509.5h19M300 509.5h3M256 510.5h24M281 510.5h4M286 510.5h18M309 510.5h1M311 510.5h1M256 511.5h1M258 511.5h44M312 511.5h1M256 512.5h50M307 512.5h1M309 512.5h1M311 512.5h2M314 512.5h1M317 512.5h1M319 512.5h2" stroke="#000" stroke-width="1" fill="none" shape-rendering="crispEdges"/>
</g>
<ellipse cx="317.7" cy="433.85" rx="24.8" ry="13.4" transform="rotate(-39.5 317.7 433.85)" fill="none" stroke="#333" stroke-width="1.1"/>
<rect x="255.2" y="362" width="151.3" height="151" fill="none" stroke="#000" stroke-width="1.8"/>
<path d="M253.2 501.6h2M266.6 513.0v2M253.2 495.0h2M273.2 513.0v2M253.2 490.3h2M277.9 513.0v2M253.2 486.6h2M281.6 513.0v2M253.2 483.6h2M284.6 513.0v2M253.2 481.1h2M287.1 513.0v2M253.2 478.9h2M289.3 513.0v2M253.2 477.0h2M291.2 513.0v2M253.2 463.9h2M304.3 513.0v2M253.2 457.2h2M311.0 513.0v2M253.2 452.5h2M315.7 513.0v2M253.2 448.9h2M319.3 513.0v2M253.2 445.9h2M322.3 513.0v2M253.2 443.3h2M324.9 513.0v2M253.2 441.2h2M327.0 513.0v2M253.2 439.2h2M329.0 513.0v2M253.2 426.1h2M342.1 513.0v2M253.2 419.5h2M348.7 513.0v2M253.2 414.8h2M353.4 513.0v2M253.2 411.1h2M357.1 513.0v2M253.2 408.1h2M360.1 513.0v2M253.2 405.6h2M362.6 513.0v2M253.2 403.4h2M364.8 513.0v2M253.2 401.5h2M366.7 513.0v2M253.2 388.4h2M379.8 513.0v2M253.2 381.7h2M386.5 513.0v2M253.2 377.0h2M391.2 513.0v2M253.2 373.4h2M394.8 513.0v2M253.2 370.4h2M397.8 513.0v2M253.2 367.8h2M400.4 513.0v2M253.2 365.7h2M402.5 513.0v2M253.2 363.7h2M404.5 513.0v2" stroke="#aaa" stroke-width="0.7" fill="none"/>
<text x="249.2" y="517.9" font-size="8" fill="#333" text-anchor="end">10<tspan dy="-4.6" font-size="6.8">0</tspan></text>
<line x1="251.70" y1="513.00" x2="255.20" y2="513.00" stroke="#777" stroke-width="0.8"/>
<text x="255.8" y="530.6" font-size="8" fill="#333" text-anchor="middle">10<tspan dy="-4.6" font-size="6.8">0</tspan></text>
<line x1="255.20" y1="513.00" x2="255.20" y2="516.50" stroke="#777" stroke-width="0.8"/>
<text x="249.2" y="480.1" font-size="8" fill="#333" text-anchor="end">10<tspan dy="-4.6" font-size="6.8">1</tspan></text>
<line x1="251.70" y1="475.25" x2="255.20" y2="475.25" stroke="#777" stroke-width="0.8"/>
<text x="293.6" y="530.6" font-size="8" fill="#333" text-anchor="middle">10<tspan dy="-4.6" font-size="6.8">1</tspan></text>
<line x1="292.95" y1="513.00" x2="292.95" y2="516.50" stroke="#777" stroke-width="0.8"/>
<text x="249.2" y="442.4" font-size="8" fill="#333" text-anchor="end">10<tspan dy="-4.6" font-size="6.8">2</tspan></text>
<line x1="251.70" y1="437.50" x2="255.20" y2="437.50" stroke="#777" stroke-width="0.8"/>
<text x="331.3" y="530.6" font-size="8" fill="#333" text-anchor="middle">10<tspan dy="-4.6" font-size="6.8">2</tspan></text>
<line x1="330.70" y1="513.00" x2="330.70" y2="516.50" stroke="#777" stroke-width="0.8"/>
<text x="249.2" y="404.6" font-size="8" fill="#333" text-anchor="end">10<tspan dy="-4.6" font-size="6.8">3</tspan></text>
<line x1="251.70" y1="399.75" x2="255.20" y2="399.75" stroke="#777" stroke-width="0.8"/>
<text x="369.1" y="530.6" font-size="8" fill="#333" text-anchor="middle">10<tspan dy="-4.6" font-size="6.8">3</tspan></text>
<line x1="368.45" y1="513.00" x2="368.45" y2="516.50" stroke="#777" stroke-width="0.8"/>
<g filter="url(#bl)">
<path d="M140 571.5h1M59 577.5h1M203 583.5h1M81 585.5h1M94 586.5h1M59 587.5h1M80 588.5h1M86 588.5h1M59 591.5h1M82 592.5h1M70 593.5h1M69 594.5h1M95 595.5h1M57 597.5h1M70 597.5h1M75 597.5h1M67 598.5h1M77 598.5h1M87 598.5h1M94 598.5h1M100 598.5h1M57 599.5h1M63 599.5h1M66 599.5h1M70 599.5h1M75 599.5h1M79 599.5h1M88 599.5h2M91 599.5h1M95 599.5h2M99 599.5h1M55 600.5h2M62 600.5h1M64 600.5h1M66 600.5h1M70 600.5h2M73 600.5h1M80 600.5h1M83 600.5h1M85 600.5h1M89 600.5h1M91 600.5h2M96 600.5h3M57 601.5h2M60 601.5h2M67 601.5h1M76 601.5h2M79 601.5h1M82 601.5h2M88 601.5h1M90 601.5h3M94 601.5h1M98 601.5h1M55 602.5h1M59 602.5h2M67 602.5h1M69 602.5h1M74 602.5h1M78 602.5h2M81 602.5h2M90 602.5h1M93 602.5h1M99 602.5h1M101 602.5h1M61 603.5h1M63 603.5h1M67 603.5h1M69 603.5h1M76 603.5h2M82 603.5h1M88 603.5h1M90 603.5h1M93 603.5h1M95 603.5h1M100 603.5h3M104 603.5h1M108 603.5h1M56 604.5h2M64 604.5h1M69 604.5h1M74 604.5h2M93 604.5h1M99 604.5h1M104 604.5h1M63 605.5h1M65 605.5h1M91 605.5h1M97 605.5h1M99 605.5h2M102 605.5h1M113 605.5h1M59 606.5h1M74 606.5h1M99 606.5h2M94 607.5h1M101 607.5h1M104 607.5h2M56 608.5h1M98 608.5h1M102 608.5h2M107 608.5h1M110 608.5h1M99 609.5h4M104 609.5h1M106 609.5h1M109 609.5h1M101 611.5h1M104 611.5h4M103 612.5h1M105 612.5h1M108 612.5h1M111 612.5h1M127 612.5h1M106 613.5h1M108 613.5h2M124 613.5h1M133 613.5h1M103 614.5h2M110 614.5h1M56 615.5h1M103 615.5h1M105 615.5h1M122 615.5h1M98 616.5h1M105 616.5h1M107 616.5h1M110 616.5h1M113 616.5h1M101 617.5h3M111 617.5h1M103 618.5h2M113 618.5h1M109 619.5h1M58 620.5h1M105 620.5h2M56 621.5h1M61 621.5h1M68 621.5h1M107 621.5h1M57 622.5h1M101 622.5h1M105 622.5h1M134 622.5h1M71 623.5h1M98 623.5h1M101 623.5h1M104 623.5h2M123 623.5h1M57 624.5h1M62 624.5h1M72 624.5h1M96 624.5h1M98 624.5h1M100 624.5h1M103 624.5h1M115 624.5h1M124 624.5h1M129 624.5h1M63 625.5h1M81 625.5h1M94 625.5h1M99 625.5h1M101 625.5h1M103 625.5h1M122 625.5h1M57 626.5h3M63 626.5h2M68 626.5h1M93 626.5h1M96 626.5h1M100 626.5h2M104 626.5h1M118 626.5h1M59 627.5h1M64 627.5h1M71 627.5h2M80 627.5h2M86 627.5h1M94 627.5h1M97 627.5h1M100 627.5h1M106 627.5h1M114 627.5h1M123 627.5h1M60 628.5h4M65 628.5h2M70 628.5h1M72 628.5h2M75 628.5h1M77 628.5h1M81 628.5h1M85 628.5h1M100 628.5h1M102 628.5h1M123 628.5h1M128 628.5h1M130 628.5h1M60 629.5h2M66 629.5h1M69 629.5h2M72 629.5h1M75 629.5h1M79 629.5h3M85 629.5h1M89 629.5h1M93 629.5h1M104 629.5h1M118 629.5h1M57 630.5h1M60 630.5h1M63 630.5h1M66 630.5h1M73 630.5h1M77 630.5h2M80 630.5h2M83 630.5h1M93 630.5h1M96 630.5h2M58 631.5h1M63 631.5h2M70 631.5h2M74 631.5h1M79 631.5h1M83 631.5h1M86 631.5h2M91 631.5h1M96 631.5h1M99 631.5h3M56 632.5h3M68 632.5h3M76 632.5h1M81 632.5h2M84 632.5h1M88 632.5h4M94 632.5h3M101 632.5h1M63 633.5h1M67 633.5h1M74 633.5h1M80 633.5h2M83 633.5h3M89 633.5h1M95 633.5h3M99 633.5h1M101 633.5h1M61 634.5h1M64 634.5h1M67 634.5h1M70 634.5h1M77 634.5h2M84 634.5h1M92 634.5h2M96 634.5h1M98 634.5h2M102 634.5h3M115 634.5h1M61 635.5h2M65 635.5h2M70 635.5h1M72 635.5h1M75 635.5h3M83 635.5h1M88 635.5h3M92 635.5h1M95 635.5h1M106 635.5h1M111 635.5h1M58 636.5h1M60 636.5h1M64 636.5h1M66 636.5h1M69 636.5h1M73 636.5h1M77 636.5h2M80 636.5h2M83 636.5h1M85 636.5h2M88 636.5h1M93 636.5h2M100 636.5h1M104 636.5h2M118 636.5h1M120 636.5h1M63 637.5h1M66 637.5h2M73 637.5h1M76 637.5h1M78 637.5h1M82 637.5h2M86 637.5h1M88 637.5h1M95 637.5h1M106 637.5h1M109 637.5h1M56 638.5h3M64 638.5h1M68 638.5h1M71 638.5h1M75 638.5h2M79 638.5h2M87 638.5h1M89 638.5h2M92 638.5h2M95 638.5h1M98 638.5h1M101 638.5h1M103 638.5h1M105 638.5h1M107 638.5h1M58 639.5h1M60 639.5h1M64 639.5h1M68 639.5h1M72 639.5h1M77 639.5h1M79 639.5h1M87 639.5h1M89 639.5h2M92 639.5h1M94 639.5h1M98 639.5h2M103 639.5h1M117 639.5h1M158 639.5h1M57 640.5h1M62 640.5h1M71 640.5h1M75 640.5h2M78 640.5h2M81 640.5h2M84 640.5h1M87 640.5h2M95 640.5h1M97 640.5h1M99 640.5h1M103 640.5h1M59 641.5h1M64 641.5h1M66 641.5h1M70 641.5h2M77 641.5h2M82 641.5h1M84 641.5h1M86 641.5h1M90 641.5h2M95 641.5h2M56 642.5h1M62 642.5h1M65 642.5h1M75 642.5h1M78 642.5h1M83 642.5h1M88 642.5h1M91 642.5h2M97 642.5h1M104 642.5h1M107 642.5h1M115 642.5h1M57 643.5h1M59 643.5h2M62 643.5h1M65 643.5h2M70 643.5h2M73 643.5h1M75 643.5h2M78 643.5h3M82 643.5h1M84 643.5h3M90 643.5h1M93 643.5h1M97 643.5h1M104 643.5h1M58 644.5h3M67 644.5h1M74 644.5h1M77 644.5h1M79 644.5h1M82 644.5h1M90 644.5h1M93 644.5h1M95 644.5h1M98 644.5h2M57 645.5h2M60 645.5h1M63 645.5h1M65 645.5h1M69 645.5h1M73 645.5h1M77 645.5h1M80 645.5h1M84 645.5h2M87 645.5h1M90 645.5h2M93 645.5h1M99 645.5h2M123 645.5h1M61 646.5h3M74 646.5h2M79 646.5h1M82 646.5h2M87 646.5h2M94 646.5h1M96 646.5h1M98 646.5h1M101 646.5h1M105 646.5h1M56 647.5h1M59 647.5h1M67 647.5h1M73 647.5h1M77 647.5h1M79 647.5h3M83 647.5h3M90 647.5h1M93 647.5h3M98 647.5h1M100 647.5h1M115 647.5h1M57 648.5h1M59 648.5h2M66 648.5h1M68 648.5h1M74 648.5h1M76 648.5h1M78 648.5h3M85 648.5h1M92 648.5h1M96 648.5h2M101 648.5h1M108 648.5h1M56 649.5h1M60 649.5h1M64 649.5h1M68 649.5h1M75 649.5h2M80 649.5h1M86 649.5h1M89 649.5h1M93 649.5h2M99 649.5h1M106 649.5h1M58 650.5h3M62 650.5h1M68 650.5h1M71 650.5h2M74 650.5h1M76 650.5h1M84 650.5h2M87 650.5h1M89 650.5h5M97 650.5h3M57 651.5h2M60 651.5h1M66 651.5h1M71 651.5h2M75 651.5h2M84 651.5h2M94 651.5h1M96 651.5h1M101 651.5h1M103 651.5h1M57 652.5h1M59 652.5h1M65 652.5h2M68 652.5h2M71 652.5h1M74 652.5h1M79 652.5h1M84 652.5h1M89 652.5h1M93 652.5h1M98 652.5h3M102 652.5h1M116 652.5h1M58 653.5h1M60 653.5h1M64 653.5h1M66 653.5h1M68 653.5h1M70 653.5h2M75 653.5h1M83 653.5h1M85 653.5h1M87 653.5h5M93 653.5h1M96 653.5h1M100 653.5h2M103 653.5h1M58 654.5h1M68 654.5h1M71 654.5h2M77 654.5h1M82 654.5h2M88 654.5h1M90 654.5h3M95 654.5h1M99 654.5h1M101 654.5h2M64 655.5h1M70 655.5h1M76 655.5h2M83 655.5h1M85 655.5h3M91 655.5h1M93 655.5h1M99 655.5h1M103 655.5h1M58 656.5h1M60 656.5h1M64 656.5h5M76 656.5h1M82 656.5h1M85 656.5h2M89 656.5h3M93 656.5h1M96 656.5h1M103 656.5h1M62 657.5h1M64 657.5h1M68 657.5h1M77 657.5h1M80 657.5h2M83 657.5h1M87 657.5h3M91 657.5h1M93 657.5h1M95 657.5h1M102 657.5h1M56 658.5h1M61 658.5h1M63 658.5h1M65 658.5h1M81 658.5h1M84 658.5h1M92 658.5h1M95 658.5h1M99 658.5h1M62 659.5h2M68 659.5h1M71 659.5h2M77 659.5h3M82 659.5h2M86 659.5h1M88 659.5h2M92 659.5h1M95 659.5h2M98 659.5h1M122 659.5h1M57 660.5h2M60 660.5h1M64 660.5h1M67 660.5h1M71 660.5h2M76 660.5h1M78 660.5h1M80 660.5h2M83 660.5h1M86 660.5h2M89 660.5h1M96 660.5h3M100 660.5h1M56 661.5h1M59 661.5h1M65 661.5h1M72 661.5h1M74 661.5h1M79 661.5h2M88 661.5h1M90 661.5h1M99 661.5h1M106 661.5h1M108 661.5h1M111 661.5h1M56 662.5h4M67 662.5h1M71 662.5h1M74 662.5h2M77 662.5h1M82 662.5h1M85 662.5h1M87 662.5h2M93 662.5h2M99 662.5h1M109 662.5h1M112 662.5h2M59 663.5h3M64 663.5h1M72 663.5h3M76 663.5h1M78 663.5h3M83 663.5h1M87 663.5h3M93 663.5h1M96 663.5h1M98 663.5h1M107 663.5h1M57 664.5h2M60 664.5h1M63 664.5h1M67 664.5h1M70 664.5h1M73 664.5h1M77 664.5h1M79 664.5h2M85 664.5h1M87 664.5h1M89 664.5h1M95 664.5h1M58 665.5h1M61 665.5h1M69 665.5h1M74 665.5h1M77 665.5h1M79 665.5h3M83 665.5h1M89 665.5h1M93 665.5h1M100 665.5h2M104 665.5h1M109 665.5h1M63 666.5h2M71 666.5h1M74 666.5h3M80 666.5h2M83 666.5h1M86 666.5h3M92 666.5h1M100 666.5h1M105 666.5h1M109 666.5h1M57 667.5h1M59 667.5h3M63 667.5h1M69 667.5h1M71 667.5h1M73 667.5h2M77 667.5h1M80 667.5h2M83 667.5h1M87 667.5h1M92 667.5h1M98 667.5h4M104 667.5h1M110 667.5h1M57 668.5h1M62 668.5h2M65 668.5h2M68 668.5h1M73 668.5h1M75 668.5h2M79 668.5h2M87 668.5h1M98 668.5h1M105 668.5h1M56 669.5h3M60 669.5h1M62 669.5h2M70 669.5h1M72 669.5h2M76 669.5h1M78 669.5h1M80 669.5h1M84 669.5h1M86 669.5h3M91 669.5h1M99 669.5h1M104 669.5h1M62 670.5h2M66 670.5h2M69 670.5h3M73 670.5h1M75 670.5h1M77 670.5h1M81 670.5h1M83 670.5h2M90 670.5h1M92 670.5h1M94 670.5h1M99 670.5h3M103 670.5h1M108 670.5h1M56 671.5h1M58 671.5h3M62 671.5h3M66 671.5h1M68 671.5h1M72 671.5h2M76 671.5h1M80 671.5h1M82 671.5h1M85 671.5h1M90 671.5h2M97 671.5h1M104 671.5h1M106 671.5h1M112 671.5h1M127 671.5h1M56 672.5h1M59 672.5h1M64 672.5h1M70 672.5h2M78 672.5h1M84 672.5h1M88 672.5h2M93 672.5h1M96 672.5h1M104 672.5h2M110 672.5h2M56 673.5h3M61 673.5h3M65 673.5h3M72 673.5h1M75 673.5h1M77 673.5h1M83 673.5h1M85 673.5h1M92 673.5h1M97 673.5h1M100 673.5h1M103 673.5h1M108 673.5h2M112 673.5h1M56 674.5h4M63 674.5h1M66 674.5h1M72 674.5h2M82 674.5h2M93 674.5h1M97 674.5h2M100 674.5h3M109 674.5h1M56 675.5h2M61 675.5h1M63 675.5h1M65 675.5h1M67 675.5h2M73 675.5h1M89 675.5h1M95 675.5h2M98 675.5h1M102 675.5h1M105 675.5h1M108 675.5h1M113 675.5h1M56 676.5h4M64 676.5h1M66 676.5h1M69 676.5h1M72 676.5h1M75 676.5h1M79 676.5h1M88 676.5h1M102 676.5h1M105 676.5h1M114 676.5h2M59 677.5h1M66 677.5h1M68 677.5h1M76 677.5h1M81 677.5h1M85 677.5h1M90 677.5h1M93 677.5h1M95 677.5h1M101 677.5h3M107 677.5h1M112 677.5h1M187 677.5h1M58 678.5h2M61 678.5h1M65 678.5h1M67 678.5h1M73 678.5h1M79 678.5h1M84 678.5h1M92 678.5h1M96 678.5h5M105 678.5h1M107 678.5h2M58 679.5h6M75 679.5h1M81 679.5h1M101 679.5h1M103 679.5h3M110 679.5h1M116 679.5h1M57 680.5h1M63 680.5h1M65 680.5h1M67 680.5h1M69 680.5h1M71 680.5h1M81 680.5h1M84 680.5h1M87 680.5h1M92 680.5h1M104 680.5h2M107 680.5h1M110 680.5h1M115 680.5h1M56 681.5h1M60 681.5h1M63 681.5h2M67 681.5h1M69 681.5h2M80 681.5h1M97 681.5h1M101 681.5h1M103 681.5h1M109 681.5h2M112 681.5h1M117 681.5h1M58 682.5h1M60 682.5h1M62 682.5h1M68 682.5h2M79 682.5h1M96 682.5h1M100 682.5h1M104 682.5h1M113 682.5h1M115 682.5h1M58 683.5h1M60 683.5h2M63 683.5h1M65 683.5h4M71 683.5h1M73 683.5h1M77 683.5h1M91 683.5h1M95 683.5h1M101 683.5h1M104 683.5h2M110 683.5h2M59 684.5h6M66 684.5h1M94 684.5h1M98 684.5h1M103 684.5h1M105 684.5h2M108 684.5h1M56 685.5h1M59 685.5h1M61 685.5h2M104 685.5h1M107 685.5h1M109 685.5h1M120 685.5h1M60 686.5h1M63 686.5h1M65 686.5h1M69 686.5h1M102 686.5h4M108 686.5h1M111 686.5h1M57 687.5h2M65 687.5h1M67 687.5h1M84 687.5h1M103 687.5h3M108 687.5h2M112 687.5h2M115 687.5h1M117 687.5h1M123 687.5h1M56 688.5h1M58 688.5h1M60 688.5h1M66 688.5h1M107 688.5h1M109 688.5h1M59 689.5h1M105 689.5h1M108 689.5h2M112 689.5h1M123 689.5h1M130 689.5h1M56 690.5h2M61 690.5h1M103 690.5h1M110 690.5h1M112 690.5h1M115 690.5h1M117 690.5h1M121 690.5h1M56 691.5h1M67 691.5h1M101 691.5h1M103 691.5h1M107 691.5h2M110 691.5h2M115 691.5h1M57 692.5h1M104 692.5h1M115 692.5h1M103 693.5h1M106 693.5h1M113 693.5h2M117 693.5h1M101 694.5h1M103 694.5h2M107 694.5h1M104 695.5h3M110 695.5h1M102 696.5h1M104 696.5h1M106 696.5h1M108 696.5h1M113 696.5h1M121 696.5h1M126 696.5h1M106 698.5h2M112 698.5h1M118 698.5h2M109 699.5h3M117 699.5h1M121 699.5h1M100 700.5h1M103 700.5h1M105 700.5h2M111 700.5h1M114 700.5h1M116 700.5h1M118 700.5h1M102 701.5h1M105 701.5h1M109 701.5h2M112 701.5h3M116 701.5h1M106 702.5h1M114 702.5h1M121 702.5h1M57 703.5h1M101 703.5h1M106 703.5h2M112 703.5h1M114 703.5h1M123 703.5h1M100 704.5h1M105 704.5h4M110 704.5h6M118 704.5h1M123 704.5h1M125 704.5h1M127 704.5h1M102 705.5h1M106 705.5h1M111 705.5h2M114 705.5h1M132 705.5h1M102 706.5h1M105 706.5h1M107 706.5h3M111 706.5h1M113 706.5h1M91 707.5h1M106 707.5h5M102 708.5h1M104 708.5h1M106 708.5h2M113 708.5h1M106 709.5h2M111 709.5h1M114 709.5h1M120 709.5h1M131 709.5h1" stroke="#606060" stroke-width="1" fill="none" shape-rendering="crispEdges"/>
<path d="M94 597.5h1M85 599.5h1M73 601.5h2M85 601.5h1M58 602.5h1M66 602.5h1M84 602.5h2M89 602.5h1M95 602.5h1M55 603.5h2M58 603.5h1M64 603.5h2M71 603.5h3M78 603.5h1M81 603.5h1M87 603.5h1M89 603.5h1M96 603.5h1M55 604.5h1M58 604.5h2M63 604.5h1M67 604.5h1M76 604.5h1M79 604.5h1M97 604.5h1M58 605.5h1M60 605.5h1M66 605.5h1M69 605.5h1M72 605.5h1M92 605.5h1M58 606.5h1M70 606.5h1M101 606.5h1M104 606.5h1M60 607.5h1M71 607.5h1M98 607.5h1M106 607.5h1M60 608.5h1M64 608.5h1M104 608.5h2M59 609.5h1M60 610.5h1M100 610.5h1M102 610.5h1M104 610.5h1M63 611.5h1M70 611.5h1M99 611.5h1M102 611.5h1M100 612.5h1M104 612.5h1M112 613.5h1M64 614.5h1M102 614.5h1M106 614.5h1M76 617.5h1M104 617.5h1M56 618.5h1M102 618.5h1M105 618.5h2M61 619.5h1M103 619.5h1M105 619.5h1M57 620.5h1M102 620.5h3M57 621.5h1M63 621.5h1M70 622.5h1M57 623.5h1M61 623.5h1M96 623.5h1M99 623.5h2M67 624.5h1M74 624.5h1M94 624.5h2M97 624.5h1M102 624.5h1M57 625.5h1M60 625.5h1M62 625.5h1M64 625.5h1M68 625.5h1M71 625.5h1M90 625.5h1M100 625.5h1M104 625.5h1M69 626.5h5M95 626.5h1M98 626.5h2M65 627.5h1M67 627.5h1M73 627.5h1M78 627.5h2M92 627.5h1M56 628.5h1M67 628.5h1M76 628.5h1M82 628.5h1M84 628.5h1M90 628.5h1M92 628.5h1M99 628.5h1M65 629.5h1M77 629.5h1M82 629.5h2M86 629.5h2M90 629.5h1M92 629.5h1M94 629.5h1M96 629.5h1M58 630.5h1M67 630.5h1M74 630.5h1M76 630.5h1M79 630.5h1M88 630.5h1M90 630.5h1M65 631.5h1M67 631.5h1M78 631.5h1M82 631.5h1M84 631.5h2M89 631.5h1M93 631.5h1M62 632.5h1M79 632.5h1M83 632.5h1M93 632.5h1M99 632.5h2M62 633.5h1M65 633.5h1M69 633.5h1M79 633.5h1M59 634.5h2M68 634.5h1M81 634.5h2M85 634.5h2M89 634.5h1M60 635.5h1M78 635.5h1M82 635.5h1M85 635.5h2M97 635.5h1M76 636.5h1M89 636.5h1M91 636.5h1M96 636.5h1M74 637.5h1M89 637.5h1M94 637.5h1M61 638.5h1M69 638.5h1M78 638.5h1M82 638.5h2M86 638.5h1M88 638.5h1M100 638.5h1M73 639.5h1M85 639.5h1M88 639.5h1M61 640.5h1M64 640.5h1M85 640.5h1M89 640.5h1M92 640.5h1M96 640.5h1M98 640.5h1M100 640.5h1M58 641.5h1M60 641.5h1M72 641.5h1M76 641.5h1M81 641.5h1M83 641.5h1M88 641.5h1M94 641.5h1M97 641.5h1M101 641.5h1M79 642.5h2M84 642.5h1M86 642.5h2M83 643.5h1M94 643.5h1M101 643.5h2M69 644.5h1M81 644.5h1M84 644.5h1M88 644.5h1M91 644.5h1M96 644.5h2M66 645.5h1M81 645.5h2M88 645.5h1M97 645.5h1M59 646.5h1M64 646.5h1M70 646.5h1M85 646.5h2M91 646.5h2M61 647.5h1M72 647.5h1M78 647.5h1M82 647.5h1M103 647.5h1M56 648.5h1M83 648.5h1M86 648.5h1M90 648.5h1M103 648.5h1M77 649.5h1M81 649.5h1M90 649.5h1M102 649.5h1M67 650.5h1M70 650.5h1M55 651.5h1M65 651.5h1M73 651.5h1M81 651.5h1M90 651.5h1M92 651.5h1M82 652.5h1M85 652.5h2M96 652.5h1M55 653.5h1M72 653.5h1M77 653.5h1M79 653.5h1M82 653.5h1M84 653.5h1M86 654.5h1M98 654.5h1M79 655.5h2M84 655.5h1M92 655.5h1M59 656.5h1M80 656.5h1M83 656.5h1M88 656.5h1M92 656.5h1M99 656.5h1M79 657.5h1M64 658.5h1M66 658.5h1M73 658.5h1M77 658.5h1M82 658.5h1M86 658.5h2M90 658.5h1M66 659.5h1M69 659.5h1M74 659.5h1M85 659.5h1M69 660.5h1M75 660.5h1M79 660.5h1M82 660.5h1M85 660.5h1M94 660.5h1M77 661.5h1M84 661.5h1M86 661.5h2M92 661.5h1M69 662.5h1M79 662.5h1M83 662.5h2M86 662.5h1M89 662.5h1M91 662.5h2M95 662.5h1M100 662.5h1M90 663.5h1M100 663.5h1M76 664.5h1M83 664.5h2M88 664.5h1M96 664.5h1M73 665.5h1M78 665.5h1M84 665.5h1M92 665.5h1M67 666.5h1M99 666.5h1M72 667.5h1M79 667.5h1M86 667.5h1M88 667.5h1M90 667.5h1M70 668.5h1M81 668.5h2M90 668.5h1M95 668.5h1M107 668.5h1M64 669.5h1M66 669.5h1M71 669.5h1M74 669.5h1M77 669.5h1M79 669.5h1M85 669.5h1M94 669.5h1M101 669.5h1M57 670.5h1M72 670.5h1M76 670.5h1M78 670.5h1M85 670.5h2M89 670.5h1M91 670.5h1M95 670.5h1M97 670.5h2M65 671.5h1M69 671.5h3M79 671.5h1M89 671.5h1M92 671.5h4M102 671.5h1M58 672.5h1M63 672.5h1M65 672.5h2M69 672.5h1M75 672.5h1M79 672.5h2M82 672.5h2M95 672.5h1M97 672.5h2M100 672.5h1M59 673.5h1M69 673.5h1M74 673.5h1M82 673.5h1M86 673.5h1M89 673.5h2M93 673.5h1M95 673.5h1M99 673.5h1M101 673.5h1M106 673.5h1M62 674.5h1M69 674.5h1M77 674.5h1M86 674.5h1M103 674.5h1M59 675.5h1M64 675.5h1M66 675.5h1M70 675.5h1M80 675.5h1M82 675.5h1M100 675.5h2M103 675.5h1M62 676.5h2M67 676.5h2M71 676.5h1M74 676.5h1M87 676.5h1M93 676.5h1M96 676.5h1M99 676.5h1M112 676.5h1M57 677.5h1M62 677.5h1M70 677.5h1M74 677.5h1M77 677.5h1M83 677.5h2M91 677.5h1M98 677.5h2M56 678.5h1M66 678.5h1M68 678.5h2M74 678.5h1M80 678.5h1M83 678.5h1M90 678.5h1M106 678.5h1M57 679.5h1M73 679.5h2M79 679.5h2M88 679.5h2M91 679.5h1M96 679.5h1M102 679.5h1M106 679.5h2M56 680.5h1M61 680.5h1M64 680.5h1M66 680.5h1M74 680.5h1M78 680.5h1M100 680.5h2M103 680.5h1M57 681.5h1M59 681.5h1M62 681.5h1M72 681.5h1M75 681.5h1M77 681.5h1M82 681.5h1M93 681.5h1M98 681.5h1M57 682.5h1M59 682.5h1M67 682.5h1M70 682.5h1M88 682.5h2M101 682.5h1M103 682.5h1M59 683.5h1M62 683.5h1M70 683.5h1M96 683.5h1M99 683.5h2M102 683.5h1M108 683.5h1M56 684.5h1M65 684.5h1M67 684.5h1M69 684.5h1M71 684.5h1M73 684.5h1M75 684.5h1M86 684.5h1M88 684.5h1M95 684.5h1M101 684.5h1M104 684.5h1M64 685.5h2M67 685.5h1M72 685.5h1M74 685.5h1M89 685.5h1M100 685.5h3M110 685.5h1M57 686.5h1M59 686.5h1M61 686.5h1M66 686.5h2M72 686.5h1M97 686.5h2M101 686.5h1M60 687.5h1M62 687.5h2M66 687.5h1M70 687.5h1M74 687.5h1M92 687.5h1M57 688.5h1M61 688.5h1M63 688.5h1M94 688.5h1M101 688.5h2M104 688.5h1M56 689.5h1M63 689.5h1M69 689.5h1M73 689.5h1M103 689.5h2M60 690.5h1M65 690.5h1M97 690.5h1M101 690.5h1M108 690.5h1M105 692.5h2M102 693.5h1M109 693.5h1M98 694.5h1M108 694.5h1M56 695.5h1M100 695.5h1M103 695.5h1M108 695.5h1M118 695.5h1M58 697.5h1M96 697.5h1M103 697.5h1M105 697.5h1M108 698.5h1M110 698.5h1M114 698.5h2M56 699.5h1M69 699.5h1M102 699.5h1M66 700.5h1M86 701.5h1M101 701.5h1M58 702.5h1M102 702.5h1M108 702.5h1M113 702.5h1M74 703.5h1M104 703.5h1M111 703.5h1M118 703.5h1M104 704.5h1M57 705.5h1M90 705.5h1M99 705.5h1M107 705.5h1M74 706.5h1M90 706.5h1M99 706.5h1M106 706.5h1M110 706.5h1M72 707.5h1M99 707.5h1M101 707.5h1M104 707.5h2M115 707.5h1M118 707.5h1M105 708.5h1M111 708.5h1M108 709.5h1M115 709.5h2" stroke="#2a2a2a" stroke-width="1" fill="none" shape-rendering="crispEdges"/>
<path d="M59 601.5h1M84 601.5h1M86 601.5h1M93 601.5h1M95 601.5h1M77 602.5h1M83 602.5h1M87 602.5h2M92 602.5h1M96 602.5h1M100 602.5h1M57 603.5h1M62 603.5h1M66 603.5h1M68 603.5h1M70 603.5h1M74 603.5h2M79 603.5h1M83 603.5h4M91 603.5h1M94 603.5h1M60 604.5h3M65 604.5h2M68 604.5h1M70 604.5h4M77 604.5h2M80 604.5h11M92 604.5h1M94 604.5h2M55 605.5h3M61 605.5h1M64 605.5h1M67 605.5h2M70 605.5h1M73 605.5h18M93 605.5h4M55 606.5h3M60 606.5h10M71 606.5h3M75 606.5h24M55 607.5h5M61 607.5h10M72 607.5h22M95 607.5h3M99 607.5h1M103 607.5h1M55 608.5h1M57 608.5h3M61 608.5h3M65 608.5h33M55 609.5h4M60 609.5h39M55 610.5h5M61 610.5h39M103 610.5h1M55 611.5h8M64 611.5h6M71 611.5h28M100 611.5h1M103 611.5h1M55 612.5h45M101 612.5h2M55 613.5h50M55 614.5h9M65 614.5h37M55 615.5h1M57 615.5h46M104 615.5h1M55 616.5h43M99 616.5h4M55 617.5h21M77 617.5h24M55 618.5h1M57 618.5h45M55 619.5h6M62 619.5h40M104 619.5h1M106 619.5h1M55 620.5h2M59 620.5h43M55 621.5h1M58 621.5h3M62 621.5h1M64 621.5h4M69 621.5h33M103 621.5h1M55 622.5h2M58 622.5h12M71 622.5h29M55 623.5h2M58 623.5h3M62 623.5h9M72 623.5h24M97 623.5h1M55 624.5h1M58 624.5h4M63 624.5h4M68 624.5h4M73 624.5h1M75 624.5h19M99 624.5h1M101 624.5h1M55 625.5h2M58 625.5h2M61 625.5h1M65 625.5h3M69 625.5h2M72 625.5h9M82 625.5h8M91 625.5h3M95 625.5h4M55 626.5h2M60 626.5h3M65 626.5h3M75 626.5h18M97 626.5h1M55 627.5h2M60 627.5h1M62 627.5h2M68 627.5h3M74 627.5h4M82 627.5h1M84 627.5h2M87 627.5h5M93 627.5h1M95 627.5h2M98 627.5h1M55 628.5h1M58 628.5h1M68 628.5h1M78 628.5h3M83 628.5h1M86 628.5h1M88 628.5h2M91 628.5h1M94 628.5h3M55 629.5h1M68 629.5h1M74 629.5h1M76 629.5h1M78 629.5h1M84 629.5h1M91 629.5h1M95 629.5h1M55 630.5h1M68 630.5h1M82 630.5h1M85 630.5h1M87 630.5h1M89 630.5h1M91 630.5h2M95 630.5h1M55 631.5h1M80 631.5h2M92 631.5h1M55 632.5h1M85 632.5h3M55 633.5h1M76 633.5h1M87 633.5h1M90 633.5h1M55 634.5h1M90 634.5h1M55 635.5h1M84 635.5h1M87 635.5h1M93 635.5h1M55 636.5h1M79 636.5h1M84 636.5h1M55 637.5h1M84 637.5h1M87 637.5h1M90 637.5h1M55 638.5h1M85 638.5h1M94 638.5h1M55 639.5h1M61 639.5h1M76 639.5h1M97 639.5h1M55 640.5h1M83 640.5h1M86 640.5h1M93 640.5h2M55 641.5h1M85 641.5h1M89 641.5h1M55 642.5h1M82 642.5h1M89 642.5h1M55 643.5h1M81 643.5h1M88 643.5h1M55 644.5h1M87 644.5h1M55 645.5h1M55 646.5h1M90 646.5h1M93 646.5h1M55 647.5h1M55 648.5h1M82 648.5h1M91 648.5h1M55 649.5h1M62 649.5h1M85 649.5h1M87 649.5h1M92 649.5h1M55 650.5h1M83 650.5h1M96 650.5h1M88 651.5h1M55 652.5h1M91 652.5h1M55 654.5h1M75 654.5h1M81 654.5h1M55 655.5h1M81 655.5h1M55 656.5h1M55 657.5h1M60 657.5h2M55 658.5h1M68 658.5h1M88 658.5h1M55 659.5h1M55 660.5h1M55 661.5h1M82 661.5h1M55 662.5h1M55 663.5h1M55 664.5h1M55 665.5h1M86 665.5h1M90 665.5h2M55 666.5h1M77 666.5h1M79 666.5h1M85 666.5h1M89 666.5h1M55 667.5h1M75 667.5h1M85 667.5h1M89 667.5h1M55 668.5h1M74 668.5h1M77 668.5h1M83 668.5h1M86 668.5h1M92 668.5h3M55 669.5h1M90 669.5h1M96 669.5h1M55 670.5h1M59 670.5h1M65 670.5h1M82 670.5h1M87 670.5h2M93 670.5h1M55 671.5h1M61 671.5h1M77 671.5h2M81 671.5h1M84 671.5h1M86 671.5h3M55 672.5h1M62 672.5h1M67 672.5h2M72 672.5h1M74 672.5h1M77 672.5h1M81 672.5h1M86 672.5h2M90 672.5h3M55 673.5h1M70 673.5h2M73 673.5h1M76 673.5h1M78 673.5h2M81 673.5h1M84 673.5h1M87 673.5h2M91 673.5h1M94 673.5h1M55 674.5h1M61 674.5h1M64 674.5h2M68 674.5h1M70 674.5h1M74 674.5h1M76 674.5h1M78 674.5h4M84 674.5h2M87 674.5h6M95 674.5h2M55 675.5h1M62 675.5h1M69 675.5h1M75 675.5h5M81 675.5h1M83 675.5h6M90 675.5h5M97 675.5h1M55 676.5h1M73 676.5h1M76 676.5h3M80 676.5h7M89 676.5h4M94 676.5h1M97 676.5h2M101 676.5h1M55 677.5h1M63 677.5h1M65 677.5h1M67 677.5h1M69 677.5h1M71 677.5h3M75 677.5h1M78 677.5h3M82 677.5h1M86 677.5h2M92 677.5h1M96 677.5h2M100 677.5h1M55 678.5h1M60 678.5h1M62 678.5h1M64 678.5h1M70 678.5h3M75 678.5h4M81 678.5h2M85 678.5h1M87 678.5h3M91 678.5h1M93 678.5h3M55 679.5h1M66 679.5h1M69 679.5h1M72 679.5h1M76 679.5h3M82 679.5h6M90 679.5h1M92 679.5h4M97 679.5h3M55 680.5h1M62 680.5h1M72 680.5h2M75 680.5h3M79 680.5h2M82 680.5h2M85 680.5h2M89 680.5h3M93 680.5h5M99 680.5h1M55 681.5h1M61 681.5h1M66 681.5h1M68 681.5h1M73 681.5h2M76 681.5h1M81 681.5h1M83 681.5h10M94 681.5h3M99 681.5h2M55 682.5h1M61 682.5h1M65 682.5h2M71 682.5h3M75 682.5h4M80 682.5h8M90 682.5h6M97 682.5h1M99 682.5h1M102 682.5h1M55 683.5h1M57 683.5h1M72 683.5h1M74 683.5h3M78 683.5h13M92 683.5h3M97 683.5h1M103 683.5h1M109 683.5h1M55 684.5h1M68 684.5h1M70 684.5h1M72 684.5h1M74 684.5h1M76 684.5h10M87 684.5h1M89 684.5h5M96 684.5h2M100 684.5h1M102 684.5h1M55 685.5h1M63 685.5h1M68 685.5h4M73 685.5h1M75 685.5h14M90 685.5h10M105 685.5h1M55 686.5h1M62 686.5h1M64 686.5h1M68 686.5h1M70 686.5h2M73 686.5h24M100 686.5h1M55 687.5h2M59 687.5h1M61 687.5h1M64 687.5h1M68 687.5h2M71 687.5h3M75 687.5h9M85 687.5h7M93 687.5h10M106 687.5h1M55 688.5h1M59 688.5h1M62 688.5h1M64 688.5h1M68 688.5h26M95 688.5h5M106 688.5h1M55 689.5h1M58 689.5h1M60 689.5h3M64 689.5h5M70 689.5h3M74 689.5h29M55 690.5h1M58 690.5h2M62 690.5h3M66 690.5h31M98 690.5h3M102 690.5h1M55 691.5h1M57 691.5h10M68 691.5h33M102 691.5h1M55 692.5h2M58 692.5h46M55 693.5h47M104 693.5h1M55 694.5h43M99 694.5h2M102 694.5h1M105 694.5h1M55 695.5h1M57 695.5h43M101 695.5h2M55 696.5h9M65 696.5h37M103 696.5h1M55 697.5h3M59 697.5h37M97 697.5h6M104 697.5h1M55 698.5h41M97 698.5h6M104 698.5h1M55 699.5h1M57 699.5h12M70 699.5h32M55 700.5h11M67 700.5h33M101 700.5h2M107 700.5h1M55 701.5h31M87 701.5h14M55 702.5h3M59 702.5h43M103 702.5h1M55 703.5h2M58 703.5h16M75 703.5h25M55 704.5h45M101 704.5h3M55 705.5h2M58 705.5h32M91 705.5h8M100 705.5h2M103 705.5h3M110 705.5h1M55 706.5h19M75 706.5h15M91 706.5h8M100 706.5h2M103 706.5h1M112 706.5h1M55 707.5h17M73 707.5h18M92 707.5h7M100 707.5h1M102 707.5h1M55 708.5h47M103 708.5h1M55 709.5h51M109 709.5h2" stroke="#000" stroke-width="1" fill="none" shape-rendering="crispEdges"/>
</g>
<ellipse cx="120.45" cy="626.85" rx="24.6" ry="13.5" transform="rotate(-39.5 120.45 626.85)" fill="none" stroke="#333" stroke-width="1.1"/>
<rect x="54" y="558.7" width="150.7" height="151.3" fill="none" stroke="#000" stroke-width="1.8"/>
<path d="M52.0 698.6h2M65.4 710.0v2M52.0 692.0h2M72.0 710.0v2M52.0 687.3h2M76.7 710.0v2M52.0 683.6h2M80.4 710.0v2M52.0 680.6h2M83.4 710.0v2M52.0 678.1h2M85.9 710.0v2M52.0 675.9h2M88.1 710.0v2M52.0 674.0h2M90.0 710.0v2M52.0 660.9h2M103.1 710.0v2M52.0 654.2h2M109.8 710.0v2M52.0 649.5h2M114.5 710.0v2M52.0 645.9h2M118.1 710.0v2M52.0 642.9h2M121.1 710.0v2M52.0 640.3h2M123.7 710.0v2M52.0 638.2h2M125.8 710.0v2M52.0 636.2h2M127.8 710.0v2M52.0 623.1h2M140.9 710.0v2M52.0 616.5h2M147.5 710.0v2M52.0 611.8h2M152.2 710.0v2M52.0 608.1h2M155.9 710.0v2M52.0 605.1h2M158.9 710.0v2M52.0 602.6h2M161.4 710.0v2M52.0 600.4h2M163.6 710.0v2M52.0 598.5h2M165.5 710.0v2M52.0 585.4h2M178.6 710.0v2M52.0 578.7h2M185.3 710.0v2M52.0 574.0h2M190.0 710.0v2M52.0 570.4h2M193.6 710.0v2M52.0 567.4h2M196.6 710.0v2M52.0 564.8h2M199.2 710.0v2M52.0 562.7h2M201.3 710.0v2M52.0 560.7h2M203.3 710.0v2" stroke="#aaa" stroke-width="0.7" fill="none"/>
<text x="48" y="714.9" font-size="8" fill="#333" text-anchor="end">10<tspan dy="-4.6" font-size="6.8">0</tspan></text>
<line x1="50.50" y1="710.00" x2="54.00" y2="710.00" stroke="#777" stroke-width="0.8"/>
<text x="54.6" y="727.6" font-size="8" fill="#333" text-anchor="middle">10<tspan dy="-4.6" font-size="6.8">0</tspan></text>
<line x1="54.00" y1="710.00" x2="54.00" y2="713.50" stroke="#777" stroke-width="0.8"/>
<text x="48" y="677.1" font-size="8" fill="#333" text-anchor="end">10<tspan dy="-4.6" font-size="6.8">1</tspan></text>
<line x1="50.50" y1="672.25" x2="54.00" y2="672.25" stroke="#777" stroke-width="0.8"/>
<text x="92.3" y="727.6" font-size="8" fill="#333" text-anchor="middle">10<tspan dy="-4.6" font-size="6.8">1</tspan></text>
<line x1="91.75" y1="710.00" x2="91.75" y2="713.50" stroke="#777" stroke-width="0.8"/>
<text x="48" y="639.4" font-size="8" fill="#333" text-anchor="end">10<tspan dy="-4.6" font-size="6.8">2</tspan></text>
<line x1="50.50" y1="634.50" x2="54.00" y2="634.50" stroke="#777" stroke-width="0.8"/>
<text x="130.1" y="727.6" font-size="8" fill="#333" text-anchor="middle">10<tspan dy="-4.6" font-size="6.8">2</tspan></text>
<line x1="129.50" y1="710.00" x2="129.50" y2="713.50" stroke="#777" stroke-width="0.8"/>
<text x="48" y="601.6" font-size="8" fill="#333" text-anchor="end">10<tspan dy="-4.6" font-size="6.8">3</tspan></text>
<line x1="50.50" y1="596.75" x2="54.00" y2="596.75" stroke="#777" stroke-width="0.8"/>
<text x="167.8" y="727.6" font-size="8" fill="#333" text-anchor="middle">10<tspan dy="-4.6" font-size="6.8">3</tspan></text>
<line x1="167.25" y1="710.00" x2="167.25" y2="713.50" stroke="#777" stroke-width="0.8"/>
<g filter="url(#bl)">
<path d="M284 563.5h1M286 564.5h1M348 575.5h1M264 584.5h1M271 587.5h1M259 589.5h1M297 589.5h1M276 591.5h1M288 591.5h1M256 592.5h1M268 592.5h1M294 592.5h1M264 593.5h1M294 593.5h1M299 593.5h1M271 595.5h1M278 595.5h1M282 595.5h1M292 595.5h1M275 596.5h1M291 596.5h1M267 597.5h1M284 598.5h1M291 598.5h2M256 599.5h1M267 599.5h1M270 599.5h2M280 599.5h1M284 599.5h1M287 599.5h2M297 599.5h1M256 600.5h1M274 600.5h1M276 600.5h1M283 600.5h1M286 600.5h1M290 600.5h1M347 600.5h1M256 601.5h1M259 601.5h1M272 601.5h2M275 601.5h1M278 601.5h1M281 601.5h1M290 601.5h2M294 601.5h2M257 602.5h1M259 602.5h1M265 602.5h1M270 602.5h2M273 602.5h2M276 602.5h1M286 602.5h2M289 602.5h2M292 602.5h1M294 602.5h1M296 602.5h1M299 602.5h1M331 602.5h1M257 603.5h2M264 603.5h1M269 603.5h1M272 603.5h4M279 603.5h1M281 603.5h2M284 603.5h1M288 603.5h1M290 603.5h3M296 603.5h1M304 603.5h1M256 604.5h2M261 604.5h1M264 604.5h1M266 604.5h1M271 604.5h1M276 604.5h1M278 604.5h2M282 604.5h1M286 604.5h1M292 604.5h1M294 604.5h1M265 605.5h1M272 605.5h1M278 605.5h2M284 605.5h1M287 605.5h1M292 605.5h1M298 605.5h1M300 605.5h3M304 605.5h2M257 606.5h1M265 606.5h2M274 606.5h1M278 606.5h1M295 606.5h2M298 606.5h1M300 606.5h1M304 606.5h1M306 606.5h1M257 607.5h1M266 607.5h1M272 607.5h1M299 607.5h2M302 607.5h1M306 607.5h1M333 607.5h1M257 608.5h1M261 608.5h1M299 608.5h1M343 608.5h1M270 609.5h1M273 609.5h1M298 609.5h1M305 609.5h2M313 609.5h1M316 609.5h1M332 609.5h1M334 609.5h1M259 610.5h1M261 610.5h1M267 610.5h1M297 610.5h2M300 610.5h1M303 610.5h1M305 610.5h1M335 610.5h1M340 610.5h1M303 611.5h1M305 611.5h1M310 611.5h1M312 611.5h1M326 611.5h1M329 611.5h1M404 611.5h1M299 612.5h4M306 612.5h1M330 612.5h1M333 612.5h1M338 612.5h1M300 613.5h1M302 613.5h1M304 613.5h2M312 613.5h1M324 613.5h1M327 613.5h1M332 613.5h1M300 614.5h2M303 614.5h4M308 614.5h1M310 614.5h1M312 614.5h1M317 614.5h1M326 614.5h2M340 614.5h1M257 615.5h1M262 615.5h1M272 615.5h1M302 615.5h1M304 615.5h2M332 615.5h1M337 615.5h1M341 615.5h1M344 615.5h1M392 615.5h1M269 616.5h1M303 616.5h1M307 616.5h1M312 616.5h2M333 616.5h1M338 616.5h3M343 616.5h2M292 617.5h1M302 617.5h1M304 617.5h1M306 617.5h1M308 617.5h1M313 617.5h1M321 617.5h1M326 617.5h1M332 617.5h1M334 617.5h1M336 617.5h1M301 618.5h1M314 618.5h1M320 618.5h2M326 618.5h1M334 618.5h1M337 618.5h1M340 618.5h1M303 619.5h2M307 619.5h1M311 619.5h1M313 619.5h1M329 619.5h1M331 619.5h2M337 619.5h1M339 619.5h1M311 620.5h1M315 620.5h1M318 620.5h1M325 620.5h1M329 620.5h1M338 620.5h1M272 621.5h1M303 621.5h2M307 621.5h1M309 621.5h1M323 621.5h1M326 621.5h2M333 621.5h1M335 621.5h1M340 621.5h1M342 621.5h1M300 622.5h2M303 622.5h2M309 622.5h1M312 622.5h1M315 622.5h1M317 622.5h1M321 622.5h1M324 622.5h1M327 622.5h2M330 622.5h1M332 622.5h2M337 622.5h1M258 623.5h1M260 623.5h1M268 623.5h1M275 623.5h1M301 623.5h2M307 623.5h1M313 623.5h1M318 623.5h1M322 623.5h1M324 623.5h2M329 623.5h1M332 623.5h1M337 623.5h1M274 624.5h1M290 624.5h1M297 624.5h1M305 624.5h1M312 624.5h1M315 624.5h2M320 624.5h2M334 624.5h1M337 624.5h1M257 625.5h2M267 625.5h1M297 625.5h1M299 625.5h1M301 625.5h1M303 625.5h1M316 625.5h1M318 625.5h1M321 625.5h1M324 625.5h1M329 625.5h2M332 625.5h1M334 625.5h1M265 626.5h1M271 626.5h1M291 626.5h1M295 626.5h1M298 626.5h2M304 626.5h1M308 626.5h1M316 626.5h1M321 626.5h1M323 626.5h1M326 626.5h1M328 626.5h1M330 626.5h1M260 627.5h2M272 627.5h1M283 627.5h1M286 627.5h1M289 627.5h3M300 627.5h1M303 627.5h2M310 627.5h3M316 627.5h2M319 627.5h3M325 627.5h1M328 627.5h2M334 627.5h1M336 627.5h1M257 628.5h2M261 628.5h1M266 628.5h1M270 628.5h1M272 628.5h3M277 628.5h1M283 628.5h3M291 628.5h3M295 628.5h1M319 628.5h1M322 628.5h1M324 628.5h1M326 628.5h1M328 628.5h1M340 628.5h1M259 629.5h3M263 629.5h1M266 629.5h2M270 629.5h2M274 629.5h1M282 629.5h2M287 629.5h1M291 629.5h1M295 629.5h1M297 629.5h1M299 629.5h1M303 629.5h1M306 629.5h1M312 629.5h1M317 629.5h2M324 629.5h1M257 630.5h2M260 630.5h2M263 630.5h3M267 630.5h3M271 630.5h2M275 630.5h1M278 630.5h1M280 630.5h1M285 630.5h1M287 630.5h1M294 630.5h1M297 630.5h1M299 630.5h3M304 630.5h1M307 630.5h1M311 630.5h2M314 630.5h1M317 630.5h1M321 630.5h1M328 630.5h2M266 631.5h2M269 631.5h2M274 631.5h1M276 631.5h5M282 631.5h1M287 631.5h2M290 631.5h3M295 631.5h1M299 631.5h5M306 631.5h2M309 631.5h3M317 631.5h1M319 631.5h3M323 631.5h5M329 631.5h1M262 632.5h2M268 632.5h1M270 632.5h3M276 632.5h3M281 632.5h2M284 632.5h1M286 632.5h1M292 632.5h1M298 632.5h1M300 632.5h2M303 632.5h1M306 632.5h1M313 632.5h1M315 632.5h1M317 632.5h1M321 632.5h1M326 632.5h1M332 632.5h1M257 633.5h1M259 633.5h1M268 633.5h1M272 633.5h1M281 633.5h2M284 633.5h1M287 633.5h1M290 633.5h2M293 633.5h1M295 633.5h4M300 633.5h4M306 633.5h1M308 633.5h4M317 633.5h2M321 633.5h2M327 633.5h1M332 633.5h1M257 634.5h1M259 634.5h1M269 634.5h2M275 634.5h1M279 634.5h1M281 634.5h2M285 634.5h1M287 634.5h2M290 634.5h1M292 634.5h5M298 634.5h2M301 634.5h2M317 634.5h1M325 634.5h1M329 634.5h2M267 635.5h1M269 635.5h1M271 635.5h1M280 635.5h1M286 635.5h1M288 635.5h2M294 635.5h3M298 635.5h1M303 635.5h1M305 635.5h1M308 635.5h1M314 635.5h1M316 635.5h1M319 635.5h1M323 635.5h1M328 635.5h2M262 636.5h1M264 636.5h2M270 636.5h1M273 636.5h2M277 636.5h1M279 636.5h1M281 636.5h1M286 636.5h1M290 636.5h2M295 636.5h2M301 636.5h1M304 636.5h2M307 636.5h1M310 636.5h2M314 636.5h1M318 636.5h2M325 636.5h1M328 636.5h1M264 637.5h1M268 637.5h1M273 637.5h1M276 637.5h1M278 637.5h1M282 637.5h2M287 637.5h1M290 637.5h2M296 637.5h1M299 637.5h1M302 637.5h1M304 637.5h1M306 637.5h1M309 637.5h1M313 637.5h1M319 637.5h1M327 637.5h1M330 637.5h1M345 637.5h1M257 638.5h1M259 638.5h2M266 638.5h1M274 638.5h7M283 638.5h1M285 638.5h1M287 638.5h1M289 638.5h2M296 638.5h1M312 638.5h2M315 638.5h1M276 639.5h1M279 639.5h2M286 639.5h1M288 639.5h3M292 639.5h2M298 639.5h1M300 639.5h1M302 639.5h1M305 639.5h2M258 640.5h1M261 640.5h2M274 640.5h1M276 640.5h2M281 640.5h1M284 640.5h1M286 640.5h4M292 640.5h1M300 640.5h1M304 640.5h1M314 640.5h1M318 640.5h1M323 640.5h1M326 640.5h1M257 641.5h1M261 641.5h1M265 641.5h1M268 641.5h1M284 641.5h1M286 641.5h2M292 641.5h1M295 641.5h1M299 641.5h1M303 641.5h1M307 641.5h1M310 641.5h1M315 641.5h1M319 641.5h1M322 641.5h1M261 642.5h2M269 642.5h1M275 642.5h1M277 642.5h1M279 642.5h2M283 642.5h2M286 642.5h1M291 642.5h1M293 642.5h1M297 642.5h1M299 642.5h1M302 642.5h2M316 642.5h1M258 643.5h1M260 643.5h2M263 643.5h1M266 643.5h2M271 643.5h3M277 643.5h1M285 643.5h1M287 643.5h1M293 643.5h4M298 643.5h1M300 643.5h2M309 643.5h1M322 643.5h1M264 644.5h1M266 644.5h3M272 644.5h1M274 644.5h1M283 644.5h1M288 644.5h2M299 644.5h1M301 644.5h4M309 644.5h1M261 645.5h1M265 645.5h2M268 645.5h1M271 645.5h1M275 645.5h2M278 645.5h4M287 645.5h1M289 645.5h1M291 645.5h1M293 645.5h1M297 645.5h1M299 645.5h2M268 646.5h2M275 646.5h1M278 646.5h2M282 646.5h1M284 646.5h1M286 646.5h3M291 646.5h1M303 646.5h1M319 646.5h1M259 647.5h2M262 647.5h1M269 647.5h1M273 647.5h2M279 647.5h1M282 647.5h1M291 647.5h1M293 647.5h1M299 647.5h1M304 647.5h1M259 648.5h1M273 648.5h1M275 648.5h2M282 648.5h1M284 648.5h1M294 648.5h1M296 648.5h1M298 648.5h1M300 648.5h3M305 648.5h1M259 649.5h1M262 649.5h1M265 649.5h3M269 649.5h1M276 649.5h2M279 649.5h2M282 649.5h2M285 649.5h1M293 649.5h1M299 649.5h2M258 650.5h1M269 650.5h1M271 650.5h1M276 650.5h1M279 650.5h2M283 650.5h2M288 650.5h1M291 650.5h1M293 650.5h2M297 650.5h1M305 650.5h1M308 650.5h1M257 651.5h1M259 651.5h1M274 651.5h2M278 651.5h1M281 651.5h4M286 651.5h2M291 651.5h2M294 651.5h1M296 651.5h1M300 651.5h3M307 651.5h1M313 651.5h1M316 651.5h1M259 652.5h2M263 652.5h1M270 652.5h1M272 652.5h3M276 652.5h2M282 652.5h1M284 652.5h1M293 652.5h1M296 652.5h2M301 652.5h1M303 652.5h1M306 652.5h1M256 653.5h1M259 653.5h1M274 653.5h3M279 653.5h1M282 653.5h1M286 653.5h1M289 653.5h1M291 653.5h1M295 653.5h3M300 653.5h2M304 653.5h1M308 653.5h1M257 654.5h1M263 654.5h1M267 654.5h1M271 654.5h1M274 654.5h1M276 654.5h1M278 654.5h1M284 654.5h1M292 654.5h2M257 655.5h1M266 655.5h4M272 655.5h2M276 655.5h1M278 655.5h1M280 655.5h3M284 655.5h2M287 655.5h1M289 655.5h2M296 655.5h1M301 655.5h2M309 655.5h1M267 656.5h2M270 656.5h1M273 656.5h2M279 656.5h1M283 656.5h1M285 656.5h2M289 656.5h1M291 656.5h1M294 656.5h3M301 656.5h1M304 656.5h1M259 657.5h2M264 657.5h1M269 657.5h1M274 657.5h2M281 657.5h1M283 657.5h1M285 657.5h1M293 657.5h2M297 657.5h2M301 657.5h1M303 657.5h1M261 658.5h1M265 658.5h1M269 658.5h1M277 658.5h1M279 658.5h1M285 658.5h6M292 658.5h1M295 658.5h2M298 658.5h1M304 658.5h1M265 659.5h1M267 659.5h1M270 659.5h1M274 659.5h2M279 659.5h1M283 659.5h1M286 659.5h1M291 659.5h1M295 659.5h2M304 659.5h1M306 659.5h1M317 659.5h1M385 659.5h1M257 660.5h2M265 660.5h1M268 660.5h1M270 660.5h2M273 660.5h1M280 660.5h3M284 660.5h1M287 660.5h2M290 660.5h1M293 660.5h1M301 660.5h1M306 660.5h1M259 661.5h1M263 661.5h1M268 661.5h1M270 661.5h1M278 661.5h3M282 661.5h1M286 661.5h2M289 661.5h2M293 661.5h2M296 661.5h1M261 662.5h1M267 662.5h1M270 662.5h3M274 662.5h1M276 662.5h1M280 662.5h2M294 662.5h1M298 662.5h2M304 662.5h1M257 663.5h1M261 663.5h1M270 663.5h2M274 663.5h2M278 663.5h2M281 663.5h3M286 663.5h1M290 663.5h2M293 663.5h1M295 663.5h1M299 663.5h1M302 663.5h1M307 663.5h2M310 663.5h1M318 663.5h1M260 664.5h2M263 664.5h1M267 664.5h1M269 664.5h1M271 664.5h1M275 664.5h1M279 664.5h2M286 664.5h1M289 664.5h1M291 664.5h2M296 664.5h1M298 664.5h2M306 664.5h1M311 664.5h1M264 665.5h1M268 665.5h1M272 665.5h1M284 665.5h1M286 665.5h1M288 665.5h1M290 665.5h1M296 665.5h1M299 665.5h3M303 665.5h1M313 665.5h1M324 665.5h1M258 666.5h2M267 666.5h1M271 666.5h1M274 666.5h2M279 666.5h1M282 666.5h1M289 666.5h1M292 666.5h1M294 666.5h1M300 666.5h2M306 666.5h1M309 666.5h1M315 666.5h1M263 667.5h1M266 667.5h2M269 667.5h2M275 667.5h1M279 667.5h4M285 667.5h2M292 667.5h1M295 667.5h1M311 667.5h1M263 668.5h1M265 668.5h1M268 668.5h1M270 668.5h2M273 668.5h1M278 668.5h1M281 668.5h1M284 668.5h1M288 668.5h1M290 668.5h3M297 668.5h3M301 668.5h1M303 668.5h2M310 668.5h1M321 668.5h1M257 669.5h2M262 669.5h1M268 669.5h1M273 669.5h5M281 669.5h1M283 669.5h1M292 669.5h1M294 669.5h1M298 669.5h5M305 669.5h2M308 669.5h1M318 669.5h1M321 669.5h1M258 670.5h1M262 670.5h1M270 670.5h2M278 670.5h2M283 670.5h1M288 670.5h1M293 670.5h2M296 670.5h1M298 670.5h1M301 670.5h1M303 670.5h1M306 670.5h1M313 670.5h1M258 671.5h1M266 671.5h1M270 671.5h1M272 671.5h3M277 671.5h2M281 671.5h1M295 671.5h1M297 671.5h1M299 671.5h1M301 671.5h2M305 671.5h1M310 671.5h2M313 671.5h1M316 671.5h1M267 672.5h1M271 672.5h1M273 672.5h1M277 672.5h2M286 672.5h2M297 672.5h2M300 672.5h1M304 672.5h2M311 672.5h3M257 673.5h1M264 673.5h3M268 673.5h2M271 673.5h1M285 673.5h2M290 673.5h1M294 673.5h1M298 673.5h4M306 673.5h2M312 673.5h1M257 674.5h2M263 674.5h1M265 674.5h1M268 674.5h1M270 674.5h2M280 674.5h1M282 674.5h1M287 674.5h1M295 674.5h1M298 674.5h1M303 674.5h2M313 674.5h1M261 675.5h1M267 675.5h1M271 675.5h1M276 675.5h1M282 675.5h1M297 675.5h1M299 675.5h2M302 675.5h1M305 675.5h3M309 675.5h1M318 675.5h1M257 676.5h2M260 676.5h1M262 676.5h2M267 676.5h1M284 676.5h1M296 676.5h1M298 676.5h1M302 676.5h1M304 676.5h2M312 676.5h1M315 676.5h1M317 676.5h1M323 676.5h1M258 677.5h7M272 677.5h2M278 677.5h1M295 677.5h1M298 677.5h1M300 677.5h1M302 677.5h3M306 677.5h1M313 677.5h1M257 678.5h1M259 678.5h1M261 678.5h1M265 678.5h1M268 678.5h2M289 678.5h1M298 678.5h1M301 678.5h1M304 678.5h4M315 678.5h1M258 679.5h1M261 679.5h1M267 679.5h1M281 679.5h2M291 679.5h1M297 679.5h1M302 679.5h1M307 679.5h1M309 679.5h2M391 679.5h1M259 680.5h2M263 680.5h2M269 680.5h1M272 680.5h1M279 680.5h1M281 680.5h1M286 680.5h1M299 680.5h1M301 680.5h1M307 680.5h1M309 680.5h1M312 680.5h1M322 680.5h1M328 680.5h1M336 680.5h1M258 681.5h2M268 681.5h2M303 681.5h3M310 681.5h1M316 681.5h1M259 682.5h1M265 682.5h3M269 682.5h1M271 682.5h2M275 682.5h1M300 682.5h1M305 682.5h1M308 682.5h1M313 682.5h1M315 682.5h2M318 682.5h1M258 683.5h1M261 683.5h1M265 683.5h2M290 683.5h1M295 683.5h1M298 683.5h1M302 683.5h2M305 683.5h1M309 683.5h1M315 683.5h1M321 683.5h1M324 683.5h1M257 684.5h2M265 684.5h1M275 684.5h1M303 684.5h2M306 684.5h1M311 684.5h1M314 684.5h1M258 685.5h1M260 685.5h1M262 685.5h1M269 685.5h2M274 685.5h1M304 685.5h1M309 685.5h1M312 685.5h1M258 686.5h2M261 686.5h1M264 686.5h4M270 686.5h2M274 686.5h1M258 687.5h1M266 687.5h1M303 687.5h1M307 687.5h3M313 687.5h1M318 687.5h1M320 687.5h1M257 688.5h1M259 688.5h2M262 688.5h1M268 688.5h2M276 688.5h1M310 688.5h3M314 688.5h1M261 689.5h1M306 689.5h1M308 689.5h3M314 689.5h3M257 690.5h1M262 690.5h1M266 690.5h1M268 690.5h1M302 690.5h2M310 690.5h1M313 690.5h1M315 690.5h1M259 691.5h1M299 691.5h1M305 691.5h1M310 691.5h1M312 691.5h1M307 692.5h1M309 692.5h1M311 692.5h1M316 692.5h1M318 692.5h1M269 693.5h1M308 693.5h1M324 693.5h1M309 694.5h1M311 694.5h4M317 694.5h1M319 694.5h1M270 695.5h1M306 695.5h1M311 695.5h1M257 696.5h1M307 696.5h1M310 696.5h1M318 696.5h1M274 697.5h1M283 697.5h1M300 697.5h1M307 697.5h2M310 697.5h1M312 697.5h2M317 697.5h1M322 697.5h1M308 698.5h1M314 698.5h1M316 698.5h1M321 698.5h1M306 699.5h2M310 699.5h4M319 699.5h1M327 699.5h1M307 700.5h1M314 700.5h1M316 700.5h1M307 701.5h1M309 701.5h1M311 701.5h1M315 701.5h1M318 701.5h1M320 701.5h2M310 702.5h1M313 702.5h3M318 702.5h1M322 702.5h1M366 702.5h1M305 703.5h2M309 703.5h1M312 703.5h1M314 703.5h2M321 703.5h1M314 704.5h2M318 704.5h1M320 704.5h1M322 704.5h1M325 704.5h1M307 705.5h1M311 705.5h1M314 705.5h1M316 705.5h2M321 705.5h1M282 706.5h1M303 706.5h1M305 706.5h3M310 706.5h1M312 706.5h1M314 706.5h3M318 706.5h1M321 706.5h1M324 706.5h1M270 707.5h1M305 707.5h1M310 707.5h1M312 707.5h1M316 707.5h1M319 707.5h1M326 707.5h1M297 708.5h1M304 708.5h1M308 708.5h1M311 708.5h1M314 708.5h2M317 708.5h2M321 708.5h1M306 709.5h1M311 709.5h1M320 709.5h1" stroke="#606060" stroke-width="1" fill="none" shape-rendering="crispEdges"/>
<path d="M260 599.5h1M268 601.5h1M258 602.5h1M268 602.5h2M272 602.5h1M279 602.5h1M281 602.5h1M284 602.5h1M259 603.5h2M262 603.5h1M276 603.5h1M278 603.5h1M280 603.5h1M286 603.5h1M293 603.5h1M297 603.5h1M301 603.5h1M265 604.5h1M269 604.5h1M272 604.5h1M281 604.5h1M283 604.5h3M288 604.5h2M296 604.5h1M257 605.5h1M260 605.5h1M267 605.5h1M269 605.5h2M283 605.5h1M295 605.5h3M299 605.5h1M259 606.5h3M263 606.5h1M268 606.5h1M270 606.5h2M273 606.5h1M276 606.5h1M293 606.5h1M299 606.5h1M260 607.5h2M268 607.5h1M273 607.5h1M296 607.5h1M303 607.5h1M260 608.5h1M262 608.5h1M280 608.5h1M261 609.5h1M264 609.5h1M269 609.5h1M272 609.5h1M300 609.5h2M258 610.5h1M268 610.5h1M275 610.5h1M301 610.5h1M257 611.5h1M271 611.5h2M301 611.5h1M257 612.5h1M263 612.5h1M265 612.5h1M303 612.5h1M262 613.5h1M266 613.5h1M298 613.5h1M257 614.5h1M264 614.5h1M269 614.5h1M297 614.5h1M275 615.5h1M298 615.5h2M301 615.5h1M307 615.5h1M311 615.5h1M257 616.5h3M305 616.5h1M296 617.5h1M299 617.5h1M301 617.5h1M300 618.5h1M303 618.5h1M305 618.5h1M258 619.5h2M274 619.5h1M308 619.5h1M261 620.5h1M298 620.5h1M301 620.5h1M305 620.5h1M307 620.5h2M330 620.5h1M333 620.5h1M258 621.5h2M262 621.5h1M267 621.5h1M298 621.5h1M302 621.5h1M324 621.5h1M330 621.5h1M260 622.5h1M278 622.5h1M297 622.5h1M305 622.5h1M307 622.5h1M322 622.5h1M259 623.5h1M262 623.5h1M266 623.5h1M269 623.5h1M271 623.5h2M286 623.5h1M300 623.5h1M327 623.5h1M259 624.5h1M266 624.5h1M276 624.5h1M298 624.5h2M301 624.5h1M319 624.5h1M327 624.5h2M262 625.5h1M265 625.5h2M269 625.5h1M272 625.5h1M281 625.5h1M283 625.5h1M295 625.5h1M298 625.5h1M302 625.5h1M309 625.5h1M320 625.5h1M333 625.5h1M257 626.5h2M260 626.5h1M267 626.5h2M273 626.5h2M276 626.5h1M283 626.5h1M287 626.5h1M289 626.5h1M294 626.5h1M297 626.5h1M301 626.5h2M317 626.5h1M319 626.5h1M329 626.5h1M263 627.5h1M265 627.5h1M267 627.5h1M269 627.5h1M275 627.5h2M278 627.5h1M281 627.5h1M285 627.5h1M293 627.5h3M297 627.5h1M299 627.5h1M318 627.5h1M324 627.5h1M262 628.5h1M267 628.5h1M271 628.5h1M278 628.5h2M281 628.5h2M287 628.5h1M294 628.5h1M298 628.5h1M316 628.5h1M318 628.5h1M320 628.5h1M265 629.5h1M268 629.5h1M276 629.5h1M278 629.5h1M285 629.5h1M290 629.5h1M292 629.5h2M298 629.5h1M319 629.5h4M326 629.5h1M276 630.5h1M284 630.5h1M291 630.5h1M295 630.5h1M303 630.5h1M309 630.5h1M318 630.5h1M327 630.5h1M273 631.5h1M283 631.5h4M289 631.5h1M294 631.5h1M312 631.5h1M261 632.5h1M279 632.5h1M291 632.5h1M314 632.5h1M328 632.5h1M277 633.5h1M286 633.5h1M292 633.5h1M299 633.5h1M314 633.5h1M316 633.5h1M272 634.5h1M286 634.5h1M319 634.5h2M275 635.5h1M285 635.5h1M292 635.5h1M297 635.5h1M310 635.5h1M267 636.5h1M278 636.5h1M282 636.5h1M293 636.5h2M320 636.5h1M263 637.5h1M272 637.5h1M275 637.5h1M281 637.5h1M285 637.5h2M292 637.5h2M300 637.5h1M286 638.5h1M288 638.5h1M306 638.5h1M311 638.5h1M265 639.5h1M270 639.5h1M273 639.5h1M277 639.5h1M283 639.5h1M287 639.5h1M294 639.5h1M297 639.5h1M299 639.5h1M304 639.5h1M310 639.5h1M270 640.5h1M273 640.5h1M280 640.5h1M282 640.5h2M291 640.5h1M294 640.5h2M298 640.5h1M274 641.5h1M280 641.5h2M290 641.5h2M293 641.5h1M296 641.5h1M300 641.5h1M302 641.5h1M287 642.5h1M292 642.5h1M295 642.5h1M276 643.5h1M281 643.5h1M286 643.5h1M292 643.5h1M297 643.5h1M303 643.5h1M271 644.5h1M275 644.5h2M286 644.5h1M293 644.5h1M295 644.5h1M305 644.5h1M312 644.5h1M314 644.5h1M272 645.5h1M277 645.5h1M283 645.5h1M290 645.5h1M294 645.5h1M276 646.5h1M281 646.5h1M283 646.5h1M285 646.5h1M289 646.5h2M292 646.5h1M294 646.5h2M298 646.5h1M300 646.5h1M266 647.5h1M270 647.5h1M283 647.5h1M290 647.5h1M294 647.5h1M296 647.5h1M306 647.5h1M260 648.5h1M266 648.5h1M279 648.5h1M287 648.5h1M303 648.5h1M272 649.5h1M288 649.5h1M291 649.5h2M295 649.5h1M297 649.5h2M303 649.5h1M285 650.5h1M289 650.5h2M295 650.5h1M300 650.5h1M272 651.5h1M277 651.5h1M289 651.5h1M257 652.5h1M265 652.5h1M281 652.5h1M283 652.5h1M289 652.5h4M294 652.5h1M267 653.5h1M277 653.5h1M280 653.5h1M287 653.5h2M290 653.5h1M293 653.5h1M268 654.5h1M275 654.5h1M280 654.5h3M289 654.5h3M294 654.5h2M298 654.5h1M270 655.5h1M274 655.5h1M288 655.5h1M293 655.5h1M297 655.5h1M260 656.5h1M287 656.5h1M292 656.5h2M302 656.5h1M289 657.5h3M267 658.5h1M276 658.5h1M282 658.5h2M257 659.5h1M277 659.5h2M280 659.5h1M287 659.5h1M289 659.5h1M293 659.5h1M303 659.5h1M277 660.5h2M289 660.5h1M292 660.5h1M294 660.5h2M300 660.5h1M269 661.5h1M273 661.5h1M288 661.5h1M292 661.5h1M278 662.5h1M282 662.5h2M288 662.5h1M290 662.5h2M293 662.5h1M300 662.5h1M276 663.5h2M280 663.5h1M296 663.5h2M273 664.5h1M277 664.5h1M283 664.5h1M285 664.5h1M288 664.5h1M294 664.5h1M301 664.5h1M257 665.5h2M260 665.5h1M267 665.5h1M270 665.5h1M274 665.5h1M276 665.5h1M292 665.5h1M295 665.5h1M298 665.5h1M304 665.5h1M264 666.5h1M276 666.5h1M281 666.5h1M284 666.5h1M288 666.5h1M291 666.5h1M293 666.5h1M295 666.5h3M299 666.5h1M274 667.5h1M284 667.5h1M287 667.5h1M289 667.5h1M291 667.5h1M294 667.5h1M299 667.5h1M312 667.5h1M259 668.5h1M267 668.5h1M274 668.5h1M279 668.5h1M283 668.5h1M286 668.5h2M289 668.5h1M294 668.5h2M309 668.5h1M260 669.5h1M263 669.5h1M266 669.5h1M280 669.5h1M282 669.5h1M284 669.5h1M289 669.5h1M268 670.5h1M272 670.5h1M275 670.5h2M280 670.5h1M284 670.5h2M289 670.5h2M297 670.5h1M259 671.5h1M263 671.5h2M268 671.5h2M275 671.5h2M279 671.5h1M284 671.5h1M288 671.5h1M291 671.5h1M293 671.5h2M298 671.5h1M264 672.5h1M266 672.5h1M270 672.5h1M272 672.5h1M275 672.5h2M281 672.5h1M284 672.5h1M288 672.5h1M296 672.5h1M301 672.5h1M267 673.5h1M270 673.5h1M272 673.5h1M274 673.5h1M281 673.5h2M302 673.5h3M259 674.5h1M273 674.5h1M276 674.5h1M286 674.5h1M289 674.5h2M293 674.5h2M296 674.5h1M302 674.5h1M305 674.5h1M258 675.5h1M262 675.5h4M272 675.5h1M274 675.5h2M279 675.5h1M281 675.5h1M291 675.5h1M295 675.5h1M310 675.5h2M313 675.5h1M264 676.5h1M266 676.5h1M268 676.5h1M270 676.5h2M274 676.5h1M278 676.5h1M281 676.5h1M292 676.5h1M297 676.5h1M301 676.5h1M303 676.5h1M307 676.5h1M266 677.5h2M269 677.5h1M283 677.5h1M289 677.5h2M294 677.5h1M297 677.5h1M305 677.5h1M260 678.5h1M266 678.5h2M272 678.5h1M284 678.5h2M288 678.5h1M294 678.5h1M303 678.5h1M309 678.5h1M257 679.5h1M262 679.5h3M269 679.5h1M272 679.5h1M275 679.5h1M289 679.5h2M292 679.5h1M301 679.5h1M303 679.5h1M266 680.5h2M273 680.5h1M276 680.5h1M294 680.5h1M297 680.5h2M310 680.5h1M262 681.5h1M265 681.5h1M272 681.5h1M274 681.5h2M277 681.5h1M282 681.5h1M290 681.5h1M294 681.5h1M300 681.5h2M282 682.5h1M307 682.5h1M311 682.5h1M314 682.5h1M263 683.5h2M267 683.5h1M270 683.5h1M276 683.5h1M285 683.5h1M288 683.5h1M294 683.5h1M299 683.5h1M261 684.5h1M263 684.5h1M270 684.5h1M274 684.5h1M301 684.5h1M305 684.5h1M257 685.5h1M263 685.5h1M265 685.5h1M267 685.5h1M271 685.5h2M280 685.5h1M303 685.5h1M307 685.5h1M310 685.5h1M263 686.5h1M268 686.5h2M272 686.5h1M275 686.5h1M297 686.5h1M308 686.5h1M259 687.5h2M262 687.5h1M268 687.5h3M295 687.5h1M301 687.5h1M264 688.5h1M267 688.5h1M272 688.5h2M304 688.5h2M308 688.5h1M257 689.5h1M268 689.5h1M270 689.5h1M272 689.5h1M303 689.5h1M305 689.5h1M312 689.5h1M260 690.5h1M265 690.5h1M273 690.5h1M300 690.5h1M304 690.5h3M308 690.5h1M264 691.5h1M266 691.5h1M271 691.5h1M304 691.5h1M303 692.5h4M308 692.5h1M271 694.5h1M304 694.5h1M307 694.5h1M263 695.5h1M304 695.5h2M307 695.5h1M300 696.5h1M302 696.5h1M305 696.5h2M308 696.5h2M276 697.5h1M285 697.5h1M304 697.5h1M304 698.5h2M316 699.5h1M311 700.5h1M292 701.5h1M302 701.5h1M306 701.5h1M308 701.5h1M317 701.5h1M305 702.5h1M307 702.5h2M311 702.5h1M307 703.5h2M313 703.5h1M317 703.5h1M288 704.5h1M301 704.5h1M308 704.5h3M313 704.5h1M316 704.5h1M302 705.5h2M306 705.5h1M313 705.5h1M315 705.5h1M259 706.5h1M301 706.5h1M309 706.5h1M306 707.5h1M311 707.5h1M313 707.5h1M318 707.5h1M299 708.5h1M301 708.5h1M305 708.5h1M312 708.5h1M308 709.5h2M317 709.5h1" stroke="#2a2a2a" stroke-width="1" fill="none" shape-rendering="crispEdges"/>
<path d="M292 601.5h1M256 602.5h1M277 602.5h1M288 602.5h1M256 603.5h1M266 603.5h1M283 603.5h1M289 603.5h1M294 603.5h2M260 604.5h1M263 604.5h1M268 604.5h1M270 604.5h1M274 604.5h1M280 604.5h1M287 604.5h1M290 604.5h1M297 604.5h1M256 605.5h1M261 605.5h3M266 605.5h1M268 605.5h1M271 605.5h1M274 605.5h4M280 605.5h3M285 605.5h2M288 605.5h4M294 605.5h1M256 606.5h1M258 606.5h1M262 606.5h1M264 606.5h1M267 606.5h1M269 606.5h1M275 606.5h1M277 606.5h1M279 606.5h14M294 606.5h1M297 606.5h1M256 607.5h1M258 607.5h2M262 607.5h4M267 607.5h1M269 607.5h3M274 607.5h22M298 607.5h1M256 608.5h1M258 608.5h2M263 608.5h17M281 608.5h17M300 608.5h1M256 609.5h5M262 609.5h2M265 609.5h4M271 609.5h1M274 609.5h24M299 609.5h1M256 610.5h2M260 610.5h1M262 610.5h5M269 610.5h6M276 610.5h21M299 610.5h1M302 610.5h1M304 610.5h1M256 611.5h1M258 611.5h13M273 611.5h23M297 611.5h4M302 611.5h1M256 612.5h1M258 612.5h5M264 612.5h1M266 612.5h33M256 613.5h6M264 613.5h2M267 613.5h31M299 613.5h1M301 613.5h1M303 613.5h1M256 614.5h1M258 614.5h6M265 614.5h4M270 614.5h27M298 614.5h2M256 615.5h1M258 615.5h4M263 615.5h9M273 615.5h2M276 615.5h22M300 615.5h1M303 615.5h1M256 616.5h1M260 616.5h9M270 616.5h33M256 617.5h15M272 617.5h20M293 617.5h3M297 617.5h2M300 617.5h1M303 617.5h1M256 618.5h44M302 618.5h1M256 619.5h2M260 619.5h14M275 619.5h24M301 619.5h1M326 619.5h1M256 620.5h5M262 620.5h36M299 620.5h2M302 620.5h1M256 621.5h2M260 621.5h2M263 621.5h4M268 621.5h4M273 621.5h25M300 621.5h1M256 622.5h4M261 622.5h17M279 622.5h18M298 622.5h2M256 623.5h2M261 623.5h1M263 623.5h3M267 623.5h1M270 623.5h1M273 623.5h2M276 623.5h10M287 623.5h11M299 623.5h1M333 623.5h1M256 624.5h3M260 624.5h6M267 624.5h7M275 624.5h1M277 624.5h13M291 624.5h6M323 624.5h1M256 625.5h1M259 625.5h3M263 625.5h2M268 625.5h1M271 625.5h1M273 625.5h8M282 625.5h1M284 625.5h11M296 625.5h1M319 625.5h1M322 625.5h1M327 625.5h1M256 626.5h1M259 626.5h1M261 626.5h4M266 626.5h1M270 626.5h1M272 626.5h1M275 626.5h1M277 626.5h6M284 626.5h1M286 626.5h1M288 626.5h1M290 626.5h1M292 626.5h2M296 626.5h1M256 627.5h1M262 627.5h1M266 627.5h1M270 627.5h2M274 627.5h1M277 627.5h1M279 627.5h2M282 627.5h1M284 627.5h1M287 627.5h2M292 627.5h1M298 627.5h1M256 628.5h1M269 628.5h1M275 628.5h1M280 628.5h1M286 628.5h1M288 628.5h3M300 628.5h1M321 628.5h1M256 629.5h1M272 629.5h1M277 629.5h1M279 629.5h1M284 629.5h1M286 629.5h1M288 629.5h1M294 629.5h1M296 629.5h1M316 629.5h1M256 630.5h1M282 630.5h2M286 630.5h1M290 630.5h1M292 630.5h1M320 630.5h1M256 631.5h1M293 631.5h1M256 632.5h1M265 632.5h1M269 632.5h1M283 632.5h1M287 632.5h1M290 632.5h1M296 632.5h1M256 633.5h1M278 633.5h1M280 633.5h1M288 633.5h2M294 633.5h1M256 634.5h1M280 634.5h1M256 635.5h1M272 635.5h1M287 635.5h1M290 635.5h1M299 635.5h2M256 636.5h1M289 636.5h1M297 636.5h1M256 637.5h1M289 637.5h1M294 637.5h1M256 638.5h1M281 638.5h1M292 638.5h1M256 639.5h1M282 639.5h1M284 639.5h1M291 639.5h1M296 639.5h1M314 639.5h1M256 640.5h1M285 640.5h1M290 640.5h1M293 640.5h1M256 641.5h1M283 641.5h1M285 641.5h1M289 641.5h1M256 642.5h1M281 642.5h1M294 642.5h1M256 643.5h1M280 643.5h1M283 643.5h2M290 643.5h1M302 643.5h1M256 644.5h1M279 644.5h1M281 644.5h1M284 644.5h2M287 644.5h1M290 644.5h3M294 644.5h1M296 644.5h1M256 645.5h1M285 645.5h2M295 645.5h2M256 646.5h1M293 646.5h1M296 646.5h1M299 646.5h1M256 647.5h1M286 647.5h1M289 647.5h1M292 647.5h1M256 648.5h1M281 648.5h1M286 648.5h1M288 648.5h2M293 648.5h1M297 648.5h1M256 649.5h1M286 649.5h2M289 649.5h1M256 650.5h1M256 651.5h1M285 651.5h1M256 652.5h1M285 652.5h1M287 652.5h2M295 652.5h1M285 653.5h1M256 654.5h1M279 654.5h1M288 654.5h1M297 654.5h1M256 655.5h1M286 655.5h1M256 656.5h1M256 657.5h1M284 657.5h1M286 657.5h1M288 657.5h1M292 657.5h1M295 657.5h1M300 657.5h1M256 658.5h1M256 659.5h1M259 659.5h1M282 659.5h1M285 659.5h1M288 659.5h1M292 659.5h1M256 660.5h1M286 660.5h1M256 661.5h1M284 661.5h1M256 662.5h1M279 662.5h1M284 662.5h1M287 662.5h1M256 663.5h1M288 663.5h1M304 663.5h1M256 664.5h1M281 664.5h2M256 665.5h1M277 665.5h1M281 665.5h1M285 665.5h1M291 665.5h1M293 665.5h1M256 666.5h1M273 666.5h1M256 667.5h1M283 667.5h1M288 667.5h1M290 667.5h1M293 667.5h1M296 667.5h1M298 667.5h1M301 667.5h1M256 668.5h1M272 668.5h1M285 668.5h1M293 668.5h1M256 669.5h1M259 669.5h1M271 669.5h2M278 669.5h2M286 669.5h1M288 669.5h1M290 669.5h2M296 669.5h2M256 670.5h1M267 670.5h1M273 670.5h1M281 670.5h2M286 670.5h2M291 670.5h2M295 670.5h1M299 670.5h1M256 671.5h1M265 671.5h1M280 671.5h1M283 671.5h1M285 671.5h3M289 671.5h2M292 671.5h1M296 671.5h1M256 672.5h1M261 672.5h1M280 672.5h1M282 672.5h1M285 672.5h1M289 672.5h3M293 672.5h3M299 672.5h1M256 673.5h1M263 673.5h1M273 673.5h1M275 673.5h2M278 673.5h3M284 673.5h1M287 673.5h3M291 673.5h3M295 673.5h3M256 674.5h1M262 674.5h1M266 674.5h1M269 674.5h1M272 674.5h1M274 674.5h2M277 674.5h3M281 674.5h1M283 674.5h3M288 674.5h1M291 674.5h2M297 674.5h1M299 674.5h2M256 675.5h1M268 675.5h2M273 675.5h1M277 675.5h2M280 675.5h1M283 675.5h8M292 675.5h3M296 675.5h1M298 675.5h1M301 675.5h1M256 676.5h1M261 676.5h1M269 676.5h1M272 676.5h2M275 676.5h3M279 676.5h2M282 676.5h2M285 676.5h5M291 676.5h1M294 676.5h2M299 676.5h1M256 677.5h1M268 677.5h1M270 677.5h2M274 677.5h4M279 677.5h4M284 677.5h5M291 677.5h3M296 677.5h1M299 677.5h1M301 677.5h1M308 677.5h1M256 678.5h1M258 678.5h1M270 678.5h2M274 678.5h3M278 678.5h5M286 678.5h2M291 678.5h3M295 678.5h3M299 678.5h2M302 678.5h1M256 679.5h1M266 679.5h1M268 679.5h1M270 679.5h1M273 679.5h1M276 679.5h5M283 679.5h6M293 679.5h4M298 679.5h3M306 679.5h1M256 680.5h1M262 680.5h1M270 680.5h2M275 680.5h1M277 680.5h2M280 680.5h1M282 680.5h4M287 680.5h7M295 680.5h2M302 680.5h3M256 681.5h1M261 681.5h1M267 681.5h1M270 681.5h2M273 681.5h1M276 681.5h1M278 681.5h4M283 681.5h7M291 681.5h3M295 681.5h5M302 681.5h1M309 681.5h1M256 682.5h1M263 682.5h2M268 682.5h1M270 682.5h1M273 682.5h2M276 682.5h6M283 682.5h17M301 682.5h4M306 682.5h1M256 683.5h1M268 683.5h1M273 683.5h3M277 683.5h8M286 683.5h2M289 683.5h1M291 683.5h3M296 683.5h2M304 683.5h1M312 683.5h1M256 684.5h1M266 684.5h4M271 684.5h3M276 684.5h9M286 684.5h15M302 684.5h1M307 684.5h1M256 685.5h1M264 685.5h1M266 685.5h1M268 685.5h1M275 685.5h5M281 685.5h1M283 685.5h20M306 685.5h1M256 686.5h2M260 686.5h1M273 686.5h1M276 686.5h21M298 686.5h3M302 686.5h3M256 687.5h1M263 687.5h1M265 687.5h1M271 687.5h24M296 687.5h5M302 687.5h1M304 687.5h2M311 687.5h1M256 688.5h1M263 688.5h1M266 688.5h1M270 688.5h1M274 688.5h2M277 688.5h27M306 688.5h1M256 689.5h1M258 689.5h2M262 689.5h6M269 689.5h1M271 689.5h1M273 689.5h30M304 689.5h1M256 690.5h1M258 690.5h1M261 690.5h1M263 690.5h2M269 690.5h4M274 690.5h26M301 690.5h1M256 691.5h3M260 691.5h4M265 691.5h1M267 691.5h4M272 691.5h27M300 691.5h4M256 692.5h47M256 693.5h13M270 693.5h38M311 693.5h1M256 694.5h15M272 694.5h32M305 694.5h2M256 695.5h7M264 695.5h6M271 695.5h33M256 696.5h1M258 696.5h42M301 696.5h1M303 696.5h2M256 697.5h18M275 697.5h1M277 697.5h6M284 697.5h1M286 697.5h14M301 697.5h3M305 697.5h2M309 697.5h1M256 698.5h48M256 699.5h50M256 700.5h49M306 700.5h1M310 700.5h1M256 701.5h36M293 701.5h9M303 701.5h3M310 701.5h1M256 702.5h49M306 702.5h1M256 703.5h49M256 704.5h32M289 704.5h12M302 704.5h3M311 704.5h1M256 705.5h46M304 705.5h2M256 706.5h3M260 706.5h22M283 706.5h18M302 706.5h1M304 706.5h1M308 706.5h1M256 707.5h14M271 707.5h34M308 707.5h2M256 708.5h41M298 708.5h1M300 708.5h1M302 708.5h2M256 709.5h50M307 709.5h1M310 709.5h1M312 709.5h4" stroke="#000" stroke-width="1" fill="none" shape-rendering="crispEdges"/>
</g>
<ellipse cx="321.85" cy="626.55" rx="24.5" ry="13.3" transform="rotate(-39.5 321.85 626.55)" fill="none" stroke="#333" stroke-width="1.1"/>
<rect x="255.2" y="558.7" width="151.3" height="151.3" fill="none" stroke="#000" stroke-width="1.8"/>
<path d="M253.2 698.6h2M266.6 710.0v2M253.2 692.0h2M273.2 710.0v2M253.2 687.3h2M277.9 710.0v2M253.2 683.6h2M281.6 710.0v2M253.2 680.6h2M284.6 710.0v2M253.2 678.1h2M287.1 710.0v2M253.2 675.9h2M289.3 710.0v2M253.2 674.0h2M291.2 710.0v2M253.2 660.9h2M304.3 710.0v2M253.2 654.2h2M311.0 710.0v2M253.2 649.5h2M315.7 710.0v2M253.2 645.9h2M319.3 710.0v2M253.2 642.9h2M322.3 710.0v2M253.2 640.3h2M324.9 710.0v2M253.2 638.2h2M327.0 710.0v2M253.2 636.2h2M329.0 710.0v2M253.2 623.1h2M342.1 710.0v2M253.2 616.5h2M348.7 710.0v2M253.2 611.8h2M353.4 710.0v2M253.2 608.1h2M357.1 710.0v2M253.2 605.1h2M360.1 710.0v2M253.2 602.6h2M362.6 710.0v2M253.2 600.4h2M364.8 710.0v2M253.2 598.5h2M366.7 710.0v2M253.2 585.4h2M379.8 710.0v2M253.2 578.7h2M386.5 710.0v2M253.2 574.0h2M391.2 710.0v2M253.2 570.4h2M394.8 710.0v2M253.2 567.4h2M397.8 710.0v2M253.2 564.8h2M400.4 710.0v2M253.2 562.7h2M402.5 710.0v2M253.2 560.7h2M404.5 710.0v2" stroke="#aaa" stroke-width="0.7" fill="none"/>
<text x="249.2" y="714.9" font-size="8" fill="#333" text-anchor="end">10<tspan dy="-4.6" font-size="6.8">0</tspan></text>
<line x1="251.70" y1="710.00" x2="255.20" y2="710.00" stroke="#777" stroke-width="0.8"/>
<text x="255.8" y="727.6" font-size="8" fill="#333" text-anchor="middle">10<tspan dy="-4.6" font-size="6.8">0</tspan></text>
<line x1="255.20" y1="710.00" x2="255.20" y2="713.50" stroke="#777" stroke-width="0.8"/>
<text x="249.2" y="677.1" font-size="8" fill="#333" text-anchor="end">10<tspan dy="-4.6" font-size="6.8">1</tspan></text>
<line x1="251.70" y1="672.25" x2="255.20" y2="672.25" stroke="#777" stroke-width="0.8"/>
<text x="293.6" y="727.6" font-size="8" fill="#333" text-anchor="middle">10<tspan dy="-4.6" font-size="6.8">1</tspan></text>
<line x1="292.95" y1="710.00" x2="292.95" y2="713.50" stroke="#777" stroke-width="0.8"/>
<text x="249.2" y="639.4" font-size="8" fill="#333" text-anchor="end">10<tspan dy="-4.6" font-size="6.8">2</tspan></text>
<line x1="251.70" y1="634.50" x2="255.20" y2="634.50" stroke="#777" stroke-width="0.8"/>
<text x="331.3" y="727.6" font-size="8" fill="#333" text-anchor="middle">10<tspan dy="-4.6" font-size="6.8">2</tspan></text>
<line x1="330.70" y1="710.00" x2="330.70" y2="713.50" stroke="#777" stroke-width="0.8"/>
<text x="249.2" y="601.6" font-size="8" fill="#333" text-anchor="end">10<tspan dy="-4.6" font-size="6.8">3</tspan></text>
<line x1="251.70" y1="596.75" x2="255.20" y2="596.75" stroke="#777" stroke-width="0.8"/>
<text x="369.1" y="727.6" font-size="8" fill="#333" text-anchor="middle">10<tspan dy="-4.6" font-size="6.8">3</tspan></text>
<line x1="368.45" y1="710.00" x2="368.45" y2="713.50" stroke="#777" stroke-width="0.8"/>
<text x="198" y="384.8" font-size="18.5" font-weight="bold" text-anchor="end">4%</text>
<text x="400" y="385.2" font-size="18.5" font-weight="bold" text-anchor="end">17%</text>
<text x="201" y="582.3" font-size="18.5" font-weight="bold" text-anchor="end">0.2%</text>
<text x="398.4" y="582.6" font-size="18.5" font-weight="bold" text-anchor="end">3%</text>
<text x="428.3" y="445.4" font-size="18.5" font-weight="bold" textLength="48.9" lengthAdjust="spacingAndGlyphs">day 6</text>
<text x="428.3" y="641.3" font-size="18.5" font-weight="bold" textLength="58.6" lengthAdjust="spacingAndGlyphs">day 10</text>
<line x1="16.00" y1="372.00" x2="16.00" y2="657.00" stroke="#000" stroke-width="2.2"/>
<polygon points="16,363.8 20.9,373.6 11.1,373.6"/>
<text transform="translate(20.6,690.4) rotate(-90)" font-size="19" font-weight="bold" text-anchor="middle">CD8</text>
<text x="55" y="757.4" font-size="17" font-weight="bold" textLength="41" lengthAdjust="spacingAndGlyphs">H-2K</text>
<text x="97.5" y="752" font-size="12.5" font-weight="bold">b</text>
<text x="106.6" y="757.4" font-size="17" font-weight="bold" textLength="46" lengthAdjust="spacingAndGlyphs">/OVA</text>
<text x="152.5" y="762.6" font-size="12.3" font-weight="bold" textLength="46.5" lengthAdjust="spacingAndGlyphs">257-264</text>
<text x="205.8" y="757.4" font-size="17" font-weight="bold" textLength="74.5" lengthAdjust="spacingAndGlyphs">tetramer</text>
<line x1="292.50" y1="750.50" x2="399.00" y2="750.50" stroke="#000" stroke-width="2.2"/>
<polygon points="407.5,750.5 397,745.6 397,755.4"/>
<text x="0" y="808.3" font-size="24" font-weight="bold">C</text>
<line x1="63.60" y1="812.50" x2="63.60" y2="1039.80" stroke="#000" stroke-width="2"/>
<line x1="60.00" y1="1038.80" x2="64.00" y2="1038.80" stroke="#000" stroke-width="2"/>
<text x="52.6" y="1044.1" font-size="13.8" font-weight="bold" text-anchor="end">0</text>
<line x1="60.00" y1="963.70" x2="64.00" y2="963.70" stroke="#000" stroke-width="2"/>
<text x="52.6" y="968.9999999999999" font-size="13.8" font-weight="bold" text-anchor="end">5</text>
<line x1="60.00" y1="888.60" x2="64.00" y2="888.60" stroke="#000" stroke-width="2"/>
<text x="52.6" y="893.8999999999999" font-size="13.8" font-weight="bold" text-anchor="end">10</text>
<line x1="60.00" y1="813.50" x2="64.00" y2="813.50" stroke="#000" stroke-width="2"/>
<text x="52.6" y="818.8" font-size="13.8" font-weight="bold" text-anchor="end">15</text>
<line x1="60.30" y1="1038.80" x2="359.50" y2="1038.80" stroke="#000" stroke-width="2"/>
<line x1="63.70" y1="1038.00" x2="63.70" y2="1042.50" stroke="#000" stroke-width="1.8"/>
<text x="64.0" y="1063" font-size="13.8" font-weight="bold" text-anchor="middle">0</text>
<line x1="112.88" y1="1038.00" x2="112.88" y2="1042.50" stroke="#000" stroke-width="1.8"/>
<text x="113.58" y="1063" font-size="13.8" font-weight="bold" text-anchor="middle">2</text>
<line x1="162.06" y1="1038.00" x2="162.06" y2="1042.50" stroke="#000" stroke-width="1.8"/>
<text x="162.76" y="1063" font-size="13.8" font-weight="bold" text-anchor="middle">4</text>
<line x1="211.24" y1="1038.00" x2="211.24" y2="1042.50" stroke="#000" stroke-width="1.8"/>
<text x="211.94" y="1063" font-size="13.8" font-weight="bold" text-anchor="middle">6</text>
<line x1="260.42" y1="1038.00" x2="260.42" y2="1042.50" stroke="#000" stroke-width="1.8"/>
<text x="261.12" y="1063" font-size="13.8" font-weight="bold" text-anchor="middle">8</text>
<line x1="309.60" y1="1038.00" x2="309.60" y2="1042.50" stroke="#000" stroke-width="1.8"/>
<text x="310.3" y="1063" font-size="13.8" font-weight="bold" text-anchor="middle">10</text>
<line x1="358.78" y1="1038.00" x2="358.78" y2="1042.50" stroke="#000" stroke-width="1.8"/>
<text x="359.47999999999996" y="1063" font-size="13.8" font-weight="bold" text-anchor="middle">12</text>
<text x="134.5" y="1089.5" font-size="15.3" font-weight="bold" textLength="159" lengthAdjust="spacingAndGlyphs">Day after DC transfer</text>
<text transform="translate(25.2,927.6) rotate(-90)" font-size="15.8" font-weight="bold" text-anchor="middle">Tetramer<tspan dy="-5.5" font-size="9.8">+</tspan><tspan dy="5.5"> of CD8</tspan><tspan dy="-5.5" font-size="9.8">+</tspan><tspan dy="5.5"> T cells (%)</tspan></text>
<polyline points="162.1,1011.5 211.2,875.6 309.6,1003.7" fill="none" stroke="#000" stroke-width="2"/>
<polyline points="162.1,996.9 211.2,985.2 309.6,1002.0" fill="none" stroke="#000" stroke-width="2"/>
<polyline points="162.1,993.0 211.2,963.4 309.6,993.5" fill="none" stroke="#000" stroke-width="2"/>
<polyline points="162.1,1000.0 211.2,993.8 309.6,987.8" fill="none" stroke="#000" stroke-width="2"/>
<line x1="211.24" y1="875.60" x2="211.24" y2="863.50" stroke="#000" stroke-width="1.6"/>
<line x1="206.74" y1="863.50" x2="215.74" y2="863.50" stroke="#000" stroke-width="1.8"/>
<line x1="162.06" y1="996.90" x2="162.06" y2="988.50" stroke="#000" stroke-width="1.6"/>
<line x1="157.56" y1="988.50" x2="166.56" y2="988.50" stroke="#000" stroke-width="1.8"/>
<line x1="162.06" y1="993.00" x2="162.06" y2="980.90" stroke="#000" stroke-width="1.6"/>
<line x1="157.56" y1="980.90" x2="166.56" y2="980.90" stroke="#000" stroke-width="1.8"/>
<line x1="211.24" y1="963.40" x2="211.24" y2="950.20" stroke="#000" stroke-width="1.6"/>
<line x1="206.74" y1="950.20" x2="215.74" y2="950.20" stroke="#000" stroke-width="1.8"/>
<line x1="309.60" y1="987.80" x2="309.60" y2="984.30" stroke="#000" stroke-width="1.6"/>
<line x1="305.10" y1="984.30" x2="314.10" y2="984.30" stroke="#000" stroke-width="1.8"/>
<polygon points="162.1,986.5 169.1,999.5 155.1,999.5"/>
<polygon points="211.2,956.9 218.2,969.9 204.2,969.9"/>
<polygon points="309.6,987.0 316.6,1000.0 302.6,1000.0"/>
<polygon points="162.1,995.4 167.1,1004.6 157.0,1004.6" fill="#fff" stroke="#000" stroke-width="1.8" stroke-linejoin="miter"/>
<polygon points="211.2,989.1 216.3,998.4 206.2,998.4" fill="#fff" stroke="#000" stroke-width="1.8" stroke-linejoin="miter"/>
<polygon points="309.6,983.1 314.7,992.4 304.6,992.4" fill="#fff" stroke="#000" stroke-width="1.8" stroke-linejoin="miter"/>
<circle cx="162.1" cy="996.9" r="5.199999999999999" fill="#fff" stroke="#000" stroke-width="1.8"/>
<circle cx="211.2" cy="985.2" r="5.199999999999999" fill="#fff" stroke="#000" stroke-width="1.8"/>
<circle cx="309.6" cy="1002.0" r="5.199999999999999" fill="#fff" stroke="#000" stroke-width="1.8"/>
<circle cx="162.1" cy="1011.5" r="6.4"/>
<circle cx="211.2" cy="875.6" r="6.4"/>
<circle cx="309.6" cy="1003.7" r="6.4"/>
<text x="213.3" y="859.3" font-size="28" font-weight="bold" text-anchor="middle">***</text>
<circle cx="332.5" cy="831.9" r="4.6"/>
<text x="354" y="837.5" font-size="15" font-weight="bold"><tspan textLength="91" lengthAdjust="spacingAndGlyphs">CD70tg CD8</tspan><tspan dy="-5.8" font-size="10">+</tspan></text>
<circle cx="332.5" cy="852.3" r="3.7" fill="#fff" stroke="#000" stroke-width="1.7"/>
<text x="354" y="857.9" font-size="15" font-weight="bold"><tspan textLength="91" lengthAdjust="spacingAndGlyphs">CD70tg CD8</tspan><tspan dy="-5.8" font-size="10">-</tspan></text>
<polygon points="332.5,868.2 338.3,878.6 326.7,878.6"/>
<text x="354" y="879.2" font-size="15" font-weight="bold"><tspan textLength="89" lengthAdjust="spacingAndGlyphs">control CD8</tspan><tspan dy="-5.8" font-size="10">+</tspan></text>
<polygon points="332.5,890.1999999999999 337,898.4 328,898.4" fill="#fff" stroke="#000" stroke-width="1.6"/>
<text x="354" y="900.0" font-size="15" font-weight="bold"><tspan textLength="89" lengthAdjust="spacingAndGlyphs">control CD8</tspan><tspan dy="-5.8" font-size="10">-</tspan></text>
</svg></body></html>
